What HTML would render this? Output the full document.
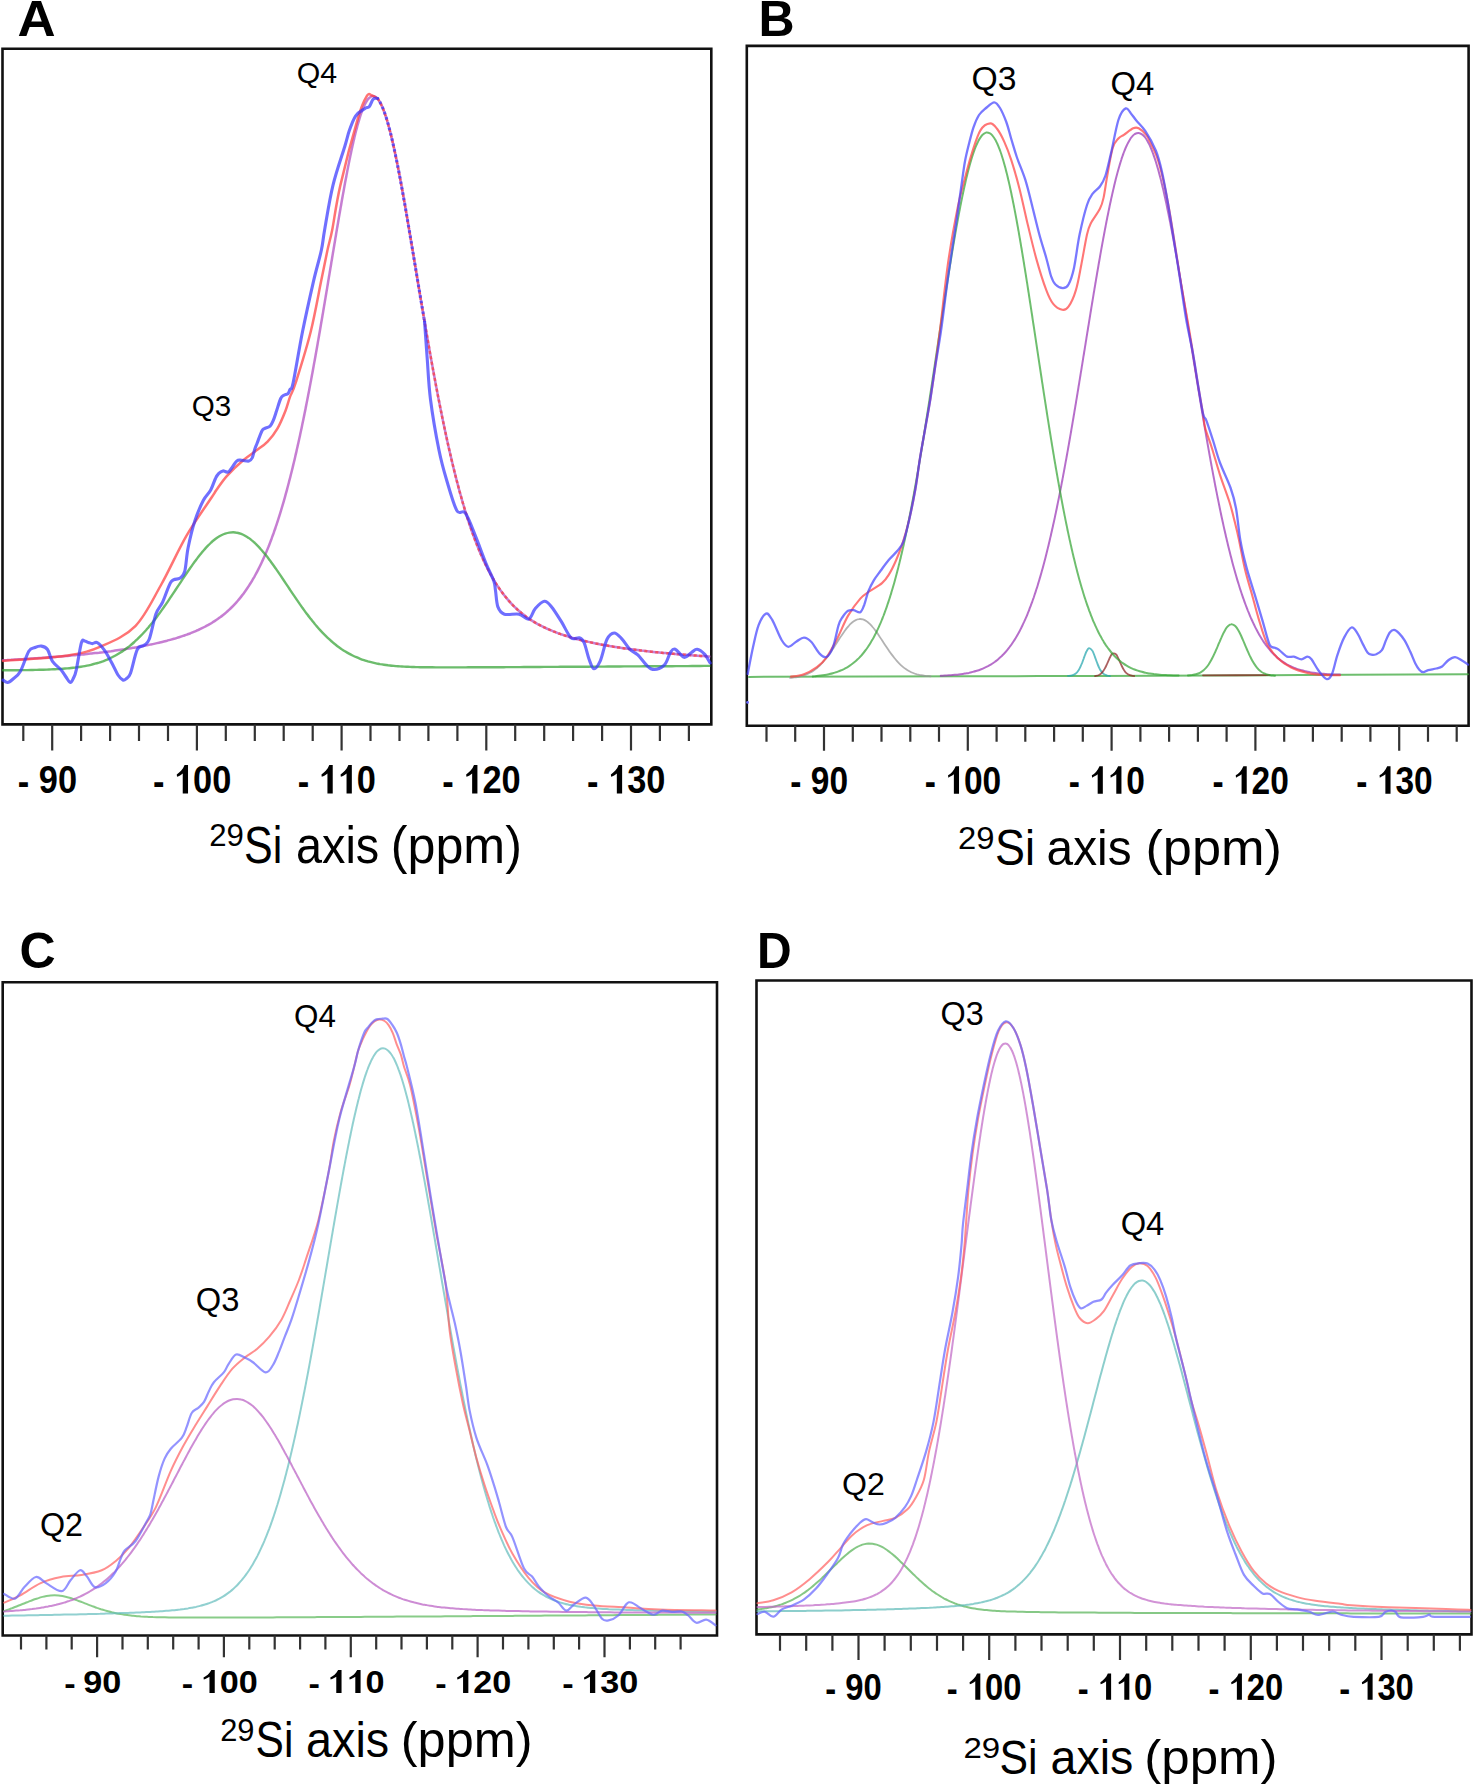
<!DOCTYPE html>
<html><head><meta charset="utf-8"><style>
html,body{margin:0;padding:0;background:#fff;}
svg{display:block;}
text{font-family:"Liberation Sans",sans-serif;}
</style></head><body>
<svg width="1475" height="1786" viewBox="0 0 1475 1786">
<rect width="1475" height="1786" fill="#fff"/>
<text transform="translate(17.5,36.0) scale(1.055,1)" font-family="Liberation Sans" font-weight="bold" font-size="50" fill="#000">A</text>
<text transform="translate(758.6,36.0) scale(1.0,1)" font-family="Liberation Sans" font-weight="bold" font-size="50" fill="#000">B</text>
<text transform="translate(19.4,967.5) scale(1.0,1)" font-family="Liberation Sans" font-weight="bold" font-size="50" fill="#000">C</text>
<text transform="translate(757.0,967.8) scale(0.96,1)" font-family="Liberation Sans" font-weight="bold" font-size="50" fill="#000">D</text>
<path d="M2.5,724.4V48.8H711.3V724.4Z" fill="none" stroke="#111" stroke-width="2.6"/>
<path d="M23.3,724.4v16.6M52.2,724.4v26.0M81.1,724.4v16.6M110.1,724.4v16.6M139.0,724.4v16.6M168.0,724.4v16.6M196.9,724.4v26.0M225.8,724.4v16.6M254.8,724.4v16.6M283.7,724.4v16.6M312.7,724.4v16.6M341.6,724.4v26.0M370.5,724.4v16.6M399.5,724.4v16.6M428.4,724.4v16.6M457.4,724.4v16.6M486.3,724.4v26.0M515.2,724.4v16.6M544.2,724.4v16.6M573.1,724.4v16.6M602.1,724.4v16.6M631.0,724.4v26.0M659.9,724.4v16.6M688.9,724.4v16.6" stroke="#333" stroke-width="2.2" fill="none"/>
<g transform="translate(47.4,793.4) scale(0.87,1)"><text x="-34.03" y="1.2" font-family="Liberation Sans" font-weight="bold" font-size="39.5" fill="#000">-</text><text x="-9.89" y="0" font-family="Liberation Sans" font-weight="bold" font-size="39.5" fill="#000">9</text><text x="12.07" y="0" font-family="Liberation Sans" font-weight="bold" font-size="39.5" fill="#000">0</text></g>
<g transform="translate(192.1,793.4) scale(0.87,1)"><text x="-45.01" y="1.2" font-family="Liberation Sans" font-weight="bold" font-size="39.5" fill="#000">-</text><path d="M-4.68,0.00L-4.68,-28.28L-8.63,-28.28C-10.61,-23.70 -14.56,-20.54 -17.64,-18.96L-17.32,-16.59C-14.95,-17.38 -12.58,-18.56 -10.76,-19.95L-10.76,0.00Z" fill="#000"/><text x="1.09" y="0" font-family="Liberation Sans" font-weight="bold" font-size="39.5" fill="#000">0</text><text x="23.05" y="0" font-family="Liberation Sans" font-weight="bold" font-size="39.5" fill="#000">0</text></g>
<g transform="translate(336.8,793.4) scale(0.87,1)"><text x="-45.01" y="1.2" font-family="Liberation Sans" font-weight="bold" font-size="39.5" fill="#000">-</text><path d="M-4.68,0.00L-4.68,-28.28L-8.63,-28.28C-10.61,-23.70 -14.56,-20.54 -17.64,-18.96L-17.32,-16.59C-14.95,-17.38 -12.58,-18.56 -10.76,-19.95L-10.76,0.00Z" fill="#000"/><path d="M17.28,0.00L17.28,-28.28L13.33,-28.28C11.36,-23.70 7.41,-20.54 4.33,-18.96L4.64,-16.59C7.01,-17.38 9.38,-18.56 11.20,-19.95L11.20,0.00Z" fill="#000"/><text x="23.05" y="0" font-family="Liberation Sans" font-weight="bold" font-size="39.5" fill="#000">0</text></g>
<g transform="translate(481.5,793.4) scale(0.87,1)"><text x="-45.01" y="1.2" font-family="Liberation Sans" font-weight="bold" font-size="39.5" fill="#000">-</text><path d="M-4.68,0.00L-4.68,-28.28L-8.63,-28.28C-10.61,-23.70 -14.56,-20.54 -17.64,-18.96L-17.32,-16.59C-14.95,-17.38 -12.58,-18.56 -10.76,-19.95L-10.76,0.00Z" fill="#000"/><text x="1.09" y="0" font-family="Liberation Sans" font-weight="bold" font-size="39.5" fill="#000">2</text><text x="23.05" y="0" font-family="Liberation Sans" font-weight="bold" font-size="39.5" fill="#000">0</text></g>
<g transform="translate(626.2,793.4) scale(0.87,1)"><text x="-45.01" y="1.2" font-family="Liberation Sans" font-weight="bold" font-size="39.5" fill="#000">-</text><path d="M-4.68,0.00L-4.68,-28.28L-8.63,-28.28C-10.61,-23.70 -14.56,-20.54 -17.64,-18.96L-17.32,-16.59C-14.95,-17.38 -12.58,-18.56 -10.76,-19.95L-10.76,0.00Z" fill="#000"/><text x="1.09" y="0" font-family="Liberation Sans" font-weight="bold" font-size="39.5" fill="#000">3</text><text x="23.05" y="0" font-family="Liberation Sans" font-weight="bold" font-size="39.5" fill="#000">0</text></g>
<text x="209.20" y="845.94" font-family="Liberation Sans" font-size="31.87" fill="#000" textLength="34.67" lengthAdjust="spacingAndGlyphs">29</text>
<text x="244.00" y="862.90" font-family="Liberation Sans" font-size="51.40" fill="#000" textLength="38.29" lengthAdjust="spacingAndGlyphs">Si</text>
<text x="296.00" y="862.90" font-family="Liberation Sans" font-size="51.40" fill="#000" textLength="83.17" lengthAdjust="spacingAndGlyphs">axis</text>
<text x="390.80" y="862.90" font-family="Liberation Sans" font-size="51.40" fill="#000" textLength="131.06" lengthAdjust="spacingAndGlyphs">(ppm)</text>
<path d="M746.8,725.8V45.9H1468.6V725.8Z" fill="none" stroke="#111" stroke-width="2.6"/>
<path d="M766.5,725.8v16.0M795.2,725.8v16.0M824.0,725.8v25.0M852.8,725.8v16.0M881.5,725.8v16.0M910.3,725.8v16.0M939.0,725.8v16.0M967.8,725.8v25.0M996.6,725.8v16.0M1025.3,725.8v16.0M1054.1,725.8v16.0M1082.8,725.8v16.0M1111.6,725.8v25.0M1140.4,725.8v16.0M1169.1,725.8v16.0M1197.9,725.8v16.0M1226.6,725.8v16.0M1255.4,725.8v25.0M1284.2,725.8v16.0M1312.9,725.8v16.0M1341.7,725.8v16.0M1370.4,725.8v16.0M1399.2,725.8v25.0M1428.0,725.8v16.0M1456.7,725.8v16.0" stroke="#333" stroke-width="2.2" fill="none"/>
<g transform="translate(819.2,793.8) scale(0.87,1)"><text x="-33.17" y="1.2" font-family="Liberation Sans" font-weight="bold" font-size="38.5" fill="#000">-</text><text x="-9.64" y="0" font-family="Liberation Sans" font-weight="bold" font-size="38.5" fill="#000">9</text><text x="11.76" y="0" font-family="Liberation Sans" font-weight="bold" font-size="38.5" fill="#000">0</text></g>
<g transform="translate(963.0,793.8) scale(0.87,1)"><text x="-43.87" y="1.2" font-family="Liberation Sans" font-weight="bold" font-size="38.5" fill="#000">-</text><path d="M-4.56,0.00L-4.56,-27.57L-8.41,-27.57C-10.34,-23.10 -14.19,-20.02 -17.19,-18.48L-16.88,-16.17C-14.57,-16.94 -12.26,-18.09 -10.49,-19.44L-10.49,0.00Z" fill="#000"/><text x="1.06" y="0" font-family="Liberation Sans" font-weight="bold" font-size="38.5" fill="#000">0</text><text x="22.46" y="0" font-family="Liberation Sans" font-weight="bold" font-size="38.5" fill="#000">0</text></g>
<g transform="translate(1106.8,793.8) scale(0.87,1)"><text x="-43.87" y="1.2" font-family="Liberation Sans" font-weight="bold" font-size="38.5" fill="#000">-</text><path d="M-4.56,0.00L-4.56,-27.57L-8.41,-27.57C-10.34,-23.10 -14.19,-20.02 -17.19,-18.48L-16.88,-16.17C-14.57,-16.94 -12.26,-18.09 -10.49,-19.44L-10.49,0.00Z" fill="#000"/><path d="M16.84,0.00L16.84,-27.57L12.99,-27.57C11.07,-23.10 7.22,-20.02 4.22,-18.48L4.52,-16.17C6.83,-16.94 9.14,-18.09 10.91,-19.44L10.91,0.00Z" fill="#000"/><text x="22.46" y="0" font-family="Liberation Sans" font-weight="bold" font-size="38.5" fill="#000">0</text></g>
<g transform="translate(1250.7,793.8) scale(0.87,1)"><text x="-43.87" y="1.2" font-family="Liberation Sans" font-weight="bold" font-size="38.5" fill="#000">-</text><path d="M-4.56,0.00L-4.56,-27.57L-8.41,-27.57C-10.34,-23.10 -14.19,-20.02 -17.19,-18.48L-16.88,-16.17C-14.57,-16.94 -12.26,-18.09 -10.49,-19.44L-10.49,0.00Z" fill="#000"/><text x="1.06" y="0" font-family="Liberation Sans" font-weight="bold" font-size="38.5" fill="#000">2</text><text x="22.46" y="0" font-family="Liberation Sans" font-weight="bold" font-size="38.5" fill="#000">0</text></g>
<g transform="translate(1394.5,793.8) scale(0.87,1)"><text x="-43.87" y="1.2" font-family="Liberation Sans" font-weight="bold" font-size="38.5" fill="#000">-</text><path d="M-4.56,0.00L-4.56,-27.57L-8.41,-27.57C-10.34,-23.10 -14.19,-20.02 -17.19,-18.48L-16.88,-16.17C-14.57,-16.94 -12.26,-18.09 -10.49,-19.44L-10.49,0.00Z" fill="#000"/><text x="1.06" y="0" font-family="Liberation Sans" font-weight="bold" font-size="38.5" fill="#000">3</text><text x="22.46" y="0" font-family="Liberation Sans" font-weight="bold" font-size="38.5" fill="#000">0</text></g>
<text x="958.00" y="848.89" font-family="Liberation Sans" font-size="30.83" fill="#000" textLength="36.48" lengthAdjust="spacingAndGlyphs">29</text>
<text x="995.00" y="865.30" font-family="Liberation Sans" font-size="49.72" fill="#000" textLength="39.93" lengthAdjust="spacingAndGlyphs">Si</text>
<text x="1046.60" y="865.30" font-family="Liberation Sans" font-size="49.72" fill="#000" textLength="85.01" lengthAdjust="spacingAndGlyphs">axis</text>
<text x="1145.40" y="865.30" font-family="Liberation Sans" font-size="49.72" fill="#000" textLength="136.56" lengthAdjust="spacingAndGlyphs">(ppm)</text>
<path d="M2.7,1635.5V982.3H717.0V1635.5Z" fill="none" stroke="#111" stroke-width="2.6"/>
<path d="M21.0,1635.5v14.1M46.4,1635.5v14.1M71.7,1635.5v14.1M97.1,1635.5v21.8M122.5,1635.5v14.1M147.8,1635.5v14.1M173.2,1635.5v14.1M198.6,1635.5v14.1M223.9,1635.5v21.8M249.3,1635.5v14.1M274.7,1635.5v14.1M300.1,1635.5v14.1M325.4,1635.5v14.1M350.8,1635.5v21.8M376.2,1635.5v14.1M401.5,1635.5v14.1M426.9,1635.5v14.1M452.3,1635.5v14.1M477.6,1635.5v21.8M503.0,1635.5v14.1M528.4,1635.5v14.1M553.8,1635.5v14.1M579.1,1635.5v14.1M604.5,1635.5v21.8M629.9,1635.5v14.1M655.2,1635.5v14.1M680.6,1635.5v14.1" stroke="#333" stroke-width="2.2" fill="none"/>
<g transform="translate(91.9,1692.9) scale(1.07,1)"><text x="-25.77" y="1.2" font-family="Liberation Sans" font-weight="bold" font-size="32" fill="#000">-</text><text x="-8.02" y="0" font-family="Liberation Sans" font-weight="bold" font-size="32" fill="#000">9</text><text x="9.78" y="0" font-family="Liberation Sans" font-weight="bold" font-size="32" fill="#000">0</text></g>
<g transform="translate(218.8,1692.9) scale(1.07,1)"><text x="-34.66" y="1.2" font-family="Liberation Sans" font-weight="bold" font-size="32" fill="#000">-</text><path d="M-3.79,0.00L-3.79,-22.91L-6.99,-22.91C-8.59,-19.20 -11.79,-16.64 -14.29,-15.36L-14.03,-13.44C-12.11,-14.08 -10.19,-15.04 -8.72,-16.16L-8.72,0.00Z" fill="#000"/><text x="0.88" y="0" font-family="Liberation Sans" font-weight="bold" font-size="32" fill="#000">0</text><text x="18.67" y="0" font-family="Liberation Sans" font-weight="bold" font-size="32" fill="#000">0</text></g>
<g transform="translate(345.6,1692.9) scale(1.07,1)"><text x="-34.66" y="1.2" font-family="Liberation Sans" font-weight="bold" font-size="32" fill="#000">-</text><path d="M-3.79,0.00L-3.79,-22.91L-6.99,-22.91C-8.59,-19.20 -11.79,-16.64 -14.29,-15.36L-14.03,-13.44C-12.11,-14.08 -10.19,-15.04 -8.72,-16.16L-8.72,0.00Z" fill="#000"/><path d="M14.00,0.00L14.00,-22.91L10.80,-22.91C9.20,-19.20 6.00,-16.64 3.50,-15.36L3.76,-13.44C5.68,-14.08 7.60,-15.04 9.07,-16.16L9.07,0.00Z" fill="#000"/><text x="18.67" y="0" font-family="Liberation Sans" font-weight="bold" font-size="32" fill="#000">0</text></g>
<g transform="translate(472.4,1692.9) scale(1.07,1)"><text x="-34.66" y="1.2" font-family="Liberation Sans" font-weight="bold" font-size="32" fill="#000">-</text><path d="M-3.79,0.00L-3.79,-22.91L-6.99,-22.91C-8.59,-19.20 -11.79,-16.64 -14.29,-15.36L-14.03,-13.44C-12.11,-14.08 -10.19,-15.04 -8.72,-16.16L-8.72,0.00Z" fill="#000"/><text x="0.88" y="0" font-family="Liberation Sans" font-weight="bold" font-size="32" fill="#000">2</text><text x="18.67" y="0" font-family="Liberation Sans" font-weight="bold" font-size="32" fill="#000">0</text></g>
<g transform="translate(599.3,1692.9) scale(1.07,1)"><text x="-34.66" y="1.2" font-family="Liberation Sans" font-weight="bold" font-size="32" fill="#000">-</text><path d="M-3.79,0.00L-3.79,-22.91L-6.99,-22.91C-8.59,-19.20 -11.79,-16.64 -14.29,-15.36L-14.03,-13.44C-12.11,-14.08 -10.19,-15.04 -8.72,-16.16L-8.72,0.00Z" fill="#000"/><text x="0.88" y="0" font-family="Liberation Sans" font-weight="bold" font-size="32" fill="#000">3</text><text x="18.67" y="0" font-family="Liberation Sans" font-weight="bold" font-size="32" fill="#000">0</text></g>
<text x="220.20" y="1740.78" font-family="Liberation Sans" font-size="30.48" fill="#000" textLength="34.31" lengthAdjust="spacingAndGlyphs">29</text>
<text x="255.60" y="1757.00" font-family="Liberation Sans" font-size="49.16" fill="#000" textLength="37.78" lengthAdjust="spacingAndGlyphs">Si</text>
<text x="306.00" y="1757.00" font-family="Liberation Sans" font-size="49.16" fill="#000" textLength="83.17" lengthAdjust="spacingAndGlyphs">axis</text>
<text x="400.80" y="1757.00" font-family="Liberation Sans" font-size="49.16" fill="#000" textLength="131.68" lengthAdjust="spacingAndGlyphs">(ppm)</text>
<path d="M756.5,1634.4V980.5H1471.5V1634.4Z" fill="none" stroke="#111" stroke-width="2.6"/>
<path d="M780.0,1634.4v16.4M806.2,1634.4v16.4M832.4,1634.4v16.4M858.5,1634.4v25.5M884.6,1634.4v16.4M910.8,1634.4v16.4M937.0,1634.4v16.4M963.1,1634.4v16.4M989.2,1634.4v25.5M1015.4,1634.4v16.4M1041.5,1634.4v16.4M1067.7,1634.4v16.4M1093.8,1634.4v16.4M1120.0,1634.4v25.5M1146.2,1634.4v16.4M1172.3,1634.4v16.4M1198.5,1634.4v16.4M1224.6,1634.4v16.4M1250.8,1634.4v25.5M1276.9,1634.4v16.4M1303.0,1634.4v16.4M1329.2,1634.4v16.4M1355.3,1634.4v16.4M1381.5,1634.4v25.5M1407.7,1634.4v16.4M1433.8,1634.4v16.4M1459.9,1634.4v16.4" stroke="#333" stroke-width="2.2" fill="none"/>
<g transform="translate(853.5,1699.7) scale(0.895,1)"><text x="-31.53" y="1.2" font-family="Liberation Sans" font-weight="bold" font-size="36.6" fill="#000">-</text><text x="-9.17" y="0" font-family="Liberation Sans" font-weight="bold" font-size="36.6" fill="#000">9</text><text x="11.18" y="0" font-family="Liberation Sans" font-weight="bold" font-size="36.6" fill="#000">0</text></g>
<g transform="translate(984.2,1699.7) scale(0.895,1)"><text x="-41.71" y="1.2" font-family="Liberation Sans" font-weight="bold" font-size="36.6" fill="#000">-</text><path d="M-4.34,0.00L-4.34,-26.21L-8.00,-26.21C-9.83,-21.96 -13.49,-19.03 -16.34,-17.57L-16.05,-15.37C-13.85,-16.10 -11.66,-17.20 -9.97,-18.48L-9.97,0.00Z" fill="#000"/><text x="1.01" y="0" font-family="Liberation Sans" font-weight="bold" font-size="36.6" fill="#000">0</text><text x="21.36" y="0" font-family="Liberation Sans" font-weight="bold" font-size="36.6" fill="#000">0</text></g>
<g transform="translate(1115.0,1699.7) scale(0.895,1)"><text x="-41.71" y="1.2" font-family="Liberation Sans" font-weight="bold" font-size="36.6" fill="#000">-</text><path d="M-4.34,0.00L-4.34,-26.21L-8.00,-26.21C-9.83,-21.96 -13.49,-19.03 -16.34,-17.57L-16.05,-15.37C-13.85,-16.10 -11.66,-17.20 -9.97,-18.48L-9.97,0.00Z" fill="#000"/><path d="M16.01,0.00L16.01,-26.21L12.35,-26.21C10.52,-21.96 6.86,-19.03 4.01,-17.57L4.30,-15.37C6.50,-16.10 8.69,-17.20 10.38,-18.48L10.38,0.00Z" fill="#000"/><text x="21.36" y="0" font-family="Liberation Sans" font-weight="bold" font-size="36.6" fill="#000">0</text></g>
<g transform="translate(1245.8,1699.7) scale(0.895,1)"><text x="-41.71" y="1.2" font-family="Liberation Sans" font-weight="bold" font-size="36.6" fill="#000">-</text><path d="M-4.34,0.00L-4.34,-26.21L-8.00,-26.21C-9.83,-21.96 -13.49,-19.03 -16.34,-17.57L-16.05,-15.37C-13.85,-16.10 -11.66,-17.20 -9.97,-18.48L-9.97,0.00Z" fill="#000"/><text x="1.01" y="0" font-family="Liberation Sans" font-weight="bold" font-size="36.6" fill="#000">2</text><text x="21.36" y="0" font-family="Liberation Sans" font-weight="bold" font-size="36.6" fill="#000">0</text></g>
<g transform="translate(1376.5,1699.7) scale(0.895,1)"><text x="-41.71" y="1.2" font-family="Liberation Sans" font-weight="bold" font-size="36.6" fill="#000">-</text><path d="M-4.34,0.00L-4.34,-26.21L-8.00,-26.21C-9.83,-21.96 -13.49,-19.03 -16.34,-17.57L-16.05,-15.37C-13.85,-16.10 -11.66,-17.20 -9.97,-18.48L-9.97,0.00Z" fill="#000"/><text x="1.01" y="0" font-family="Liberation Sans" font-weight="bold" font-size="36.6" fill="#000">3</text><text x="21.36" y="0" font-family="Liberation Sans" font-weight="bold" font-size="36.6" fill="#000">0</text></g>
<text x="963.40" y="1757.75" font-family="Liberation Sans" font-size="29.79" fill="#000" textLength="36.75" lengthAdjust="spacingAndGlyphs">29</text>
<text x="999.50" y="1773.60" font-family="Liberation Sans" font-size="48.04" fill="#000" textLength="38.06" lengthAdjust="spacingAndGlyphs">Si</text>
<text x="1050.50" y="1773.60" font-family="Liberation Sans" font-size="48.04" fill="#000" textLength="82.76" lengthAdjust="spacingAndGlyphs">axis</text>
<text x="1144.30" y="1773.60" font-family="Liberation Sans" font-size="48.04" fill="#000" textLength="133.30" lengthAdjust="spacingAndGlyphs">(ppm)</text>
<path d="M3.0,660.2C3.7,660.1 5.7,660.0 7.0,660.0C8.3,659.9 9.7,659.8 11.0,659.8C12.3,659.7 13.7,659.6 15.0,659.5C16.3,659.5 17.7,659.4 19.0,659.3C20.3,659.2 21.7,659.1 23.0,659.1C24.3,659.0 25.7,658.9 27.0,658.8C28.3,658.7 29.7,658.7 31.0,658.6C32.3,658.5 33.7,658.4 35.0,658.3C36.3,658.2 37.7,658.1 39.0,658.0C40.3,658.0 41.7,657.9 43.0,657.8C44.3,657.7 45.7,657.6 47.0,657.5C48.3,657.4 49.7,657.3 51.0,657.2C52.3,657.1 53.7,657.0 55.0,656.9C56.3,656.8 57.7,656.7 59.0,656.6C60.3,656.5 61.7,656.3 63.0,656.2C64.3,656.1 65.7,656.0 67.0,655.9C68.3,655.8 69.7,655.7 71.0,655.5C72.3,655.4 73.7,655.3 75.0,655.2C76.3,655.0 77.7,654.9 79.0,654.8C80.3,654.7 81.7,654.5 83.0,654.4C84.3,654.3 85.7,654.1 87.0,654.0C88.3,653.8 89.7,653.7 91.0,653.6C92.3,653.4 93.7,653.3 95.0,653.1C96.3,653.0 97.7,652.8 99.0,652.7C100.3,652.5 101.7,652.3 103.0,652.2C104.3,652.0 105.7,651.8 107.0,651.7C108.3,651.5 109.7,651.3 111.0,651.2C112.3,651.0 113.7,650.8 115.0,650.6C116.3,650.4 117.7,650.2 119.0,650.0C120.3,649.9 121.7,649.7 123.0,649.5C124.3,649.3 125.7,649.0 127.0,648.8C128.3,648.6 129.7,648.4 131.0,648.2C132.3,648.0 133.7,647.7 135.0,647.5C136.3,647.3 137.7,647.0 139.0,646.8C140.3,646.6 141.7,646.3 143.0,646.1C144.3,645.8 145.7,645.5 147.0,645.3C148.3,645.0 149.7,644.7 151.0,644.4C152.3,644.2 153.7,643.9 155.0,643.6C156.3,643.3 157.7,643.0 159.0,642.7C160.3,642.4 161.7,642.0 163.0,641.7C164.3,641.4 165.7,641.0 167.0,640.7C168.3,640.3 169.7,640.0 171.0,639.6C172.3,639.2 173.7,638.8 175.0,638.5C176.3,638.1 177.7,637.6 179.0,637.2C180.3,636.8 181.7,636.4 183.0,635.9C184.3,635.5 185.5,635.0 186.8,634.6C188.1,634.1 189.3,633.6 190.6,633.2C191.9,632.7 193.1,632.2 194.4,631.6C195.7,631.1 196.9,630.5 198.2,630.0C199.5,629.4 200.8,628.8 202.0,628.2C203.2,627.6 204.4,627.0 205.6,626.4C206.8,625.7 208.0,625.1 209.2,624.4C210.4,623.7 211.6,623.0 212.8,622.2C214.0,621.5 215.1,620.8 216.2,620.0C217.3,619.3 218.5,618.4 219.6,617.6C220.7,616.8 221.7,616.1 222.8,615.2C223.9,614.4 225.0,613.5 226.0,612.6C227.0,611.7 228.0,610.8 229.0,609.9C230.0,609.0 231.0,608.0 232.0,607.0C233.0,606.0 233.9,605.1 234.8,604.1C235.7,603.1 236.7,602.0 237.6,601.0C238.5,600.0 239.3,599.0 240.2,597.9C241.1,596.8 242.0,595.7 242.8,594.6C243.6,593.5 244.4,592.4 245.2,591.3C246.0,590.2 246.8,589.0 247.6,587.8C248.4,586.7 249.1,585.6 249.8,584.4C250.5,583.3 251.3,582.1 252.0,580.8C252.7,579.6 253.5,578.3 254.2,577.1C254.9,575.8 255.5,574.7 256.2,573.4C256.9,572.2 257.6,570.8 258.2,569.6C258.8,568.4 259.4,567.2 260.0,566.0C260.6,564.8 261.2,563.5 261.8,562.2C262.4,561.0 263.0,559.6 263.6,558.3C264.2,557.0 264.8,555.5 265.4,554.2C266.0,552.9 266.5,551.7 267.0,550.4C267.5,549.1 268.1,547.8 268.6,546.5C269.1,545.1 269.7,543.8 270.2,542.4C270.7,541.0 271.3,539.5 271.8,538.1C272.3,536.8 272.7,535.6 273.2,534.3C273.7,533.0 274.1,531.6 274.6,530.3C275.1,529.0 275.5,527.6 276.0,526.2C276.5,524.8 276.9,523.4 277.4,522.0C277.9,520.6 278.4,519.0 278.8,517.7C279.2,516.3 279.6,515.1 280.0,513.8C280.4,512.5 280.8,511.2 281.2,509.9C281.6,508.6 282.0,507.3 282.4,505.9C282.8,504.5 283.2,503.2 283.6,501.8C284.0,500.4 284.4,499.0 284.8,497.6C285.2,496.1 285.6,494.7 286.0,493.2C286.4,491.8 286.8,490.3 287.2,488.8C287.6,487.3 288.0,485.8 288.4,484.3C288.8,482.8 289.2,481.1 289.6,479.7C290.0,478.3 290.3,477.1 290.6,475.8C290.9,474.4 291.3,473.1 291.6,471.8C291.9,470.4 292.3,469.1 292.6,467.7C292.9,466.3 293.3,465.0 293.6,463.6C293.9,462.2 294.3,460.8 294.6,459.4C294.9,457.9 295.3,456.5 295.6,455.1C295.9,453.6 296.3,452.2 296.6,450.7C296.9,449.3 297.3,447.8 297.6,446.3C297.9,444.8 298.3,443.3 298.6,441.8C298.9,440.3 299.3,438.8 299.6,437.2C299.9,435.7 300.3,434.2 300.6,432.6C300.9,431.0 301.3,429.5 301.6,427.9C301.9,426.3 302.3,424.7 302.6,423.1C302.9,421.5 303.3,419.7 303.6,418.3C303.9,416.8 304.1,415.7 304.4,414.4C304.7,413.0 304.9,411.7 305.2,410.4C305.5,409.1 305.7,407.7 306.0,406.4C306.3,405.0 306.5,403.7 306.8,402.3C307.1,401.0 307.3,399.6 307.6,398.2C307.9,396.9 308.1,395.5 308.4,394.1C308.7,392.7 308.9,391.3 309.2,389.9C309.5,388.5 309.7,387.1 310.0,385.7C310.3,384.3 310.5,382.9 310.8,381.5C311.1,380.1 311.3,378.6 311.6,377.2C311.9,375.8 312.1,374.3 312.4,372.9C312.7,371.4 312.9,370.0 313.2,368.5C313.5,367.1 313.7,365.6 314.0,364.1C314.3,362.6 314.5,361.2 314.8,359.7C315.1,358.2 315.3,356.7 315.6,355.2C315.9,353.7 316.1,352.2 316.4,350.7C316.7,349.2 316.9,347.7 317.2,346.2C317.5,344.7 317.7,343.2 318.0,341.6C318.3,340.1 318.5,338.6 318.8,337.1C319.1,335.5 319.3,334.0 319.6,332.4C319.9,330.9 320.1,329.4 320.4,327.8C320.7,326.3 320.9,324.7 321.2,323.1C321.5,321.6 321.7,320.0 322.0,318.5C322.3,316.9 322.5,315.3 322.8,313.8C323.1,312.2 323.3,310.6 323.6,309.0C323.9,307.4 324.1,305.9 324.4,304.3C324.7,302.7 324.9,301.1 325.2,299.5C325.5,297.9 325.7,296.3 326.0,294.7C326.3,293.1 326.5,291.6 326.8,290.0C327.1,288.4 327.3,286.8 327.6,285.2C327.9,283.6 328.1,281.9 328.4,280.3C328.7,278.7 328.9,277.1 329.2,275.5C329.5,273.9 329.7,272.3 330.0,270.7C330.3,269.1 330.5,267.5 330.8,265.9C331.1,264.3 331.3,262.7 331.6,261.1C331.9,259.5 332.1,257.9 332.4,256.3C332.7,254.7 332.9,253.1 333.2,251.5C333.5,249.9 333.7,248.3 334.0,246.7C334.3,245.1 334.5,243.5 334.8,241.9C335.1,240.3 335.3,238.7 335.6,237.1C335.9,235.5 336.1,233.9 336.4,232.3C336.7,230.8 336.9,229.2 337.2,227.6C337.5,226.0 337.7,224.5 338.0,222.9C338.3,221.3 338.5,219.8 338.8,218.2C339.1,216.7 339.3,215.1 339.6,213.6C339.9,212.0 340.1,210.5 340.4,208.9C340.7,207.4 340.9,205.9 341.2,204.4C341.5,202.8 341.7,201.3 342.0,199.8C342.3,198.3 342.5,196.8 342.8,195.3C343.1,193.8 343.3,192.4 343.6,190.9C343.9,189.4 344.1,187.9 344.4,186.5C344.7,185.0 344.9,183.6 345.2,182.1C345.5,180.7 345.7,179.3 346.0,177.9C346.3,176.5 346.5,175.0 346.8,173.7C347.1,172.3 347.3,170.9 347.6,169.5C347.9,168.1 348.1,166.8 348.4,165.4C348.7,164.1 348.9,162.9 349.2,161.4C349.5,160.0 349.9,158.2 350.2,156.6C350.5,154.9 350.9,153.4 351.2,151.8C351.5,150.2 351.9,148.7 352.2,147.2C352.5,145.7 352.9,144.2 353.2,142.7C353.5,141.3 353.9,139.8 354.2,138.4C354.5,137.0 354.9,135.6 355.2,134.3C355.5,133.0 355.8,131.8 356.2,130.3C356.6,128.9 357.0,127.3 357.4,125.8C357.8,124.4 358.2,123.0 358.6,121.6C359.0,120.2 359.4,119.0 359.8,117.6C360.2,116.3 360.7,114.7 361.2,113.4C361.7,112.1 362.1,110.9 362.6,109.6C363.1,108.3 363.6,107.1 364.2,105.8C364.8,104.5 365.5,103.1 366.2,101.9C366.9,100.7 367.6,99.4 368.6,98.5C369.6,97.5 370.8,96.4 372.0,96.1C373.2,95.9 374.7,96.4 375.8,97.0C376.9,97.7 377.8,98.9 378.6,100.0C379.4,101.1 380.1,102.5 380.8,103.7C381.5,105.0 382.0,106.3 382.6,107.6C383.2,109.0 383.7,110.4 384.2,111.7C384.7,113.1 385.1,114.4 385.6,115.8C386.1,117.2 386.6,118.8 387.0,120.2C387.4,121.7 387.8,123.0 388.2,124.4C388.6,125.8 389.0,127.4 389.4,128.8C389.8,130.2 390.1,131.4 390.4,132.7C390.7,134.0 391.1,135.4 391.4,136.8C391.7,138.1 392.1,139.6 392.4,141.0C392.7,142.4 393.1,143.9 393.4,145.4C393.7,146.9 394.1,148.4 394.4,149.9C394.7,151.5 395.1,153.0 395.4,154.6C395.7,156.2 396.1,158.0 396.4,159.5C396.7,160.9 396.9,162.1 397.2,163.4C397.5,164.7 397.7,166.1 398.0,167.5C398.3,168.8 398.5,170.2 398.8,171.6C399.1,172.9 399.3,174.3 399.6,175.7C399.9,177.1 400.1,178.6 400.4,180.0C400.7,181.4 400.9,182.8 401.2,184.3C401.5,185.7 401.7,187.2 402.0,188.7C402.3,190.1 402.5,191.6 402.8,193.1C403.1,194.6 403.3,196.0 403.6,197.5C403.9,199.0 404.1,200.5 404.4,202.1C404.7,203.6 404.9,205.1 405.2,206.6C405.5,208.1 405.7,209.7 406.0,211.2C406.3,212.8 406.5,214.3 406.8,215.8C407.1,217.4 407.3,219.0 407.6,220.5C407.9,222.1 408.1,223.6 408.4,225.2C408.7,226.8 408.9,228.3 409.2,229.9C409.5,231.5 409.7,233.1 410.0,234.7C410.3,236.2 410.5,237.8 410.8,239.4C411.1,241.0 411.3,242.6 411.6,244.2C411.9,245.8 412.1,247.4 412.4,249.0C412.7,250.6 412.9,252.2 413.2,253.8C413.5,255.4 413.7,257.0 414.0,258.6C414.3,260.2 414.5,261.8 414.8,263.4C415.1,265.0 415.3,266.6 415.6,268.2C415.9,269.8 416.1,271.4 416.4,273.0C416.7,274.6 416.9,276.2 417.2,277.8C417.5,279.5 417.7,281.1 418.0,282.7C418.3,284.3 418.5,285.9 418.8,287.5C419.1,289.1 419.3,290.6 419.6,292.2C419.9,293.8 420.1,295.4 420.4,297.0C420.7,298.6 420.9,300.2 421.2,301.8C421.5,303.4 421.7,305.0 422.0,306.5C422.3,308.1 422.5,309.7 422.8,311.3C423.1,312.8 423.3,314.4 423.6,316.0C423.9,317.5 424.1,319.1 424.4,320.7C424.7,322.2 424.9,323.8 425.2,325.3C425.5,326.9 425.7,328.4 426.0,330.0C426.3,331.5 426.5,333.1 426.8,334.6C427.1,336.1 427.3,337.7 427.6,339.2C427.9,340.7 428.1,342.3 428.4,343.8C428.7,345.3 428.9,346.8 429.2,348.3C429.5,349.8 429.7,351.3 430.0,352.8C430.3,354.3 430.5,355.8 430.8,357.3C431.1,358.8 431.3,360.3 431.6,361.7C431.9,363.2 432.1,364.7 432.4,366.1C432.7,367.6 432.9,369.1 433.2,370.5C433.5,372.0 433.7,373.4 434.0,374.8C434.3,376.3 434.5,377.7 434.8,379.1C435.1,380.6 435.3,382.0 435.6,383.4C435.9,384.8 436.1,386.2 436.4,387.6C436.7,389.0 436.9,390.4 437.2,391.8C437.5,393.2 437.7,394.6 438.0,396.0C438.3,397.3 438.5,398.7 438.8,400.1C439.1,401.4 439.3,402.8 439.6,404.1C439.9,405.5 440.1,406.8 440.4,408.2C440.7,409.5 440.9,410.8 441.2,412.1C441.5,413.5 441.7,414.6 442.0,416.1C442.3,417.5 442.7,419.3 443.0,420.9C443.3,422.5 443.7,424.1 444.0,425.7C444.3,427.3 444.7,428.9 445.0,430.5C445.3,432.0 445.7,433.6 446.0,435.1C446.3,436.6 446.7,438.2 447.0,439.7C447.3,441.2 447.7,442.7 448.0,444.2C448.3,445.7 448.7,447.2 449.0,448.7C449.3,450.1 449.7,451.6 450.0,453.0C450.3,454.5 450.7,455.9 451.0,457.3C451.3,458.8 451.7,460.2 452.0,461.6C452.3,463.0 452.7,464.4 453.0,465.7C453.3,467.1 453.7,468.5 454.0,469.8C454.3,471.2 454.7,472.5 455.0,473.8C455.3,475.2 455.7,476.5 456.0,477.8C456.3,479.1 456.6,480.3 457.0,481.7C457.4,483.1 457.8,484.7 458.2,486.2C458.6,487.7 459.0,489.2 459.4,490.7C459.8,492.2 460.2,493.6 460.6,495.0C461.0,496.5 461.4,497.9 461.8,499.3C462.2,500.7 462.6,502.1 463.0,503.5C463.4,504.8 463.8,506.2 464.2,507.5C464.6,508.9 465.0,510.2 465.4,511.5C465.8,512.8 466.2,514.0 466.6,515.3C467.0,516.7 467.5,518.3 468.0,519.7C468.5,521.2 468.9,522.6 469.4,524.0C469.9,525.4 470.3,526.8 470.8,528.1C471.3,529.5 471.7,530.8 472.2,532.1C472.7,533.4 473.1,534.7 473.6,536.0C474.1,537.3 474.5,538.5 475.0,539.8C475.5,541.1 476.1,542.6 476.6,543.9C477.1,545.3 477.7,546.6 478.2,547.9C478.7,549.3 479.3,550.5 479.8,551.8C480.3,553.1 480.8,554.2 481.4,555.5C482.0,556.8 482.6,558.2 483.2,559.5C483.8,560.9 484.4,562.1 485.0,563.4C485.6,564.6 486.2,565.8 486.8,567.1C487.4,568.3 488.1,569.7 488.8,571.0C489.5,572.2 490.1,573.5 490.8,574.7C491.5,575.9 492.1,577.0 492.8,578.2C493.5,579.4 494.3,580.7 495.0,581.9C495.7,583.1 496.4,584.2 497.2,585.4C498.0,586.5 498.8,587.8 499.6,588.9C500.4,590.1 501.2,591.2 502.0,592.3C502.8,593.4 503.7,594.6 504.6,595.7C505.5,596.8 506.3,597.8 507.2,598.9C508.1,600.0 509.1,601.1 510.0,602.1C510.9,603.1 511.8,604.1 512.8,605.1C513.8,606.1 514.8,607.1 515.8,608.0C516.8,609.0 517.8,609.9 518.8,610.8C519.8,611.7 520.9,612.6 522.0,613.5C523.1,614.3 524.1,615.1 525.2,616.0C526.3,616.8 527.5,617.6 528.6,618.4C529.7,619.2 530.8,619.9 532.0,620.6C533.2,621.4 534.4,622.1 535.6,622.8C536.8,623.5 538.0,624.2 539.2,624.8C540.4,625.5 541.6,626.1 542.8,626.7C544.0,627.3 545.3,627.9 546.6,628.5C547.9,629.1 549.1,629.7 550.4,630.2C551.7,630.7 552.9,631.2 554.2,631.7C555.5,632.2 556.7,632.7 558.0,633.2C559.3,633.6 560.5,634.1 561.8,634.5C563.1,634.9 564.3,635.4 565.6,635.8C566.9,636.2 568.3,636.6 569.6,637.0C570.9,637.4 572.3,637.8 573.6,638.2C574.9,638.5 576.3,638.9 577.6,639.2C578.9,639.6 580.3,639.9 581.6,640.3C582.9,640.6 584.3,640.9 585.6,641.2C586.9,641.5 588.3,641.8 589.6,642.1C590.9,642.4 592.3,642.7 593.6,643.0C594.9,643.3 596.3,643.5 597.6,643.8C598.9,644.1 600.3,644.3 601.6,644.6C602.9,644.8 604.3,645.1 605.6,645.3C606.9,645.6 608.3,645.8 609.6,646.0C610.9,646.2 612.3,646.5 613.6,646.7C614.9,646.9 616.3,647.1 617.6,647.3C618.9,647.5 620.3,647.7 621.6,647.9C622.9,648.1 624.3,648.3 625.6,648.5C626.9,648.7 628.3,648.9 629.6,649.1C630.9,649.2 632.3,649.4 633.6,649.6C634.9,649.8 636.3,649.9 637.6,650.1C638.9,650.3 640.3,650.4 641.6,650.6C642.9,650.7 644.3,650.9 645.6,651.1C646.9,651.2 648.3,651.4 649.6,651.5C650.9,651.6 652.3,651.8 653.6,651.9C654.9,652.1 656.3,652.2 657.6,652.3C658.9,652.5 660.3,652.6 661.6,652.7C662.9,652.9 664.3,653.0 665.6,653.1C666.9,653.2 668.3,653.4 669.6,653.5C670.9,653.6 672.3,653.7 673.6,653.8C674.9,653.9 676.3,654.1 677.6,654.2C678.9,654.3 680.3,654.4 681.6,654.5C682.9,654.6 684.3,654.7 685.6,654.8C686.9,654.9 688.3,655.0 689.6,655.1C690.9,655.2 692.3,655.3 693.6,655.4C694.9,655.5 696.3,655.6 697.6,655.7C698.9,655.8 700.3,655.9 701.6,655.9C702.9,656.0 704.3,656.1 705.6,656.2C706.9,656.3 708.8,656.4 709.4,656.4" fill="none" stroke="#b04cc0" stroke-opacity="0.72" stroke-width="2.5" stroke-linejoin="round" stroke-linecap="round"/>
<path d="M3.0,670.3C3.7,670.3 5.7,670.3 7.0,670.3C8.3,670.3 9.7,670.3 11.0,670.3C12.3,670.2 13.7,670.2 15.0,670.2C16.3,670.2 17.7,670.2 19.0,670.2C20.3,670.2 21.7,670.1 23.0,670.1C24.3,670.1 25.7,670.1 27.0,670.1C28.3,670.0 29.7,670.0 31.0,670.0C32.3,670.0 33.7,669.9 35.0,669.9C36.3,669.9 37.7,669.8 39.0,669.8C40.3,669.8 41.7,669.7 43.0,669.7C44.3,669.6 45.7,669.6 47.0,669.6C48.3,669.5 49.7,669.5 51.0,669.4C52.3,669.3 53.7,669.3 55.0,669.2C56.3,669.1 57.7,669.1 59.0,669.0C60.3,668.9 61.7,668.8 63.0,668.7C64.3,668.6 65.7,668.5 67.0,668.4C68.3,668.3 69.7,668.2 71.0,668.0C72.3,667.9 73.7,667.7 75.0,667.6C76.3,667.4 77.7,667.2 79.0,667.0C80.3,666.8 81.7,666.6 83.0,666.4C84.3,666.2 85.7,665.9 87.0,665.6C88.3,665.4 89.7,665.1 91.0,664.8C92.3,664.5 93.7,664.1 95.0,663.7C96.3,663.4 97.7,663.0 99.0,662.6C100.3,662.1 101.5,661.7 102.8,661.3C104.1,660.8 105.3,660.3 106.6,659.8C107.9,659.3 109.2,658.7 110.4,658.1C111.6,657.5 112.8,657.0 114.0,656.3C115.2,655.7 116.4,655.0 117.6,654.3C118.8,653.6 120.0,652.9 121.2,652.1C122.4,651.4 123.5,650.6 124.6,649.8C125.7,649.0 126.9,648.2 128.0,647.3C129.1,646.5 130.1,645.6 131.2,644.7C132.3,643.8 133.4,642.9 134.4,642.0C135.4,641.0 136.4,640.1 137.4,639.2C138.4,638.2 139.4,637.2 140.4,636.2C141.4,635.2 142.3,634.3 143.2,633.3C144.1,632.3 145.1,631.2 146.0,630.2C146.9,629.1 147.9,628.0 148.8,626.9C149.7,625.9 150.5,624.9 151.4,623.8C152.3,622.7 153.1,621.6 154.0,620.5C154.9,619.4 155.8,618.3 156.6,617.2C157.4,616.1 158.2,615.0 159.0,613.9C159.8,612.9 160.6,611.8 161.4,610.6C162.2,609.5 163.0,608.4 163.8,607.3C164.6,606.1 165.4,605.0 166.2,603.8C167.0,602.7 167.8,601.5 168.6,600.3C169.4,599.1 170.2,597.9 171.0,596.7C171.8,595.6 172.6,594.4 173.4,593.2C174.2,592.0 175.0,590.7 175.8,589.5C176.6,588.3 177.4,587.1 178.2,585.9C179.0,584.7 179.8,583.5 180.6,582.3C181.4,581.1 182.2,579.9 183.0,578.7C183.8,577.5 184.6,576.3 185.4,575.1C186.2,573.9 187.0,572.7 187.8,571.5C188.6,570.4 189.4,569.2 190.2,568.0C191.0,566.9 191.8,565.8 192.6,564.6C193.4,563.5 194.2,562.4 195.0,561.3C195.8,560.2 196.6,559.2 197.4,558.1C198.2,557.0 199.1,555.9 200.0,554.8C200.9,553.7 201.7,552.7 202.6,551.6C203.5,550.6 204.5,549.4 205.4,548.4C206.3,547.4 207.2,546.4 208.2,545.4C209.2,544.5 210.2,543.5 211.2,542.5C212.2,541.6 213.3,540.7 214.4,539.8C215.5,538.9 216.6,538.1 217.8,537.3C219.0,536.6 220.2,535.8 221.4,535.2C222.6,534.6 223.9,534.0 225.2,533.6C226.5,533.2 227.9,532.8 229.2,532.6C230.5,532.4 231.9,532.3 233.2,532.3C234.5,532.3 235.9,532.5 237.2,532.8C238.5,533.0 239.9,533.4 241.2,533.9C242.5,534.4 243.8,535.0 245.0,535.7C246.2,536.4 247.5,537.2 248.6,537.9C249.7,538.7 250.7,539.5 251.8,540.4C252.9,541.2 254.0,542.2 255.0,543.2C256.0,544.1 257.0,545.1 258.0,546.1C259.0,547.1 259.9,548.1 260.8,549.2C261.7,550.2 262.7,551.3 263.6,552.4C264.5,553.5 265.3,554.5 266.2,555.6C267.1,556.7 268.0,557.9 268.8,559.0C269.6,560.1 270.4,561.1 271.2,562.2C272.0,563.3 272.8,564.4 273.6,565.5C274.4,566.6 275.2,567.8 276.0,568.9C276.8,570.1 277.6,571.2 278.4,572.4C279.2,573.6 280.0,574.7 280.8,575.9C281.6,577.1 282.4,578.3 283.2,579.5C284.0,580.7 284.8,581.9 285.6,583.1C286.4,584.3 287.2,585.5 288.0,586.7C288.8,587.9 289.6,589.1 290.4,590.3C291.2,591.5 292.0,592.7 292.8,593.9C293.6,595.1 294.4,596.2 295.2,597.4C296.0,598.6 296.8,599.8 297.6,600.9C298.4,602.1 299.2,603.2 300.0,604.4C300.8,605.5 301.6,606.6 302.4,607.8C303.2,608.9 304.0,610.0 304.8,611.1C305.6,612.2 306.4,613.2 307.2,614.3C308.0,615.4 308.9,616.6 309.8,617.7C310.7,618.8 311.5,619.9 312.4,621.0C313.3,622.1 314.1,623.1 315.0,624.2C315.9,625.2 316.7,626.2 317.6,627.2C318.5,628.3 319.5,629.4 320.4,630.4C321.3,631.4 322.2,632.4 323.2,633.4C324.2,634.4 325.2,635.4 326.2,636.4C327.2,637.4 328.2,638.3 329.2,639.2C330.2,640.2 331.2,641.0 332.2,641.9C333.2,642.8 334.3,643.7 335.4,644.5C336.5,645.4 337.5,646.2 338.6,647.0C339.7,647.8 340.9,648.6 342.0,649.4C343.1,650.1 344.2,650.8 345.4,651.5C346.6,652.3 347.8,653.0 349.0,653.6C350.2,654.3 351.4,654.9 352.6,655.5C353.8,656.1 355.1,656.7 356.4,657.2C357.7,657.8 358.9,658.3 360.2,658.8C361.5,659.3 362.7,659.7 364.0,660.1C365.3,660.6 366.7,661.0 368.0,661.4C369.3,661.7 370.7,662.1 372.0,662.4C373.3,662.7 374.7,663.0 376.0,663.3C377.3,663.6 378.7,663.8 380.0,664.1C381.3,664.3 382.7,664.5 384.0,664.7C385.3,664.9 386.7,665.1 388.0,665.3C389.3,665.4 390.7,665.6 392.0,665.7C393.3,665.8 394.7,666.0 396.0,666.1C397.3,666.2 398.7,666.3 400.0,666.4C401.3,666.5 402.7,666.5 404.0,666.6C405.3,666.7 406.7,666.8 408.0,666.8C409.3,666.9 410.7,666.9 412.0,667.0C413.3,667.0 414.7,667.1 416.0,667.1C417.3,667.1 418.7,667.2 420.0,667.2C421.3,667.2 422.7,667.2 424.0,667.3C425.3,667.3 426.7,667.3 428.0,667.3C429.3,667.3 430.7,667.3 432.0,667.3C433.3,667.4 434.7,667.4 436.0,667.4C437.3,667.4 438.7,667.4 440.0,667.4C441.3,667.4 442.7,667.4 444.0,667.4C445.3,667.4 446.7,667.4 448.0,667.4C449.3,667.4 450.7,667.4 452.0,667.4C453.3,667.4 454.7,667.4 456.0,667.4C457.3,667.4 458.7,667.4 460.0,667.4C461.3,667.4 462.7,667.4 464.0,667.4C465.3,667.4 466.7,667.3 468.0,667.3C469.3,667.3 470.7,667.3 472.0,667.3C473.3,667.3 474.7,667.3 476.0,667.3C477.3,667.3 478.7,667.3 480.0,667.3C481.3,667.3 482.7,667.3 484.0,667.3C485.3,667.3 486.7,667.3 488.0,667.2C489.3,667.2 490.7,667.2 492.0,667.2C493.3,667.2 494.7,667.2 496.0,667.2C497.3,667.2 498.7,667.2 500.0,667.2C501.3,667.2 502.7,667.2 504.0,667.2C505.3,667.2 506.7,667.1 508.0,667.1C509.3,667.1 510.7,667.1 512.0,667.1C513.3,667.1 514.7,667.1 516.0,667.1C517.3,667.1 518.7,667.1 520.0,667.1C521.3,667.1 522.7,667.1 524.0,667.0C525.3,667.0 526.7,667.0 528.0,667.0C529.3,667.0 530.7,667.0 532.0,667.0C533.3,667.0 534.7,667.0 536.0,667.0C537.3,667.0 538.7,667.0 540.0,667.0C541.3,666.9 542.7,666.9 544.0,666.9C545.3,666.9 546.7,666.9 548.0,666.9C549.3,666.9 550.7,666.9 552.0,666.9C553.3,666.9 554.7,666.9 556.0,666.9C557.3,666.9 558.7,666.8 560.0,666.8C561.3,666.8 562.7,666.8 564.0,666.8C565.3,666.8 566.7,666.8 568.0,666.8C569.3,666.8 570.7,666.8 572.0,666.8C573.3,666.8 574.7,666.7 576.0,666.7C577.3,666.7 578.7,666.7 580.0,666.7C581.3,666.7 582.7,666.7 584.0,666.7C585.3,666.7 586.7,666.7 588.0,666.7C589.3,666.7 590.7,666.7 592.0,666.6C593.3,666.6 594.7,666.6 596.0,666.6C597.3,666.6 598.7,666.6 600.0,666.6C601.3,666.6 602.7,666.6 604.0,666.6C605.3,666.6 606.7,666.6 608.0,666.5C609.3,666.5 610.7,666.5 612.0,666.5C613.3,666.5 614.7,666.5 616.0,666.5C617.3,666.5 618.7,666.5 620.0,666.5C621.3,666.5 622.7,666.5 624.0,666.4C625.3,666.4 626.7,666.4 628.0,666.4C629.3,666.4 630.7,666.4 632.0,666.4C633.3,666.4 634.7,666.4 636.0,666.4C637.3,666.4 638.7,666.4 640.0,666.4C641.3,666.3 642.7,666.3 644.0,666.3C645.3,666.3 646.7,666.3 648.0,666.3C649.3,666.3 650.7,666.3 652.0,666.3C653.3,666.3 654.7,666.3 656.0,666.3C657.3,666.2 658.7,666.2 660.0,666.2C661.3,666.2 662.7,666.2 664.0,666.2C665.3,666.2 666.7,666.2 668.0,666.2C669.3,666.2 670.7,666.2 672.0,666.2C673.3,666.1 674.7,666.1 676.0,666.1C677.3,666.1 678.7,666.1 680.0,666.1C681.3,666.1 682.7,666.1 684.0,666.1C685.3,666.1 686.7,666.1 688.0,666.1C689.3,666.0 690.7,666.0 692.0,666.0C693.3,666.0 694.7,666.0 696.0,666.0C697.3,666.0 698.7,666.0 700.0,666.0C701.3,666.0 702.7,666.0 704.0,665.9C705.3,665.9 707.1,665.9 708.0,665.9C708.9,665.9 709.2,665.9 709.4,665.9" fill="none" stroke="#33a233" stroke-opacity="0.72" stroke-width="2.4" stroke-linejoin="round" stroke-linecap="round"/>
<path d="M3.0,661.0C13.8,660.1 51.3,657.9 67.8,655.4C84.2,652.9 90.4,651.0 101.7,646.1C113.0,641.2 125.7,636.0 135.6,625.8C145.5,615.6 152.5,600.0 161.0,585.0C169.5,570.0 177.9,550.6 186.4,535.9C194.9,521.2 206.9,504.6 211.9,497.0C216.9,489.4 213.9,493.5 216.4,490.0C218.9,486.5 222.5,480.8 227.0,475.8C231.5,470.9 238.3,464.5 243.2,460.3C248.1,456.1 252.1,453.7 256.2,450.6C260.3,447.5 264.1,445.3 267.6,441.6C271.1,437.9 274.4,433.8 277.4,428.6C280.4,423.5 283.4,416.0 285.5,410.7C287.6,405.4 288.3,401.6 290.0,396.9C291.7,392.2 292.4,393.4 295.8,382.5C299.2,371.6 306.5,348.6 310.7,331.7C314.9,314.8 318.4,294.4 321.2,280.8C324.0,267.2 325.7,258.5 327.5,250.0C329.3,241.5 330.1,240.7 332.2,230.0C334.3,219.3 336.0,204.3 340.3,185.6C344.6,166.9 353.6,132.8 358.0,117.8C362.4,102.8 364.7,99.4 367.0,95.7C369.3,92.0 370.2,95.0 372.0,95.5C373.8,96.0 376.3,97.7 377.5,98.6" fill="none" stroke="#ff3d3d" stroke-opacity="0.72" stroke-width="2.5" stroke-linejoin="round" stroke-linecap="round"/>
<path d="M377.5,98.6C378.7,99.4 378.5,99.9 379.0,100.6C379.5,101.3 379.9,102.0 380.3,102.8C380.7,103.5 381.1,104.3 381.5,105.2C381.9,106.0 382.2,106.8 382.6,107.6C383.0,108.4 383.3,109.3 383.6,110.1C383.9,110.9 384.2,111.7 384.5,112.5C384.8,113.4 385.1,114.3 385.4,115.2C385.7,116.0 385.9,116.8 386.2,117.6C386.5,118.5 386.7,119.3 387.0,120.2C387.3,121.1 387.6,122.1 387.8,123.0C388.1,123.8 388.3,124.6 388.5,125.5C388.7,126.3 389.0,127.2 389.2,128.0C389.4,128.9 389.7,129.8 389.9,130.7C390.1,131.6 390.4,132.6 390.6,133.5C390.8,134.3 391.0,135.1 391.2,135.9C391.4,136.7 391.6,137.6 391.8,138.4C392.0,139.3 392.2,140.1 392.4,141.0C392.6,141.8 392.8,142.7 393.0,143.6C393.2,144.5 393.4,145.4 393.6,146.3C393.8,147.2 394.0,148.1 394.2,149.0C394.4,149.9 394.6,150.9 394.8,151.8C395.0,152.7 395.2,153.7 395.4,154.6C395.6,155.6 395.8,156.5 396.0,157.5C396.2,158.5 396.4,159.5 396.6,160.4C396.8,161.3 396.9,162.1 397.1,162.9C397.3,163.7 397.4,164.6 397.6,165.4C397.8,166.2 397.9,167.1 398.1,167.9C398.3,168.8 398.4,169.6 398.6,170.5C398.8,171.4 398.9,172.2 399.1,173.1C399.3,174.0 399.4,174.9 399.6,175.7C399.8,176.6 399.9,177.5 400.1,178.4C400.3,179.3 400.4,180.1 400.6,181.0C400.8,181.9 400.9,182.8 401.1,183.7C401.3,184.6 401.4,185.5 401.6,186.4C401.8,187.4 401.9,188.3 402.1,189.2C402.3,190.1 402.4,191.0 402.6,191.9C402.8,192.9 402.9,193.8 403.1,194.7C403.3,195.7 403.4,196.6 403.6,197.5C403.8,198.5 403.9,199.4 404.1,200.3C404.3,201.3 404.4,202.2 404.6,203.2C404.8,204.1 404.9,205.1 405.1,206.0C405.3,207.0 405.4,207.9 405.6,208.9C405.8,209.9 405.9,210.8 406.1,211.8C406.3,212.7 406.4,213.7 406.6,214.7C406.8,215.6 406.9,216.6 407.1,217.6C407.3,218.6 407.4,219.5 407.6,220.5C407.8,221.5 407.9,222.5 408.1,223.4C408.3,224.4 408.4,225.4 408.6,226.4C408.8,227.4 408.9,228.3 409.1,229.3C409.3,230.3 409.4,231.3 409.6,232.3C409.8,233.3 409.9,234.3 410.1,235.2C410.3,236.2 410.4,237.2 410.6,238.2C410.8,239.2 410.9,240.2 411.1,241.2C411.3,242.2 411.4,243.2 411.6,244.2C411.8,245.2 411.9,246.2 412.1,247.2C412.3,248.2 412.4,249.2 412.6,250.2C412.8,251.2 412.9,252.2 413.1,253.2C413.3,254.2 413.4,255.2 413.6,256.2C413.8,257.2 413.9,258.2 414.1,259.2C414.3,260.2 414.4,261.2 414.6,262.2C414.8,263.2 414.9,264.2 415.1,265.2C415.3,266.2 415.4,267.2 415.6,268.2C415.8,269.2 415.9,270.2 416.1,271.2C416.3,272.2 416.4,273.2 416.6,274.2C416.8,275.2 416.9,276.2 417.1,277.2C417.3,278.2 417.4,279.2 417.6,280.2C417.8,281.2 417.9,282.2 418.1,283.2C418.3,284.3 418.4,285.3 418.6,286.2C418.8,287.2 418.9,288.2 419.1,289.2C419.3,290.2 419.4,291.2 419.6,292.2C419.8,293.2 419.9,294.2 420.1,295.2C420.3,296.2 420.4,297.2 420.6,298.2C420.8,299.2 420.9,300.2 421.1,301.2C421.3,302.2 421.4,303.2 421.6,304.1C421.8,305.1 421.9,306.1 422.1,307.1C422.3,308.1 422.4,309.1 422.6,310.1C422.8,311.1 422.9,312.0 423.1,313.0C423.3,314.0 423.4,315.0 423.6,316.0C423.8,317.0 423.9,317.9 424.1,318.9C424.3,319.9 424.4,320.9 424.6,321.8C424.8,322.8 424.9,323.8 425.1,324.8C425.3,325.7 425.4,326.7 425.6,327.7C425.8,328.6 425.9,329.6 426.1,330.6C426.3,331.5 426.4,332.5 426.6,333.4C426.8,334.4 426.9,335.4 427.1,336.3C427.3,337.3 427.4,338.2 427.6,339.2C427.8,340.1 427.9,341.1 428.1,342.1C428.3,343.0 428.4,344.0 428.6,344.9C428.8,345.8 428.9,346.8 429.1,347.7C429.3,348.7 429.4,349.6 429.6,350.6C429.8,351.5 429.9,352.4 430.1,353.4C430.3,354.3 430.4,355.2 430.6,356.2C430.8,357.1 430.9,358.0 431.1,358.9C431.3,359.9 431.4,360.8 431.6,361.7C431.8,362.6 431.9,363.6 432.1,364.5C432.3,365.4 432.4,366.3 432.6,367.2C432.8,368.1 432.9,369.0 433.1,369.9C433.3,370.9 433.4,371.8 433.6,372.7C433.8,373.6 433.9,374.5 434.1,375.4C434.3,376.3 434.4,377.2 434.6,378.1C434.8,379.0 434.9,379.9 435.1,380.7C435.3,381.6 435.4,382.5 435.6,383.4C435.8,384.3 435.9,385.2 436.1,386.0C436.3,386.9 436.4,387.8 436.6,388.7C436.8,389.5 436.9,390.4 437.1,391.3C437.3,392.2 437.4,393.0 437.6,393.9C437.8,394.8 437.9,395.6 438.1,396.5C438.3,397.3 438.4,398.2 438.6,399.0C438.8,399.9 438.9,400.7 439.1,401.6C439.3,402.4 439.4,403.3 439.6,404.1C439.8,405.0 439.9,405.8 440.1,406.6C440.3,407.5 440.4,408.3 440.6,409.1C440.8,410.0 440.9,410.8 441.1,411.6C441.3,412.5 441.4,413.3 441.6,414.1C441.8,414.9 441.9,415.7 442.1,416.6C442.3,417.4 442.5,418.5 442.7,419.5C442.9,420.4 443.1,421.4 443.3,422.4C443.5,423.3 443.7,424.3 443.9,425.2C444.1,426.2 444.3,427.1 444.5,428.1C444.7,429.0 444.9,430.0 445.1,430.9C445.3,431.8 445.5,432.8 445.7,433.7C445.9,434.6 446.1,435.6 446.3,436.5C446.5,437.4 446.7,438.3 446.9,439.2C447.1,440.1 447.3,441.1 447.5,442.0C447.7,442.9 447.9,443.8 448.1,444.6C448.3,445.5 448.5,446.4 448.7,447.3C448.9,448.2 449.1,449.1 449.3,450.0C449.5,450.8 449.7,451.7 449.9,452.6C450.1,453.5 450.3,454.3 450.5,455.2C450.7,456.1 450.9,456.9 451.1,457.8C451.3,458.6 451.5,459.5 451.7,460.3C451.9,461.1 452.1,462.0 452.3,462.8C452.5,463.7 452.7,464.5 452.9,465.3C453.1,466.1 453.3,467.0 453.5,467.8C453.7,468.6 453.9,469.3 454.1,470.2C454.3,471.1 454.6,472.1 454.8,473.0C455.0,474.0 455.3,474.9 455.5,475.8C455.7,476.7 456.0,477.7 456.2,478.6C456.4,479.5 456.7,480.4 456.9,481.3C457.1,482.2 457.4,483.1 457.6,484.0C457.8,484.8 458.1,485.7 458.3,486.6C458.5,487.5 458.8,488.3 459.0,489.2C459.2,490.1 459.5,490.9 459.7,491.8C459.9,492.6 460.2,493.5 460.4,494.3C460.6,495.2 460.9,496.0 461.1,496.8C461.3,497.6 461.6,498.5 461.8,499.3C462.0,500.1 462.3,500.9 462.5,501.7C462.7,502.5 462.9,503.3 463.2,504.1C463.4,505.0 463.7,505.9 464.0,506.8C464.3,507.7 464.5,508.6 464.8,509.5C465.1,510.4 465.3,511.3 465.6,512.1C465.9,513.0 466.1,513.8 466.4,514.7C466.7,515.6 466.9,516.4 467.2,517.2C467.5,518.1 467.7,518.9 468.0,519.7C468.3,520.6 468.5,521.4 468.8,522.2C469.1,523.0 469.3,523.7 469.6,524.6C469.9,525.4 470.2,526.4 470.5,527.2C470.8,528.1 471.1,529.0 471.4,529.9C471.7,530.7 472.0,531.6 472.3,532.4C472.6,533.3 472.9,534.1 473.2,534.9C473.5,535.7 473.8,536.6 474.1,537.4C474.4,538.2 474.7,539.0 475.0,539.8C475.3,540.6 475.6,541.3 475.9,542.1C476.2,543.0 476.6,543.9 476.9,544.7C477.2,545.5 477.6,546.4 477.9,547.2C478.2,548.0 478.6,548.8 478.9,549.6C479.2,550.5 479.6,551.3 479.9,552.0C480.2,552.8 480.5,553.6 480.9,554.4C481.2,555.2 481.6,556.1 482.0,556.9C482.4,557.7 482.7,558.5 483.1,559.3C483.5,560.1 483.8,560.9 484.2,561.7C484.6,562.5 484.9,563.2 485.3,564.0C485.7,564.8 486.0,565.5 486.4,566.3C486.8,567.0 487.2,567.9 487.6,568.6C488.0,569.4 488.4,570.2 488.8,571.0C489.2,571.7 489.6,572.5 490.0,573.2C490.4,574.0 490.9,574.8 491.3,575.6C491.7,576.4 492.2,577.1 492.6,577.9C493.0,578.6 493.5,579.4 493.9,580.1C494.3,580.8 494.8,581.5 495.2,582.2C495.6,582.9 496.1,583.7 496.6,584.4C497.1,585.2 497.5,585.9 498.0,586.6C498.5,587.3 499.0,588.1 499.5,588.8C500.0,589.5 500.5,590.2 501.0,590.9C501.5,591.6 502.0,592.3 502.5,593.0C503.0,593.7 503.6,594.4 504.1,595.1C504.6,595.8 505.2,596.4 505.7,597.1C506.2,597.7 506.8,598.4 507.3,599.0C507.9,599.7 508.4,600.3 509.0,601.0C509.6,601.6 510.1,602.2 510.7,602.9C511.3,603.5 511.9,604.1 512.5,604.8C513.1,605.4 513.7,606.0 514.3,606.6C514.9,607.2 515.6,607.8 516.2,608.4C516.8,609.0 517.5,609.6 518.1,610.2C518.7,610.7 519.4,611.3 520.0,611.8C520.6,612.4 521.3,612.9 522.0,613.5C522.7,614.0 523.3,614.5 524.0,615.0C524.7,615.6 525.3,616.1 526.0,616.6C526.7,617.1 527.4,617.6 528.1,618.1C528.8,618.5 529.5,619.0 530.2,619.5C530.9,620.0 531.7,620.4 532.4,620.9C533.1,621.4 533.9,621.8 534.6,622.2C535.3,622.7 536.1,623.1 536.8,623.5C537.5,623.9 538.2,624.3 539.0,624.7C539.8,625.1 540.5,625.6 541.3,626.0C542.1,626.3 542.8,626.7 543.6,627.1C544.4,627.5 545.1,627.8 545.9,628.2C546.7,628.5 547.4,628.9 548.2,629.2C549.0,629.6 549.7,629.9 550.5,630.2C551.3,630.6 552.1,630.9 552.9,631.2C553.7,631.5 554.5,631.9 555.3,632.2C556.1,632.5 556.9,632.8 557.7,633.1C558.5,633.4 559.3,633.6 560.1,633.9C560.9,634.2 561.7,634.5 562.5,634.8C563.3,635.0 564.1,635.3 564.9,635.5C565.7,635.8 566.5,636.1 567.3,636.3C568.1,636.5 568.9,636.8 569.7,637.0C570.5,637.3 571.3,637.5 572.1,637.7C572.9,638.0 573.8,638.2 574.6,638.4C575.4,638.7 576.3,638.9 577.1,639.1C577.9,639.3 578.8,639.5 579.6,639.8C580.4,640.0 581.3,640.2 582.1,640.4C582.9,640.6 583.8,640.8 584.6,641.0C585.4,641.2 586.3,641.4 587.1,641.6C587.9,641.8 588.8,641.9 589.6,642.1C590.4,642.3 591.3,642.5 592.1,642.7C592.9,642.9 593.8,643.0 594.6,643.2C595.4,643.4 596.3,643.5 597.1,643.7C597.9,643.9 598.8,644.0 599.6,644.2C600.4,644.4 601.3,644.5 602.1,644.7C602.9,644.8 603.8,645.0 604.6,645.1C605.4,645.3 606.3,645.4 607.1,645.6C607.9,645.7 608.8,645.9 609.6,646.0C610.4,646.2 611.3,646.3 612.1,646.4C612.9,646.6 613.8,646.7 614.6,646.9C615.4,647.0 616.3,647.1 617.1,647.2C617.9,647.4 618.8,647.5 619.6,647.6C620.4,647.8 621.3,647.9 622.1,648.0C622.9,648.1 623.8,648.3 624.6,648.4C625.4,648.5 626.3,648.6 627.1,648.7C627.9,648.8 628.8,649.0 629.6,649.1C630.4,649.2 631.3,649.3 632.1,649.4C632.9,649.5 633.8,649.6 634.6,649.7C635.4,649.8 636.3,649.9 637.1,650.0C637.9,650.1 638.8,650.2 639.6,650.4C640.4,650.5 641.3,650.6 642.1,650.6C642.9,650.7 643.8,650.8 644.6,650.9C645.4,651.0 646.3,651.1 647.1,651.2C647.9,651.3 648.8,651.4 649.6,651.5C650.4,651.6 651.3,651.7 652.1,651.8C652.9,651.9 653.8,651.9 654.6,652.0C655.4,652.1 656.3,652.2 657.1,652.3C657.9,652.4 658.8,652.5 659.6,652.5C660.4,652.6 661.3,652.7 662.1,652.8C662.9,652.9 663.8,652.9 664.6,653.0C665.4,653.1 666.3,653.2 667.1,653.2C667.9,653.3 668.8,653.4 669.6,653.5C670.4,653.6 671.3,653.6 672.1,653.7C672.9,653.8 673.8,653.8 674.6,653.9C675.4,654.0 676.3,654.0 677.1,654.1C677.9,654.2 678.8,654.3 679.6,654.3C680.4,654.4 681.3,654.5 682.1,654.5C682.9,654.6 683.8,654.7 684.6,654.7C685.4,654.8 686.3,654.9 687.1,654.9C687.9,655.0 688.8,655.0 689.6,655.1C690.4,655.2 691.3,655.2 692.1,655.3C692.9,655.3 693.8,655.4 694.6,655.5C695.4,655.5 696.3,655.6 697.1,655.6C697.9,655.7 698.8,655.8 699.6,655.8C700.4,655.9 701.3,655.9 702.1,656.0C702.9,656.0 703.8,656.1 704.6,656.1C705.4,656.2 706.7,656.3 707.1,656.3" fill="none" stroke="#ff3d3d" stroke-opacity="0.72" stroke-width="2.5" stroke-linejoin="round" stroke-linecap="butt" stroke-dasharray="3,2.5" stroke-dashoffset="0"/>
<path d="M3.0,680.0C3.8,680.4 5.9,682.7 7.6,682.5C9.3,682.3 10.9,680.8 13.0,679.0C15.1,677.2 17.7,676.1 20.3,671.5C22.9,666.9 26.4,655.2 28.8,651.2C31.2,647.2 32.9,648.4 35.0,647.5C37.1,646.6 39.4,645.8 41.5,646.1C43.6,646.4 45.7,647.0 47.5,649.5C49.3,652.0 50.2,658.0 52.5,661.4C54.8,664.8 58.8,667.2 61.0,669.8C63.2,672.4 64.5,674.9 66.0,677.0C67.5,679.1 69.0,682.3 70.3,682.5C71.5,682.7 72.5,680.1 73.5,678.0C74.5,675.9 75.0,675.7 76.3,669.8C77.6,663.9 80.0,647.5 81.4,642.7C82.8,637.9 83.5,641.0 84.7,641.0C85.9,641.0 87.2,642.1 88.5,642.5C89.8,642.9 90.9,643.6 92.4,643.6C93.9,643.6 95.4,641.4 97.5,642.7C99.6,644.0 102.4,647.2 105.1,651.2C107.8,655.2 111.4,662.4 113.6,666.4C115.8,670.4 116.5,672.7 118.0,675.0C119.5,677.3 121.5,679.4 122.9,680.0C124.3,680.6 125.2,679.6 126.5,678.5C127.8,677.4 128.7,678.0 130.5,673.2C132.3,668.4 135.0,654.1 137.3,649.5C139.6,644.9 142.1,647.0 144.1,645.3C146.1,643.6 147.2,644.5 149.2,639.3C151.2,634.1 153.7,620.1 155.9,613.9C158.2,607.7 160.1,607.4 162.7,602.0C165.2,596.6 168.4,585.7 171.2,581.7C174.0,577.8 177.4,580.0 179.7,578.3C181.9,576.6 183.3,576.6 184.7,571.5C186.1,566.4 186.4,556.3 188.1,547.8C189.8,539.3 192.3,528.6 194.9,520.7C197.5,512.8 200.8,505.4 203.4,500.3C206.0,495.2 208.7,493.7 210.7,490.0C212.7,486.3 214.2,481.0 215.6,478.2C216.9,475.4 217.6,474.5 218.8,473.3C220.0,472.1 221.3,471.2 222.9,470.9C224.5,470.6 226.3,473.3 228.6,471.7C230.9,470.1 234.5,463.0 236.7,461.1C238.9,459.2 239.6,460.3 241.6,460.3C243.6,460.3 247.1,461.5 248.9,461.1C250.7,460.7 251.2,459.8 252.2,457.9C253.1,456.0 253.8,452.1 254.6,449.7C255.4,447.2 255.9,446.3 257.1,443.2C258.3,440.1 260.7,433.4 261.9,431.0C263.1,428.6 263.0,429.4 264.4,428.6C265.8,427.8 268.6,427.5 270.1,426.1C271.6,424.7 272.2,423.0 273.3,420.4C274.4,417.8 275.4,414.3 276.6,410.7C277.8,407.1 279.5,401.1 280.7,398.5C281.9,395.9 282.7,396.0 283.9,395.2C285.1,394.4 287.0,394.6 288.0,393.6C289.0,392.7 289.1,391.4 290.0,389.5C290.9,387.6 291.1,392.1 293.2,382.5C295.3,372.9 299.1,348.6 302.5,331.7C305.9,314.8 310.5,294.4 313.6,280.8C316.8,267.2 319.6,258.5 321.4,250.0C323.2,241.5 322.7,240.7 324.6,230.0C326.5,219.3 329.5,199.5 332.9,185.6C336.2,171.7 341.9,155.9 344.7,146.7C347.5,137.4 347.7,135.2 349.5,130.1C351.3,124.9 353.2,119.4 355.7,115.8C358.2,112.2 362.4,110.3 364.7,108.7C367.0,107.1 368.0,108.0 369.4,106.4C370.8,104.8 371.8,100.5 373.2,99.2C374.6,97.9 376.5,98.3 377.5,98.6" fill="none" stroke="#3838ff" stroke-opacity="0.72" stroke-width="3.1" stroke-linejoin="round" stroke-linecap="round"/>
<path d="M377.5,98.6C378.5,98.8 378.5,99.9 379.0,100.6C379.5,101.3 379.9,102.0 380.3,102.8C380.7,103.5 381.1,104.3 381.5,105.2C381.9,106.0 382.2,106.8 382.6,107.6C383.0,108.4 383.3,109.3 383.6,110.1C383.9,110.9 384.2,111.7 384.5,112.5C384.8,113.4 385.1,114.3 385.4,115.2C385.7,116.0 385.9,116.8 386.2,117.6C386.5,118.5 386.7,119.3 387.0,120.2C387.3,121.1 387.6,122.1 387.8,123.0C388.1,123.8 388.3,124.6 388.5,125.5C388.7,126.3 389.0,127.2 389.2,128.0C389.4,128.9 389.7,129.8 389.9,130.7C390.1,131.6 390.4,132.6 390.6,133.5C390.8,134.3 391.0,135.1 391.2,135.9C391.4,136.7 391.6,137.6 391.8,138.4C392.0,139.3 392.2,140.1 392.4,141.0C392.6,141.8 392.8,142.7 393.0,143.6C393.2,144.5 393.4,145.4 393.6,146.3C393.8,147.2 394.0,148.1 394.2,149.0C394.4,149.9 394.6,150.9 394.8,151.8C395.0,152.7 395.2,153.7 395.4,154.6C395.6,155.6 395.8,156.5 396.0,157.5C396.2,158.5 396.4,159.5 396.6,160.4C396.8,161.3 396.9,162.1 397.1,162.9C397.3,163.7 397.4,164.6 397.6,165.4C397.8,166.2 397.9,167.1 398.1,167.9C398.3,168.8 398.4,169.6 398.6,170.5C398.8,171.4 398.9,172.2 399.1,173.1C399.3,174.0 399.4,174.9 399.6,175.7C399.8,176.6 399.9,177.5 400.1,178.4C400.3,179.3 400.4,180.1 400.6,181.0C400.8,181.9 400.9,182.8 401.1,183.7C401.3,184.6 401.4,185.5 401.6,186.4C401.8,187.4 401.9,188.3 402.1,189.2C402.3,190.1 402.4,191.0 402.6,191.9C402.8,192.9 402.9,193.8 403.1,194.7C403.3,195.7 403.4,196.6 403.6,197.5C403.8,198.5 403.9,199.4 404.1,200.3C404.3,201.3 404.4,202.2 404.6,203.2C404.8,204.1 404.9,205.1 405.1,206.0C405.3,207.0 405.4,207.9 405.6,208.9C405.8,209.9 405.9,210.8 406.1,211.8C406.3,212.7 406.4,213.7 406.6,214.7C406.8,215.6 406.9,216.6 407.1,217.6C407.3,218.6 407.4,219.5 407.6,220.5C407.8,221.5 407.9,222.5 408.1,223.4C408.3,224.4 408.4,225.4 408.6,226.4C408.8,227.4 408.9,228.3 409.1,229.3C409.3,230.3 409.4,231.3 409.6,232.3C409.8,233.3 409.9,234.3 410.1,235.2C410.3,236.2 410.4,237.2 410.6,238.2C410.8,239.2 410.9,240.2 411.1,241.2C411.3,242.2 411.4,243.2 411.6,244.2C411.8,245.2 411.9,246.2 412.1,247.2C412.3,248.2 412.4,249.2 412.6,250.2C412.8,251.2 412.9,252.2 413.1,253.2C413.3,254.2 413.4,255.2 413.6,256.2C413.8,257.2 413.9,258.2 414.1,259.2C414.3,260.2 414.4,261.2 414.6,262.2C414.8,263.2 414.9,264.2 415.1,265.2C415.3,266.2 415.4,267.2 415.6,268.2C415.8,269.2 415.9,270.2 416.1,271.2C416.3,272.2 416.4,273.2 416.6,274.2C416.8,275.2 416.9,276.2 417.1,277.2C417.3,278.2 417.4,279.2 417.6,280.2C417.8,281.2 417.9,282.2 418.1,283.2C418.3,284.3 418.4,285.3 418.6,286.2C418.8,287.2 418.9,288.2 419.1,289.2C419.3,290.2 419.4,291.2 419.6,292.2C419.8,293.2 419.9,294.2 420.1,295.2C420.3,296.2 420.4,297.2 420.6,298.2C420.8,299.2 420.9,300.2 421.1,301.2C421.3,302.2 421.4,303.2 421.6,304.1C421.8,305.1 421.9,306.1 422.1,307.1C422.3,308.1 422.4,309.1 422.6,310.1C422.8,311.1 422.9,312.0 423.1,313.0C423.3,314.0 423.4,315.0 423.6,316.0C423.8,317.0 423.9,317.9 424.1,318.9C424.3,319.9 424.1,315.5 424.6,321.8" fill="none" stroke="#3838ff" stroke-opacity="0.72" stroke-width="3.1" stroke-linejoin="round" stroke-linecap="butt" stroke-dasharray="2.5,3" stroke-dashoffset="1.5"/>
<path d="M424.6,321.8C425.1,328.2 426.1,344.1 427.1,357.0C428.1,369.9 428.5,383.9 430.5,399.5C432.5,415.1 436.3,436.9 439.0,450.3C441.7,463.7 443.6,470.0 446.6,480.0C449.6,490.0 453.7,505.0 456.8,510.5C459.9,516.0 462.2,508.8 465.3,513.0C468.4,517.2 471.9,527.3 475.4,535.9C478.9,544.5 483.4,557.1 486.5,564.6C489.6,572.1 492.3,576.6 493.8,580.9C495.3,585.2 494.8,586.3 495.5,590.6C496.2,594.9 496.4,603.0 497.9,606.9C499.4,610.8 500.9,613.0 504.4,614.2C507.9,615.4 514.9,613.4 519.0,614.2C523.1,615.0 526.1,620.1 528.8,619.1C531.5,618.1 532.7,611.5 535.3,608.5C537.9,605.5 541.6,601.5 544.3,601.2C547.0,600.9 548.8,603.5 551.6,606.9C554.5,610.3 558.1,616.5 561.4,621.6C564.6,626.8 568.1,635.1 571.1,637.8C574.1,640.5 577.1,637.0 579.3,637.8C581.5,638.6 582.5,639.2 584.1,642.7C585.7,646.2 587.4,654.7 589.0,659.0C590.6,663.3 592.0,668.4 593.9,668.7C595.8,669.0 598.2,665.5 600.4,660.6C602.6,655.7 604.6,644.1 606.9,639.5C609.2,634.9 611.8,633.1 614.2,633.0C616.7,632.9 619.0,635.9 621.6,638.6C624.2,641.3 627.0,646.5 629.7,649.2C632.4,651.9 634.3,651.6 637.8,654.9C641.3,658.1 646.4,666.9 650.8,668.7C655.1,670.5 660.6,668.2 663.9,665.5C667.2,662.8 668.5,655.2 670.4,652.5C672.3,649.8 672.9,648.4 675.2,649.2C677.5,650.0 681.5,656.8 684.2,657.3C686.9,657.8 689.3,653.9 691.5,652.5C693.7,651.1 695.0,648.9 697.2,649.2C699.4,649.5 702.3,651.8 704.5,654.1C706.7,656.4 709.2,661.5 710.2,663.0" fill="none" stroke="#3838ff" stroke-opacity="0.72" stroke-width="3.1" stroke-linejoin="round" stroke-linecap="round"/>
<text x="296.8" y="83.2" font-family="Liberation Sans" font-size="30.3" fill="#000">Q4</text>
<text x="191.7" y="416.4" font-family="Liberation Sans" font-size="29.6" fill="#000">Q3</text>
<path d="M749.0,676.9C785.7,676.8 910.5,676.5 969.0,676.3C1027.5,676.1 1044.8,676.1 1100.0,675.9C1155.2,675.7 1238.7,675.3 1300.0,675.0C1361.3,674.7 1440.0,674.4 1468.0,674.3" fill="none" stroke="#36a536" stroke-opacity="0.72" stroke-width="2.0" stroke-linejoin="round" stroke-linecap="round"/>
<path d="M1203.0,675.3C1214.1,675.3 1258.4,675.2 1269.5,675.2" fill="none" stroke="#8c2222" stroke-opacity="0.72" stroke-width="1.8" stroke-linejoin="round" stroke-linecap="round"/>
<path d="M790.0,677.9C790.7,677.8 792.7,677.6 794.0,677.4C795.3,677.3 796.7,677.1 798.0,676.8C799.3,676.5 800.7,676.3 802.0,675.9C803.3,675.5 804.7,675.1 806.0,674.6C807.3,674.1 808.6,673.5 809.8,672.8C811.0,672.2 812.2,671.5 813.4,670.7C814.6,669.9 815.7,669.0 816.8,668.2C817.9,667.3 818.8,666.4 819.8,665.5C820.8,664.5 821.7,663.5 822.6,662.5C823.5,661.5 824.3,660.5 825.2,659.5C826.1,658.4 827.0,657.2 827.8,656.1C828.6,655.0 829.4,653.9 830.2,652.8C831.0,651.6 831.8,650.4 832.6,649.2C833.4,648.1 834.1,647.0 834.8,645.9C835.5,644.7 836.3,643.6 837.0,642.5C837.7,641.3 838.5,640.2 839.2,639.0C839.9,637.9 840.6,636.8 841.4,635.7C842.2,634.5 843.0,633.3 843.8,632.2C844.6,631.0 845.4,630.0 846.2,628.9C847.0,627.8 847.9,626.8 848.8,625.8C849.7,624.7 850.7,623.7 851.8,622.8C852.9,621.9 854.0,621.0 855.2,620.4C856.4,619.7 857.7,619.2 859.0,619.1C860.3,618.9 861.7,619.1 863.0,619.4C864.3,619.8 865.5,620.5 866.6,621.3C867.7,622.0 868.8,623.0 869.8,623.9C870.8,624.9 871.7,625.9 872.6,627.0C873.5,628.0 874.4,629.2 875.2,630.3C876.0,631.4 876.8,632.5 877.6,633.6C878.4,634.8 879.2,636.0 880.0,637.2C880.8,638.3 881.5,639.4 882.2,640.5C882.9,641.6 883.6,642.7 884.4,643.9C885.2,645.1 886.0,646.3 886.8,647.5C887.6,648.7 888.4,649.9 889.2,651.1C890.0,652.2 890.8,653.3 891.6,654.4C892.4,655.5 893.3,656.7 894.2,657.8C895.1,658.9 895.9,659.9 896.8,660.9C897.7,661.9 898.6,662.9 899.6,663.8C900.6,664.8 901.6,665.7 902.6,666.6C903.6,667.5 904.7,668.3 905.8,669.0C906.9,669.8 908.2,670.6 909.4,671.2C910.6,671.9 911.9,672.5 913.2,673.0C914.5,673.5 915.7,673.9 917.0,674.3C918.3,674.6 919.7,675.0 921.0,675.2C922.3,675.5 923.7,675.7 925.0,675.8C926.3,676.0 928.1,676.1 929.0,676.2C929.9,676.3 930.3,676.3 930.6,676.3" fill="none" stroke="#949494" stroke-opacity="0.72" stroke-width="1.8" stroke-linejoin="round" stroke-linecap="round"/>
<path d="M1068.0,675.9C1068.7,675.8 1070.7,675.8 1072.0,675.4C1073.3,675.1 1074.7,674.5 1075.8,673.6C1076.9,672.8 1077.8,671.5 1078.6,670.3C1079.4,669.1 1080.0,667.7 1080.6,666.4C1081.2,665.2 1081.7,663.8 1082.2,662.6C1082.7,661.3 1083.1,660.0 1083.6,658.8C1084.1,657.5 1084.5,656.3 1085.0,655.0C1085.5,653.8 1085.9,652.4 1086.6,651.3C1087.3,650.1 1088.1,648.3 1089.0,648.1C1089.9,648.0 1091.4,649.4 1092.2,650.5C1093.0,651.5 1093.4,653.1 1094.0,654.4C1094.6,655.8 1095.1,657.4 1095.6,658.7C1096.1,660.1 1096.5,661.2 1097.0,662.5C1097.5,663.8 1098.0,665.2 1098.6,666.5C1099.2,667.8 1099.8,669.2 1100.6,670.4C1101.4,671.5 1102.2,672.7 1103.2,673.6C1104.2,674.5 1105.7,675.1 1106.8,675.5C1107.9,676.0 1109.5,676.0 1110.0,676.1" fill="none" stroke="#22a5ad" stroke-opacity="0.72" stroke-width="1.9" stroke-linejoin="round" stroke-linecap="round"/>
<path d="M1095.0,676.1C1095.7,675.9 1097.8,675.6 1099.0,675.0C1100.2,674.4 1101.3,673.4 1102.2,672.4C1103.1,671.4 1103.9,670.2 1104.6,668.9C1105.3,667.7 1106.0,666.3 1106.6,665.0C1107.2,663.6 1107.8,662.2 1108.4,660.9C1109.0,659.6 1109.5,658.2 1110.2,657.0C1110.9,655.8 1111.4,654.1 1112.4,653.7C1113.4,653.2 1115.0,653.5 1116.0,654.3C1117.0,655.0 1117.5,656.8 1118.2,658.1C1118.9,659.4 1119.4,660.7 1120.0,662.1C1120.6,663.4 1121.2,664.7 1121.8,666.0C1122.4,667.3 1123.0,668.6 1123.8,669.7C1124.6,670.9 1125.4,672.2 1126.4,673.1C1127.4,674.0 1128.6,674.7 1129.8,675.2C1131.0,675.7 1133.1,675.8 1133.8,676.0C1134.5,676.1 1134.0,676.0 1134.0,676.0" fill="none" stroke="#8c2222" stroke-opacity="0.72" stroke-width="1.8" stroke-linejoin="round" stroke-linecap="round"/>
<path d="M1188.0,675.4C1188.7,675.3 1190.7,675.2 1192.0,675.1C1193.3,674.9 1194.7,674.7 1196.0,674.3C1197.3,673.9 1198.6,673.5 1199.8,672.9C1201.0,672.3 1202.1,671.5 1203.2,670.6C1204.3,669.8 1205.3,668.7 1206.2,667.7C1207.1,666.6 1208.0,665.4 1208.8,664.2C1209.6,663.0 1210.3,661.8 1211.0,660.6C1211.7,659.3 1212.4,658.0 1213.0,656.7C1213.6,655.5 1214.2,654.2 1214.8,652.9C1215.4,651.6 1216.0,650.1 1216.6,648.8C1217.2,647.5 1217.7,646.3 1218.2,645.0C1218.7,643.8 1219.3,642.5 1219.8,641.3C1220.3,640.0 1220.8,638.8 1221.4,637.6C1222.0,636.3 1222.6,635.0 1223.2,633.7C1223.8,632.4 1224.5,631.1 1225.2,629.9C1225.9,628.7 1226.6,627.4 1227.6,626.5C1228.6,625.5 1229.8,624.3 1231.0,624.2C1232.2,624.0 1233.7,624.8 1234.8,625.6C1235.9,626.3 1236.6,627.7 1237.4,628.8C1238.2,629.9 1238.8,631.1 1239.4,632.3C1240.0,633.5 1240.6,634.7 1241.2,636.0C1241.8,637.4 1242.4,638.8 1243.0,640.1C1243.6,641.4 1244.1,642.6 1244.6,643.9C1245.1,645.2 1245.7,646.5 1246.2,647.7C1246.7,649.0 1247.2,650.1 1247.8,651.4C1248.4,652.7 1249.0,654.1 1249.6,655.4C1250.2,656.6 1250.8,657.8 1251.4,659.0C1252.0,660.2 1252.7,661.4 1253.4,662.6C1254.1,663.8 1255.0,665.1 1255.8,666.2C1256.6,667.3 1257.4,668.3 1258.4,669.3C1259.4,670.2 1260.5,671.2 1261.6,672.0C1262.7,672.7 1263.9,673.3 1265.2,673.8C1266.5,674.4 1267.9,674.7 1269.2,675.0C1270.5,675.3 1272.2,675.4 1273.2,675.5C1274.2,675.7 1274.7,675.7 1275.0,675.7" fill="none" stroke="#36a536" stroke-opacity="0.72" stroke-width="2.0" stroke-linejoin="round" stroke-linecap="round"/>
<path d="M940.8,675.8C941.5,675.7 943.5,675.7 944.8,675.6C946.1,675.5 947.5,675.4 948.8,675.3C950.1,675.3 951.5,675.2 952.8,675.0C954.1,674.9 955.5,674.8 956.8,674.7C958.1,674.5 959.5,674.4 960.8,674.2C962.1,674.0 963.5,673.8 964.8,673.6C966.1,673.4 967.5,673.1 968.8,672.9C970.1,672.6 971.5,672.3 972.8,671.9C974.1,671.6 975.5,671.2 976.8,670.8C978.1,670.4 979.3,670.0 980.6,669.5C981.9,669.0 983.2,668.5 984.4,667.9C985.6,667.4 986.8,666.8 988.0,666.2C989.2,665.5 990.4,664.8 991.6,664.1C992.8,663.3 993.9,662.6 995.0,661.8C996.1,660.9 997.2,660.1 998.2,659.2C999.2,658.4 1000.2,657.5 1001.2,656.6C1002.2,655.6 1003.2,654.5 1004.2,653.5C1005.2,652.5 1006.1,651.4 1007.0,650.3C1007.9,649.2 1008.8,648.1 1009.6,647.0C1010.4,645.9 1011.2,644.9 1012.0,643.7C1012.8,642.6 1013.6,641.3 1014.4,640.1C1015.2,638.9 1015.9,637.7 1016.6,636.5C1017.3,635.3 1017.9,634.1 1018.6,632.9C1019.3,631.7 1020.0,630.4 1020.6,629.1C1021.2,627.9 1021.8,626.8 1022.4,625.5C1023.0,624.3 1023.6,623.0 1024.2,621.7C1024.8,620.3 1025.4,618.9 1026.0,617.6C1026.6,616.3 1027.1,615.1 1027.6,613.8C1028.1,612.5 1028.7,611.2 1029.2,609.8C1029.7,608.4 1030.3,606.9 1030.8,605.6C1031.3,604.3 1031.7,603.1 1032.2,601.8C1032.7,600.5 1033.1,599.1 1033.6,597.8C1034.1,596.4 1034.5,595.0 1035.0,593.6C1035.5,592.2 1035.9,590.8 1036.4,589.3C1036.9,587.9 1037.4,586.3 1037.8,584.9C1038.2,583.5 1038.6,582.3 1039.0,580.9C1039.4,579.6 1039.8,578.2 1040.2,576.9C1040.6,575.5 1041.0,574.1 1041.4,572.7C1041.8,571.3 1042.2,569.8 1042.6,568.4C1043.0,566.9 1043.4,565.4 1043.8,563.9C1044.2,562.4 1044.6,560.8 1045.0,559.4C1045.4,558.0 1045.7,556.8 1046.0,555.5C1046.3,554.2 1046.7,552.8 1047.0,551.5C1047.3,550.2 1047.7,548.8 1048.0,547.4C1048.3,546.1 1048.7,544.7 1049.0,543.3C1049.3,541.9 1049.7,540.5 1050.0,539.0C1050.3,537.6 1050.7,536.2 1051.0,534.7C1051.3,533.3 1051.7,531.8 1052.0,530.3C1052.3,528.8 1052.7,527.3 1053.0,525.8C1053.3,524.3 1053.7,522.8 1054.0,521.3C1054.3,519.7 1054.7,518.2 1055.0,516.6C1055.3,515.0 1055.7,513.5 1056.0,511.9C1056.3,510.3 1056.7,508.7 1057.0,507.0C1057.3,505.4 1057.7,503.6 1058.0,502.1C1058.3,500.7 1058.5,499.5 1058.8,498.2C1059.1,496.8 1059.3,495.5 1059.6,494.1C1059.9,492.8 1060.1,491.4 1060.4,490.1C1060.7,488.7 1060.9,487.3 1061.2,486.0C1061.5,484.6 1061.7,483.2 1062.0,481.8C1062.3,480.4 1062.5,479.0 1062.8,477.6C1063.1,476.2 1063.3,474.7 1063.6,473.3C1063.9,471.9 1064.1,470.4 1064.4,469.0C1064.7,467.6 1064.9,466.1 1065.2,464.6C1065.5,463.2 1065.7,461.7 1066.0,460.3C1066.3,458.8 1066.5,457.3 1066.8,455.8C1067.1,454.3 1067.3,452.8 1067.6,451.4C1067.9,449.9 1068.1,448.4 1068.4,446.8C1068.7,445.3 1068.9,443.8 1069.2,442.3C1069.5,440.8 1069.7,439.2 1070.0,437.7C1070.3,436.2 1070.5,434.6 1070.8,433.1C1071.1,431.5 1071.3,430.0 1071.6,428.4C1071.9,426.9 1072.1,425.3 1072.4,423.7C1072.7,422.2 1072.9,420.6 1073.2,419.0C1073.5,417.5 1073.7,415.9 1074.0,414.3C1074.3,412.7 1074.5,411.1 1074.8,409.5C1075.1,407.9 1075.3,406.3 1075.6,404.7C1075.9,403.1 1076.1,401.5 1076.4,399.9C1076.7,398.3 1076.9,396.7 1077.2,395.0C1077.5,393.4 1077.7,391.8 1078.0,390.2C1078.3,388.6 1078.5,386.9 1078.8,385.3C1079.1,383.7 1079.3,382.0 1079.6,380.4C1079.9,378.8 1080.1,377.1 1080.4,375.5C1080.7,373.8 1080.9,372.2 1081.2,370.6C1081.5,368.9 1081.7,367.3 1082.0,365.6C1082.3,364.0 1082.5,362.3 1082.8,360.7C1083.1,359.0 1083.3,357.4 1083.6,355.7C1083.9,354.1 1084.1,352.4 1084.4,350.8C1084.7,349.1 1084.9,347.5 1085.2,345.8C1085.5,344.2 1085.7,342.5 1086.0,340.9C1086.3,339.2 1086.5,337.6 1086.8,335.9C1087.1,334.3 1087.3,332.6 1087.6,331.0C1087.9,329.3 1088.1,327.7 1088.4,326.0C1088.7,324.4 1088.9,322.7 1089.2,321.1C1089.5,319.4 1089.7,317.8 1090.0,316.2C1090.3,314.5 1090.5,312.9 1090.8,311.3C1091.1,309.6 1091.3,308.0 1091.6,306.4C1091.9,304.7 1092.1,303.1 1092.4,301.5C1092.7,299.9 1092.9,298.3 1093.2,296.6C1093.5,295.0 1093.7,293.4 1094.0,291.8C1094.3,290.2 1094.5,288.6 1094.8,287.0C1095.1,285.4 1095.3,283.8 1095.6,282.3C1095.9,280.7 1096.1,279.1 1096.4,277.5C1096.7,276.0 1096.9,274.4 1097.2,272.8C1097.5,271.3 1097.7,269.7 1098.0,268.2C1098.3,266.6 1098.5,265.1 1098.8,263.5C1099.1,262.0 1099.3,260.5 1099.6,259.0C1099.9,257.4 1100.1,255.9 1100.4,254.4C1100.7,252.9 1100.9,251.4 1101.2,249.9C1101.5,248.4 1101.7,247.0 1102.0,245.5C1102.3,244.0 1102.5,242.5 1102.8,241.1C1103.1,239.6 1103.3,238.2 1103.6,236.8C1103.9,235.3 1104.1,233.9 1104.4,232.5C1104.7,231.1 1104.9,229.7 1105.2,228.3C1105.5,226.9 1105.7,225.5 1106.0,224.1C1106.3,222.7 1106.5,221.4 1106.8,220.0C1107.1,218.7 1107.3,217.3 1107.6,216.0C1107.9,214.7 1108.1,213.5 1108.4,212.0C1108.7,210.6 1109.1,208.8 1109.4,207.2C1109.7,205.6 1110.1,204.0 1110.4,202.5C1110.7,200.9 1111.1,199.4 1111.4,197.9C1111.7,196.4 1112.1,194.9 1112.4,193.4C1112.7,191.9 1113.1,190.5 1113.4,189.1C1113.7,187.6 1114.1,186.2 1114.4,184.8C1114.7,183.5 1115.1,182.1 1115.4,180.8C1115.7,179.4 1116.0,178.2 1116.4,176.8C1116.8,175.4 1117.2,173.8 1117.6,172.3C1118.0,170.8 1118.4,169.4 1118.8,168.0C1119.2,166.6 1119.6,165.3 1120.0,163.9C1120.4,162.6 1120.8,161.4 1121.2,160.1C1121.6,158.7 1122.1,157.2 1122.6,155.9C1123.1,154.6 1123.5,153.3 1124.0,152.0C1124.5,150.7 1125.0,149.4 1125.6,148.0C1126.2,146.7 1126.8,145.4 1127.4,144.1C1128.0,142.8 1128.7,141.6 1129.4,140.4C1130.1,139.2 1130.9,137.9 1131.8,136.9C1132.7,135.8 1133.7,134.7 1134.8,134.0C1135.9,133.4 1137.3,132.8 1138.6,132.9C1139.9,133.0 1141.3,133.8 1142.4,134.6C1143.5,135.3 1144.4,136.5 1145.2,137.5C1146.0,138.6 1146.7,139.7 1147.4,140.9C1148.1,142.1 1148.8,143.4 1149.4,144.7C1150.0,146.0 1150.6,147.4 1151.2,148.8C1151.8,150.2 1152.3,151.5 1152.8,152.9C1153.3,154.2 1153.7,155.5 1154.2,156.8C1154.7,158.2 1155.2,159.7 1155.6,161.1C1156.0,162.4 1156.4,163.7 1156.8,165.0C1157.2,166.3 1157.6,167.7 1158.0,169.1C1158.4,170.5 1158.8,172.0 1159.2,173.5C1159.6,175.0 1160.0,176.6 1160.4,178.1C1160.8,179.5 1161.1,180.7 1161.4,182.0C1161.7,183.4 1162.1,184.8 1162.4,186.2C1162.7,187.5 1163.1,189.0 1163.4,190.4C1163.7,191.8 1164.1,193.3 1164.4,194.8C1164.7,196.3 1165.1,197.8 1165.4,199.3C1165.7,200.8 1166.1,202.4 1166.4,203.9C1166.7,205.5 1167.1,207.1 1167.4,208.7C1167.7,210.3 1168.1,212.1 1168.4,213.6C1168.7,215.1 1168.9,216.2 1169.2,217.6C1169.5,218.9 1169.7,220.2 1170.0,221.6C1170.3,223.0 1170.5,224.3 1170.8,225.7C1171.1,227.1 1171.3,228.5 1171.6,229.9C1171.9,231.3 1172.1,232.7 1172.4,234.1C1172.7,235.6 1172.9,237.0 1173.2,238.4C1173.5,239.9 1173.7,241.3 1174.0,242.8C1174.3,244.3 1174.5,245.7 1174.8,247.2C1175.1,248.7 1175.3,250.2 1175.6,251.7C1175.9,253.2 1176.1,254.7 1176.4,256.2C1176.7,257.7 1176.9,259.2 1177.2,260.7C1177.5,262.2 1177.7,263.8 1178.0,265.3C1178.3,266.9 1178.5,268.4 1178.8,270.0C1179.1,271.5 1179.3,273.1 1179.6,274.6C1179.9,276.2 1180.1,277.8 1180.4,279.3C1180.7,280.9 1180.9,282.5 1181.2,284.1C1181.5,285.7 1181.7,287.3 1182.0,288.9C1182.3,290.5 1182.5,292.1 1182.8,293.7C1183.1,295.3 1183.3,296.9 1183.6,298.5C1183.9,300.1 1184.1,301.7 1184.4,303.3C1184.7,305.0 1184.9,306.6 1185.2,308.2C1185.5,309.8 1185.7,311.5 1186.0,313.1C1186.3,314.7 1186.5,316.4 1186.8,318.0C1187.1,319.7 1187.3,321.3 1187.6,322.9C1187.9,324.6 1188.1,326.2 1188.4,327.9C1188.7,329.5 1188.9,331.2 1189.2,332.8C1189.5,334.5 1189.7,336.1 1190.0,337.8C1190.3,339.4 1190.5,341.1 1190.8,342.7C1191.1,344.4 1191.3,346.0 1191.6,347.7C1191.9,349.3 1192.1,351.0 1192.4,352.6C1192.7,354.3 1192.9,355.9 1193.2,357.6C1193.5,359.2 1193.7,360.9 1194.0,362.5C1194.3,364.1 1194.5,365.8 1194.8,367.4C1195.1,369.1 1195.3,370.7 1195.6,372.4C1195.9,374.0 1196.1,375.6 1196.4,377.3C1196.7,378.9 1196.9,380.6 1197.2,382.2C1197.5,383.8 1197.7,385.4 1198.0,387.1C1198.3,388.7 1198.5,390.3 1198.8,391.9C1199.1,393.6 1199.3,395.2 1199.6,396.8C1199.9,398.4 1200.1,400.0 1200.4,401.6C1200.7,403.2 1200.9,404.8 1201.2,406.4C1201.5,408.0 1201.7,409.6 1202.0,411.2C1202.3,412.8 1202.5,414.4 1202.8,416.0C1203.1,417.5 1203.3,419.1 1203.6,420.7C1203.9,422.3 1204.1,423.8 1204.4,425.4C1204.7,427.0 1204.9,428.5 1205.2,430.1C1205.5,431.6 1205.7,433.2 1206.0,434.7C1206.3,436.2 1206.5,437.8 1206.8,439.3C1207.1,440.8 1207.3,442.3 1207.6,443.9C1207.9,445.4 1208.1,446.9 1208.4,448.4C1208.7,449.9 1208.9,451.4 1209.2,452.9C1209.5,454.4 1209.7,455.8 1210.0,457.3C1210.3,458.8 1210.5,460.3 1210.8,461.7C1211.1,463.2 1211.3,464.7 1211.6,466.1C1211.9,467.6 1212.1,469.0 1212.4,470.4C1212.7,471.9 1212.9,473.3 1213.2,474.7C1213.5,476.1 1213.7,477.5 1214.0,478.9C1214.3,480.3 1214.5,481.7 1214.8,483.1C1215.1,484.5 1215.3,485.9 1215.6,487.3C1215.9,488.7 1216.1,490.0 1216.4,491.4C1216.7,492.7 1216.9,494.1 1217.2,495.4C1217.5,496.8 1217.7,498.1 1218.0,499.4C1218.3,500.7 1218.5,501.9 1218.8,503.4C1219.1,504.8 1219.5,506.6 1219.8,508.2C1220.1,509.8 1220.5,511.4 1220.8,513.0C1221.1,514.6 1221.5,516.2 1221.8,517.7C1222.1,519.3 1222.5,520.8 1222.8,522.3C1223.1,523.9 1223.5,525.4 1223.8,526.9C1224.1,528.4 1224.5,529.9 1224.8,531.3C1225.1,532.8 1225.5,534.3 1225.8,535.7C1226.1,537.1 1226.5,538.6 1226.8,540.0C1227.1,541.4 1227.5,542.8 1227.8,544.2C1228.1,545.6 1228.5,546.9 1228.8,548.3C1229.1,549.7 1229.5,551.0 1229.8,552.3C1230.1,553.7 1230.4,554.8 1230.8,556.3C1231.2,557.7 1231.6,559.4 1232.0,560.9C1232.4,562.4 1232.8,563.9 1233.2,565.4C1233.6,566.9 1234.0,568.3 1234.4,569.7C1234.8,571.2 1235.2,572.6 1235.6,574.0C1236.0,575.4 1236.4,576.8 1236.8,578.1C1237.2,579.5 1237.6,580.8 1238.0,582.1C1238.4,583.5 1238.8,584.6 1239.2,586.0C1239.6,587.4 1240.1,589.0 1240.6,590.4C1241.1,591.8 1241.5,593.2 1242.0,594.6C1242.5,596.0 1242.9,597.4 1243.4,598.7C1243.9,600.0 1244.3,601.3 1244.8,602.6C1245.3,603.9 1245.7,605.1 1246.2,606.4C1246.7,607.7 1247.3,609.1 1247.8,610.5C1248.3,611.8 1248.9,613.1 1249.4,614.4C1249.9,615.7 1250.4,616.9 1251.0,618.2C1251.6,619.4 1252.2,620.8 1252.8,622.1C1253.4,623.4 1254.0,624.6 1254.6,625.9C1255.2,627.2 1255.9,628.6 1256.6,629.8C1257.3,631.1 1257.9,632.3 1258.6,633.5C1259.3,634.8 1260.1,636.1 1260.8,637.3C1261.5,638.5 1262.2,639.6 1263.0,640.8C1263.8,641.9 1264.6,643.1 1265.4,644.3C1266.2,645.4 1267.1,646.6 1268.0,647.7C1268.9,648.8 1269.7,649.8 1270.6,650.8C1271.5,651.9 1272.4,652.9 1273.4,653.9C1274.4,654.8 1275.4,655.8 1276.4,656.7C1277.4,657.7 1278.5,658.6 1279.6,659.4C1280.7,660.3 1281.9,661.2 1283.0,661.9C1284.1,662.7 1285.2,663.4 1286.4,664.1C1287.6,664.7 1288.8,665.4 1290.0,666.0C1291.2,666.6 1292.5,667.2 1293.8,667.7C1295.1,668.2 1296.3,668.7 1297.6,669.1C1298.9,669.6 1300.3,670.0 1301.6,670.3C1302.9,670.7 1304.3,671.0 1305.6,671.3C1306.9,671.6 1308.3,671.9 1309.6,672.1C1310.9,672.4 1312.3,672.6 1313.6,672.8C1314.9,673.0 1316.3,673.1 1317.6,673.3C1318.9,673.4 1320.3,673.6 1321.6,673.7C1322.9,673.8 1324.3,673.9 1325.6,674.0C1326.9,674.1 1328.3,674.2 1329.6,674.2C1330.9,674.3 1332.3,674.4 1333.6,674.4C1334.9,674.5 1336.5,674.5 1337.6,674.6C1338.7,674.6 1339.6,674.6 1340.0,674.6" fill="none" stroke="#9a36b5" stroke-opacity="0.72" stroke-width="2.0" stroke-linejoin="round" stroke-linecap="round"/>
<path d="M812.8,676.5C813.5,676.4 815.5,676.3 816.8,676.1C818.1,676.0 819.5,675.8 820.8,675.6C822.1,675.4 823.5,675.2 824.8,675.0C826.1,674.8 827.5,674.5 828.8,674.2C830.1,673.9 831.5,673.6 832.8,673.2C834.1,672.8 835.5,672.4 836.8,672.0C838.1,671.5 839.3,671.1 840.6,670.5C841.9,670.0 843.2,669.4 844.4,668.8C845.6,668.1 846.8,667.5 848.0,666.8C849.2,666.1 850.3,665.3 851.4,664.5C852.5,663.7 853.6,662.9 854.6,662.0C855.6,661.2 856.6,660.3 857.6,659.3C858.6,658.4 859.6,657.3 860.6,656.3C861.6,655.2 862.5,654.1 863.4,653.0C864.3,651.9 865.2,650.8 866.0,649.7C866.8,648.5 867.6,647.4 868.4,646.2C869.2,645.1 869.9,644.0 870.6,642.7C871.3,641.5 872.1,640.2 872.8,639.0C873.5,637.7 874.2,636.5 874.8,635.3C875.4,634.1 876.0,632.9 876.6,631.7C877.2,630.5 877.8,629.2 878.4,627.9C879.0,626.6 879.6,625.1 880.2,623.8C880.8,622.5 881.3,621.3 881.8,620.0C882.3,618.7 882.9,617.3 883.4,616.0C883.9,614.6 884.5,613.1 885.0,611.7C885.5,610.4 885.9,609.1 886.4,607.8C886.9,606.5 887.3,605.1 887.8,603.7C888.3,602.4 888.7,600.9 889.2,599.5C889.7,598.1 890.2,596.5 890.6,595.1C891.0,593.7 891.4,592.5 891.8,591.1C892.2,589.8 892.6,588.5 893.0,587.1C893.4,585.7 893.8,584.3 894.2,582.9C894.6,581.4 895.0,580.0 895.4,578.5C895.8,577.0 896.2,575.5 896.6,574.0C897.0,572.5 897.4,570.8 897.8,569.4C898.2,568.0 898.5,566.8 898.8,565.4C899.1,564.1 899.5,562.8 899.8,561.4C900.1,560.0 900.5,558.6 900.8,557.2C901.1,555.8 901.5,554.4 901.8,553.0C902.1,551.5 902.5,550.1 902.8,548.6C903.1,547.1 903.5,545.7 903.8,544.2C904.1,542.7 904.5,541.1 904.8,539.6C905.1,538.1 905.5,536.5 905.8,534.9C906.1,533.4 906.5,531.8 906.8,530.2C907.1,528.6 907.5,526.8 907.8,525.4C908.1,523.9 908.3,522.7 908.6,521.4C908.9,520.1 909.1,518.8 909.4,517.4C909.7,516.1 909.9,514.7 910.2,513.3C910.5,512.0 910.7,510.6 911.0,509.2C911.3,507.8 911.5,506.4 911.8,505.0C912.1,503.6 912.3,502.2 912.6,500.8C912.9,499.4 913.1,497.9 913.4,496.5C913.7,495.0 913.9,493.6 914.2,492.1C914.5,490.7 914.7,489.2 915.0,487.7C915.3,486.2 915.5,484.8 915.8,483.3C916.1,481.8 916.3,480.3 916.6,478.7C916.9,477.2 917.1,475.7 917.4,474.2C917.7,472.6 917.9,471.1 918.2,469.5C918.5,468.0 918.7,466.4 919.0,464.9C919.3,463.3 919.5,461.7 919.8,460.1C920.1,458.6 920.3,457.0 920.6,455.4C920.9,453.8 921.1,452.2 921.4,450.6C921.7,448.9 921.9,447.3 922.2,445.7C922.5,444.1 922.7,442.4 923.0,440.8C923.3,439.2 923.5,437.5 923.8,435.9C924.1,434.2 924.3,432.5 924.6,430.9C924.9,429.2 925.1,427.5 925.4,425.8C925.7,424.2 925.9,422.5 926.2,420.8C926.5,419.1 926.7,417.4 927.0,415.7C927.3,414.0 927.5,412.3 927.8,410.6C928.1,408.9 928.3,407.2 928.6,405.4C928.9,403.7 929.1,402.0 929.4,400.3C929.7,398.5 929.9,396.8 930.2,395.0C930.5,393.3 930.7,391.6 931.0,389.8C931.3,388.1 931.5,386.3 931.8,384.6C932.1,382.8 932.4,380.8 932.6,379.3C932.8,377.8 933.0,376.7 933.2,375.3C933.4,374.0 933.6,372.7 933.8,371.4C934.0,370.1 934.2,368.7 934.4,367.4C934.6,366.1 934.8,364.8 935.0,363.4C935.2,362.1 935.4,360.8 935.6,359.4C935.8,358.1 936.0,356.8 936.2,355.4C936.4,354.1 936.6,352.8 936.8,351.5C937.0,350.1 937.2,348.8 937.4,347.5C937.6,346.1 937.8,344.8 938.0,343.5C938.2,342.1 938.4,340.8 938.6,339.5C938.8,338.1 939.0,336.8 939.2,335.5C939.4,334.2 939.6,332.8 939.8,331.5C940.0,330.2 940.2,328.8 940.4,327.5C940.6,326.2 940.8,324.9 941.0,323.5C941.2,322.2 941.4,320.9 941.6,319.6C941.8,318.3 942.0,317.2 942.2,315.6C942.4,314.1 942.7,312.1 943.0,310.4C943.3,308.6 943.5,306.8 943.8,305.1C944.1,303.4 944.3,301.6 944.6,299.9C944.9,298.1 945.1,296.4 945.4,294.7C945.7,293.0 945.9,291.2 946.2,289.5C946.5,287.8 946.7,286.1 947.0,284.4C947.3,282.7 947.5,281.0 947.8,279.3C948.1,277.6 948.3,275.9 948.6,274.2C948.9,272.5 949.1,270.9 949.4,269.2C949.7,267.5 949.9,265.9 950.2,264.2C950.5,262.6 950.7,260.9 951.0,259.3C951.3,257.7 951.5,256.0 951.8,254.4C952.1,252.8 952.3,251.2 952.6,249.6C952.9,248.0 953.1,246.4 953.4,244.8C953.7,243.3 953.9,241.7 954.2,240.1C954.5,238.6 954.7,237.0 955.0,235.5C955.3,234.0 955.5,232.4 955.8,230.9C956.1,229.4 956.3,227.9 956.6,226.4C956.9,224.9 957.1,223.4 957.4,222.0C957.7,220.5 957.9,219.1 958.2,217.6C958.5,216.2 958.7,214.8 959.0,213.3C959.3,211.9 959.5,210.5 959.8,209.2C960.1,207.8 960.3,206.4 960.6,205.0C960.9,203.7 961.1,202.3 961.4,201.0C961.7,199.7 961.9,198.5 962.2,197.1C962.5,195.6 962.9,193.9 963.2,192.3C963.5,190.7 963.9,189.2 964.2,187.7C964.5,186.2 964.9,184.7 965.2,183.2C965.5,181.7 965.9,180.3 966.2,178.9C966.5,177.5 966.9,176.1 967.2,174.7C967.5,173.4 967.8,172.2 968.2,170.7C968.6,169.3 969.0,167.7 969.4,166.2C969.8,164.7 970.2,163.3 970.6,161.9C971.0,160.5 971.4,159.3 971.8,157.9C972.2,156.5 972.7,155.0 973.2,153.6C973.7,152.2 974.1,150.9 974.6,149.6C975.1,148.3 975.6,146.9 976.2,145.6C976.8,144.3 977.4,142.9 978.0,141.7C978.6,140.4 979.2,139.3 980.0,138.1C980.8,137.0 981.6,135.7 982.6,134.8C983.6,133.9 984.8,132.9 986.0,132.6C987.2,132.4 988.8,132.8 990.0,133.4C991.2,134.0 992.1,135.2 993.0,136.3C993.9,137.3 994.5,138.4 995.2,139.6C995.9,140.8 996.6,142.3 997.2,143.5C997.8,144.8 998.3,146.0 998.8,147.3C999.3,148.6 999.9,150.1 1000.4,151.5C1000.9,153.0 1001.4,154.4 1001.8,155.7C1002.2,157.0 1002.6,158.2 1003.0,159.6C1003.4,160.9 1003.8,162.3 1004.2,163.7C1004.6,165.1 1005.0,166.6 1005.4,168.1C1005.8,169.6 1006.2,171.3 1006.6,172.7C1007.0,174.2 1007.3,175.4 1007.6,176.8C1007.9,178.2 1008.3,179.6 1008.6,181.0C1008.9,182.4 1009.3,183.9 1009.6,185.4C1009.9,186.9 1010.3,188.4 1010.6,190.0C1010.9,191.5 1011.3,193.1 1011.6,194.7C1011.9,196.3 1012.3,198.0 1012.6,199.5C1012.9,201.0 1013.1,202.2 1013.4,203.5C1013.7,204.9 1013.9,206.2 1014.2,207.6C1014.5,209.0 1014.7,210.3 1015.0,211.7C1015.3,213.1 1015.5,214.6 1015.8,216.0C1016.1,217.4 1016.3,218.9 1016.6,220.3C1016.9,221.8 1017.1,223.2 1017.4,224.7C1017.7,226.2 1017.9,227.7 1018.2,229.2C1018.5,230.7 1018.7,232.2 1019.0,233.7C1019.3,235.3 1019.5,236.8 1019.8,238.3C1020.1,239.9 1020.3,241.5 1020.6,243.0C1020.9,244.6 1021.1,246.2 1021.4,247.8C1021.7,249.3 1021.9,250.9 1022.2,252.6C1022.5,254.2 1022.7,255.8 1023.0,257.4C1023.3,259.0 1023.5,260.7 1023.8,262.3C1024.1,264.0 1024.3,265.6 1024.6,267.3C1024.9,268.9 1025.1,270.6 1025.4,272.3C1025.7,273.9 1025.9,275.6 1026.2,277.3C1026.5,279.0 1026.7,280.7 1027.0,282.4C1027.3,284.1 1027.5,285.8 1027.8,287.5C1028.1,289.2 1028.3,290.9 1028.6,292.7C1028.9,294.4 1029.1,296.1 1029.4,297.8C1029.7,299.6 1029.9,301.3 1030.2,303.0C1030.5,304.8 1030.7,306.5 1031.0,308.3C1031.3,310.0 1031.5,311.8 1031.8,313.5C1032.1,315.3 1032.4,317.3 1032.6,318.8C1032.8,320.3 1033.0,321.4 1033.2,322.8C1033.4,324.1 1033.6,325.4 1033.8,326.7C1034.0,328.0 1034.2,329.4 1034.4,330.7C1034.6,332.0 1034.8,333.4 1035.0,334.7C1035.2,336.0 1035.4,337.3 1035.6,338.7C1035.8,340.0 1036.0,341.3 1036.2,342.6C1036.4,344.0 1036.6,345.3 1036.8,346.6C1037.0,348.0 1037.2,349.3 1037.4,350.6C1037.6,352.0 1037.8,353.3 1038.0,354.6C1038.2,355.9 1038.4,357.3 1038.6,358.6C1038.8,359.9 1039.0,361.2 1039.2,362.6C1039.4,363.9 1039.6,365.2 1039.8,366.5C1040.0,367.9 1040.2,369.2 1040.4,370.5C1040.6,371.8 1040.8,373.2 1041.0,374.5C1041.2,375.8 1041.4,376.9 1041.6,378.4C1041.8,380.0 1042.1,381.9 1042.4,383.7C1042.7,385.4 1042.9,387.2 1043.2,388.9C1043.5,390.7 1043.7,392.4 1044.0,394.2C1044.3,395.9 1044.5,397.6 1044.8,399.4C1045.1,401.1 1045.3,402.8 1045.6,404.5C1045.9,406.2 1046.1,408.0 1046.4,409.7C1046.7,411.4 1046.9,413.1 1047.2,414.8C1047.5,416.5 1047.7,418.2 1048.0,419.9C1048.3,421.6 1048.5,423.2 1048.8,424.9C1049.1,426.6 1049.3,428.3 1049.6,429.9C1049.9,431.6 1050.1,433.3 1050.4,434.9C1050.7,436.6 1050.9,438.2 1051.2,439.9C1051.5,441.5 1051.7,443.1 1052.0,444.8C1052.3,446.4 1052.5,448.0 1052.8,449.6C1053.1,451.2 1053.3,452.8 1053.6,454.4C1053.9,456.0 1054.1,457.6 1054.4,459.2C1054.7,460.8 1054.9,462.3 1055.2,463.9C1055.5,465.5 1055.7,467.0 1056.0,468.6C1056.3,470.1 1056.5,471.7 1056.8,473.2C1057.1,474.7 1057.3,476.2 1057.6,477.8C1057.9,479.3 1058.1,480.8 1058.4,482.3C1058.7,483.8 1058.9,485.3 1059.2,486.7C1059.5,488.2 1059.7,489.7 1060.0,491.1C1060.3,492.6 1060.5,494.1 1060.8,495.5C1061.1,496.9 1061.3,498.4 1061.6,499.8C1061.9,501.2 1062.1,502.6 1062.4,504.0C1062.7,505.4 1062.9,506.8 1063.2,508.2C1063.5,509.6 1063.7,511.0 1064.0,512.3C1064.3,513.7 1064.5,515.0 1064.8,516.4C1065.1,517.7 1065.3,519.1 1065.6,520.4C1065.9,521.7 1066.1,522.9 1066.4,524.3C1066.7,525.8 1067.1,527.6 1067.4,529.2C1067.7,530.8 1068.1,532.4 1068.4,533.9C1068.7,535.5 1069.1,537.0 1069.4,538.6C1069.7,540.1 1070.1,541.6 1070.4,543.1C1070.7,544.6 1071.1,546.1 1071.4,547.6C1071.7,549.0 1072.1,550.5 1072.4,551.9C1072.7,553.3 1073.1,554.8 1073.4,556.2C1073.7,557.6 1074.1,559.0 1074.4,560.3C1074.7,561.7 1075.1,563.0 1075.4,564.4C1075.7,565.7 1076.0,566.9 1076.4,568.3C1076.8,569.8 1077.2,571.4 1077.6,573.0C1078.0,574.5 1078.4,576.0 1078.8,577.4C1079.2,578.9 1079.6,580.4 1080.0,581.8C1080.4,583.2 1080.8,584.6 1081.2,586.0C1081.6,587.4 1082.0,588.7 1082.4,590.0C1082.8,591.4 1083.2,592.6 1083.6,594.0C1084.0,595.4 1084.5,597.0 1085.0,598.4C1085.5,599.8 1085.9,601.2 1086.4,602.6C1086.9,604.0 1087.3,605.4 1087.8,606.7C1088.3,608.0 1088.7,609.2 1089.2,610.6C1089.7,611.9 1090.3,613.4 1090.8,614.8C1091.3,616.2 1091.9,617.5 1092.4,618.8C1092.9,620.2 1093.4,621.4 1094.0,622.7C1094.6,624.0 1095.2,625.4 1095.8,626.7C1096.4,628.0 1097.0,629.2 1097.6,630.5C1098.2,631.8 1098.9,633.2 1099.6,634.5C1100.3,635.7 1100.9,636.9 1101.6,638.1C1102.3,639.4 1103.1,640.7 1103.8,641.9C1104.5,643.1 1105.2,644.1 1106.0,645.3C1106.8,646.4 1107.6,647.6 1108.4,648.7C1109.2,649.8 1110.1,650.9 1111.0,652.0C1111.9,653.1 1112.8,654.2 1113.8,655.2C1114.8,656.2 1115.8,657.3 1116.8,658.2C1117.8,659.2 1118.9,660.2 1120.0,661.0C1121.1,661.9 1122.1,662.7 1123.2,663.4C1124.3,664.2 1125.4,664.9 1126.6,665.6C1127.8,666.3 1129.0,667.0 1130.2,667.6C1131.4,668.2 1132.7,668.7 1134.0,669.3C1135.3,669.8 1136.5,670.2 1137.8,670.6C1139.1,671.1 1140.5,671.5 1141.8,671.8C1143.1,672.2 1144.5,672.5 1145.8,672.8C1147.1,673.0 1148.5,673.3 1149.8,673.5C1151.1,673.7 1152.5,673.9 1153.8,674.1C1155.1,674.2 1156.5,674.4 1157.8,674.5C1159.1,674.6 1160.5,674.8 1161.8,674.9C1163.1,675.0 1164.5,675.0 1165.8,675.1C1167.1,675.2 1168.5,675.2 1169.8,675.3C1171.1,675.4 1172.5,675.4 1173.8,675.4C1175.1,675.5 1177.0,675.5 1177.8,675.6C1178.6,675.6 1178.5,675.6 1178.6,675.6" fill="none" stroke="#36a536" stroke-opacity="0.72" stroke-width="2.0" stroke-linejoin="round" stroke-linecap="round"/>
<path d="M791.1,676.6C793.1,676.3 799.0,676.2 803.3,674.6C807.6,673.0 813.0,669.9 816.9,667.1C820.8,664.3 823.0,662.4 826.4,657.6C829.8,652.9 833.6,645.6 837.2,638.6C840.8,631.6 844.2,622.3 848.1,615.6C852.0,608.9 856.7,602.7 860.3,598.6C863.9,594.5 866.1,593.8 869.7,591.2C873.3,588.6 878.8,585.8 882.0,583.1C885.2,580.4 886.3,578.8 888.7,574.9C891.1,571.0 893.8,565.5 896.2,560.0C898.6,554.5 900.8,548.7 903.0,541.9C905.2,535.1 907.2,528.0 909.3,519.2C911.4,510.4 913.6,499.1 915.4,489.0C917.2,478.9 918.3,468.8 919.9,458.7C921.5,448.6 923.4,438.6 925.2,428.5C927.0,418.4 928.9,408.4 930.5,398.3C932.1,388.2 933.4,379.4 935.0,368.0C936.6,356.6 937.8,347.7 940.0,330.0C942.2,312.3 945.2,282.7 948.2,262.0C951.2,241.3 955.2,220.0 958.0,206.0C960.8,192.0 962.7,186.9 965.0,178.0C967.3,169.1 969.4,160.7 972.0,152.8C974.6,144.9 977.4,135.3 980.4,130.4C983.4,125.5 987.4,123.6 990.2,123.4C993.0,123.2 994.9,126.0 997.2,129.0C999.5,132.0 1001.9,136.5 1004.2,141.6C1006.5,146.7 1008.6,151.9 1011.2,159.8C1013.8,167.7 1016.8,178.2 1019.6,189.2C1022.4,200.2 1025.2,213.9 1028.0,225.6C1030.8,237.2 1033.4,248.4 1036.4,259.1C1039.4,269.8 1043.4,282.4 1046.2,289.9C1049.0,297.4 1050.5,300.6 1053.2,303.9C1055.9,307.2 1059.8,309.3 1062.3,309.8C1064.8,310.3 1066.2,310.0 1068.5,306.7C1070.8,303.4 1073.8,297.2 1075.9,290.1C1078.1,283.0 1079.6,273.4 1081.4,264.2C1083.2,254.9 1085.5,241.4 1087.0,234.6C1088.5,227.8 1088.5,227.8 1090.7,223.5C1092.9,219.2 1097.8,213.0 1099.9,208.7C1102.1,204.4 1102.4,203.1 1103.6,197.6C1104.8,192.1 1105.8,183.8 1107.3,175.5C1108.8,167.2 1110.9,153.9 1112.8,147.7C1114.7,141.5 1116.6,140.7 1118.4,138.5C1120.2,136.3 1121.4,136.5 1123.9,134.8C1126.4,133.1 1130.7,129.4 1133.2,128.3C1135.7,127.2 1136.6,127.2 1138.7,128.3C1140.8,129.4 1144.2,132.6 1146.1,134.8C1148.0,137.0 1148.0,137.7 1149.9,141.6C1151.8,145.5 1155.1,151.8 1157.4,158.3C1159.7,164.9 1161.5,172.1 1163.5,180.9C1165.5,189.7 1167.5,199.8 1169.5,211.2C1171.5,222.5 1173.6,236.4 1175.6,249.0C1177.6,261.6 1179.3,273.3 1181.6,286.8C1183.9,300.3 1187.3,318.9 1189.2,330.0C1191.1,341.1 1191.5,344.1 1193.0,353.6C1194.5,363.1 1196.7,377.1 1198.4,387.2C1200.1,397.3 1202.0,407.4 1203.1,414.1C1204.2,420.8 1203.6,421.9 1205.1,427.5C1206.5,433.1 1209.3,439.8 1211.8,447.7C1214.3,455.6 1217.0,465.6 1219.9,474.6C1222.8,483.6 1226.8,493.7 1229.3,501.5C1231.8,509.3 1233.1,515.2 1234.7,521.6C1236.3,528.0 1237.3,532.0 1239.0,540.0C1240.7,548.0 1242.9,560.8 1245.1,569.8C1247.2,578.8 1249.7,586.1 1251.9,594.2C1254.2,602.3 1256.1,610.5 1258.6,618.6C1261.1,626.7 1263.6,636.4 1266.8,643.0C1270.0,649.6 1273.5,653.9 1277.6,658.0C1281.7,662.1 1286.2,665.0 1291.2,667.5C1296.2,670.0 1302.3,671.7 1307.5,672.9C1312.7,674.1 1317.0,674.5 1322.4,674.9C1327.8,675.3 1337.1,675.2 1340.0,675.3" fill="none" stroke="#ff4141" stroke-opacity="0.72" stroke-width="2.1" stroke-linejoin="round" stroke-linecap="round"/>
<path d="M747.7,673.9C748.6,669.4 751.3,654.9 753.1,646.8C754.9,638.7 756.5,630.6 758.6,625.1C760.8,619.6 763.8,614.5 766.0,613.6C768.2,612.7 769.5,615.3 772.1,619.7C774.7,624.1 778.9,635.5 781.6,640.0C784.3,644.5 785.9,646.6 788.4,646.8C790.9,647.0 793.9,642.9 796.5,641.4C799.1,639.9 801.5,637.5 804.0,637.6C806.5,637.7 808.8,639.3 811.4,642.0C814.0,644.7 817.1,651.1 819.6,653.6C822.1,656.1 824.1,658.1 826.4,657.0C828.6,655.9 831.1,652.1 833.1,646.8C835.1,641.5 837.0,630.1 838.6,625.1C840.2,620.1 841.0,619.4 842.6,617.0C844.2,614.6 846.3,611.9 848.1,610.8C849.9,609.7 851.5,610.0 853.5,610.2C855.5,610.4 858.5,613.1 860.3,612.2C862.1,611.3 862.9,608.2 864.3,604.7C865.6,601.2 866.8,595.3 868.4,591.2C870.0,587.1 871.8,583.7 873.8,580.3C875.8,576.9 878.1,574.2 880.6,570.8C883.1,567.4 885.9,563.3 888.7,560.0C891.5,556.7 894.8,554.0 897.2,551.0C899.6,548.0 901.3,547.2 903.3,541.9C905.3,536.6 907.3,528.0 909.3,519.2C911.3,510.4 913.6,499.1 915.4,489.0C917.2,478.9 918.3,468.8 919.9,458.7C921.5,448.6 923.4,438.6 925.2,428.5C927.0,418.4 928.9,408.4 930.5,398.3C932.1,388.2 933.2,379.4 935.0,368.0C936.8,356.6 938.9,345.5 941.1,330.2C943.3,314.9 945.6,294.4 948.2,276.0C950.8,257.6 954.4,235.2 956.6,220.0C958.8,204.8 960.1,194.8 961.5,185.0C962.9,175.2 963.7,168.2 965.0,161.2C966.3,154.2 967.8,148.6 969.2,143.0C970.6,137.4 971.8,132.3 973.4,127.6C975.0,122.9 976.9,118.3 979.0,115.0C981.1,111.7 983.5,110.1 986.0,108.0C988.5,105.9 991.9,102.3 994.2,102.3C996.5,102.3 998.0,104.7 1000.0,108.0C1002.0,111.3 1004.4,116.9 1006.3,122.0C1008.2,127.1 1009.5,133.0 1011.2,138.8C1013.0,144.6 1014.5,150.2 1016.8,157.0C1019.1,163.8 1022.6,171.2 1025.2,179.4C1027.8,187.6 1029.9,196.9 1032.2,206.0C1034.5,215.1 1036.9,225.4 1039.2,234.0C1041.5,242.6 1044.2,250.7 1046.2,257.7C1048.2,264.7 1049.5,271.5 1051.0,276.0C1052.5,280.5 1053.5,282.5 1055.5,284.5C1057.5,286.5 1060.7,288.2 1062.9,288.2C1065.1,288.2 1066.7,287.9 1068.5,284.5C1070.3,281.1 1072.2,276.2 1074.0,267.9C1075.8,259.6 1077.4,245.1 1079.6,234.6C1081.8,224.1 1084.8,211.8 1087.0,205.0C1089.2,198.2 1090.3,197.0 1092.5,193.9C1094.7,190.8 1097.7,189.6 1099.9,186.5C1102.1,183.4 1103.7,181.0 1105.5,175.5C1107.3,170.0 1108.8,162.6 1111.0,153.3C1113.2,144.1 1116.0,127.5 1118.4,120.0C1120.9,112.5 1123.5,109.3 1125.7,108.4C1127.9,107.5 1129.9,112.4 1131.7,114.4C1133.5,116.4 1134.0,117.7 1136.3,120.5C1138.6,123.3 1142.1,126.1 1145.4,131.1C1148.7,136.1 1153.1,143.9 1155.9,150.7C1158.7,157.5 1160.0,163.1 1162.0,171.9C1164.0,180.7 1166.0,192.0 1168.0,203.6C1170.0,215.2 1172.1,228.8 1174.1,241.4C1176.1,254.0 1178.1,266.1 1180.1,279.2C1182.1,292.3 1184.1,307.6 1186.3,320.0C1188.5,332.4 1191.0,342.4 1193.0,353.6C1195.0,364.8 1196.7,377.1 1198.4,387.2C1200.1,397.3 1201.8,408.5 1203.1,414.1C1204.4,419.7 1204.8,416.3 1206.5,420.8C1208.2,425.3 1211.0,434.1 1213.2,441.0C1215.4,447.9 1217.0,454.7 1219.9,462.5C1222.8,470.3 1227.9,480.4 1230.6,488.0C1233.3,495.6 1234.4,499.5 1236.0,508.2C1237.6,516.9 1238.6,530.2 1240.3,540.0C1242.0,549.8 1244.0,558.1 1246.4,567.1C1248.8,576.1 1251.9,585.2 1254.6,594.2C1257.3,603.2 1260.2,613.0 1262.7,621.4C1265.2,629.8 1267.5,640.0 1269.5,644.4C1271.5,648.8 1273.3,646.9 1274.9,647.8C1276.5,648.7 1277.0,648.3 1279.0,649.8C1281.0,651.3 1284.6,655.5 1287.1,656.6C1289.6,657.7 1291.5,656.2 1293.9,656.6C1296.3,657.0 1299.1,659.3 1301.4,659.3C1303.7,659.3 1305.8,656.6 1307.5,656.6C1309.2,656.6 1309.7,657.0 1311.5,659.3C1313.3,661.6 1315.8,666.9 1318.3,670.2C1320.8,673.5 1324.1,678.3 1326.4,679.0C1328.7,679.7 1330.1,678.2 1331.9,674.2C1333.7,670.2 1335.3,661.4 1337.3,655.3C1339.3,649.2 1341.7,642.2 1344.1,637.6C1346.5,633.0 1349.2,628.2 1351.5,627.5C1353.8,626.8 1355.7,630.8 1357.6,633.6C1359.5,636.4 1361.3,641.2 1363.0,644.4C1364.7,647.5 1366.1,650.8 1367.5,652.5C1368.9,654.2 1369.8,654.4 1371.3,654.7C1372.8,655.0 1374.4,655.0 1376.2,654.3C1378.0,653.5 1380.3,652.5 1381.9,650.2C1383.5,647.9 1384.6,643.4 1385.9,640.4C1387.2,637.4 1388.6,634.0 1390.0,632.3C1391.4,630.5 1392.6,629.8 1394.1,629.9C1395.6,630.0 1397.2,631.4 1398.9,633.1C1400.7,634.9 1402.7,637.3 1404.6,640.4C1406.5,643.5 1408.5,648.0 1410.3,651.8C1412.1,655.6 1413.7,660.2 1415.2,663.2C1416.7,666.2 1418.0,668.2 1419.3,669.7C1420.6,671.2 1421.8,672.1 1423.3,672.2C1424.8,672.3 1426.0,670.7 1428.2,670.1C1430.4,669.5 1434.1,669.1 1436.4,668.5C1438.7,667.9 1440.1,667.9 1442.1,666.5C1444.1,665.1 1446.4,661.6 1448.6,660.0C1450.8,658.4 1452.8,657.0 1455.1,657.1C1457.4,657.2 1460.2,659.6 1462.4,660.8C1464.6,662.0 1467.1,663.9 1468.0,664.5" fill="none" stroke="#4444ff" stroke-opacity="0.72" stroke-width="2.3" stroke-linejoin="round" stroke-linecap="round"/>
<text x="971.5" y="90.4" font-family="Liberation Sans" font-size="33.7" fill="#000">Q3</text>
<text x="1110.6" y="94.8" font-family="Liberation Sans" font-size="32.8" fill="#000">Q4</text>
<circle cx="747.6" cy="702.4" r="1.4" fill="#6a6aff"/>
<path d="M4.1,1610.9C4.8,1610.7 6.8,1610.0 8.1,1609.6C9.4,1609.2 10.6,1608.7 11.9,1608.3C13.2,1607.8 14.4,1607.3 15.7,1606.8C17.0,1606.3 18.2,1605.8 19.5,1605.3C20.8,1604.8 22.0,1604.3 23.3,1603.8C24.6,1603.3 25.8,1602.8 27.1,1602.3C28.4,1601.7 29.6,1601.2 30.9,1600.8C32.2,1600.3 33.4,1599.8 34.7,1599.3C36.0,1598.9 37.2,1598.5 38.5,1598.1C39.8,1597.6 41.2,1597.2 42.5,1596.9C43.8,1596.6 45.2,1596.3 46.5,1596.0C47.8,1595.8 49.2,1595.6 50.5,1595.5C51.8,1595.4 53.2,1595.3 54.5,1595.3C55.8,1595.3 57.2,1595.4 58.5,1595.5C59.8,1595.6 61.2,1595.8 62.5,1596.0C63.8,1596.3 65.2,1596.6 66.5,1596.9C67.8,1597.2 69.2,1597.6 70.5,1598.0C71.8,1598.4 73.0,1598.9 74.3,1599.3C75.6,1599.7 76.8,1600.2 78.1,1600.7C79.4,1601.1 80.6,1601.6 81.9,1602.1C83.2,1602.6 84.4,1603.1 85.7,1603.6C87.0,1604.1 88.2,1604.6 89.5,1605.1C90.8,1605.6 92.0,1606.1 93.3,1606.5C94.6,1607.0 95.8,1607.4 97.1,1607.9C98.4,1608.3 99.6,1608.7 100.9,1609.2C102.2,1609.6 103.6,1610.0 104.9,1610.4C106.2,1610.8 107.6,1611.2 108.9,1611.5C110.2,1611.9 111.6,1612.2 112.9,1612.5C114.2,1612.8 115.6,1613.1 116.9,1613.4C118.2,1613.7 119.6,1613.9 120.9,1614.1C122.2,1614.4 123.6,1614.6 124.9,1614.8C126.2,1615.0 127.6,1615.2 128.9,1615.3C130.2,1615.5 131.6,1615.6 132.9,1615.8C134.2,1615.9 135.6,1616.0 136.9,1616.2C138.2,1616.3 139.6,1616.4 140.9,1616.5C142.2,1616.5 143.6,1616.6 144.9,1616.7C146.2,1616.8 147.6,1616.8 148.9,1616.9C150.2,1617.0 151.6,1617.0 152.9,1617.1C154.2,1617.1 155.6,1617.1 156.9,1617.2C158.2,1617.2 159.6,1617.2 160.9,1617.3C162.2,1617.3 163.6,1617.3 164.9,1617.3C166.2,1617.4 167.6,1617.4 168.9,1617.4C170.2,1617.4 171.6,1617.4 172.9,1617.4C174.2,1617.5 175.6,1617.5 176.9,1617.5C178.2,1617.5 179.6,1617.5 180.9,1617.5C182.2,1617.5 183.6,1617.5 184.9,1617.5C186.2,1617.5 187.6,1617.5 188.9,1617.5C190.2,1617.5 191.6,1617.6 192.9,1617.6C194.2,1617.6 195.6,1617.6 196.9,1617.6C198.2,1617.6 199.6,1617.6 200.9,1617.6C202.2,1617.6 203.6,1617.6 204.9,1617.6C206.2,1617.6 207.6,1617.6 208.9,1617.6C210.2,1617.6 211.6,1617.6 212.9,1617.6C214.2,1617.6 215.6,1617.6 216.9,1617.6C218.2,1617.6 219.6,1617.6 220.9,1617.5C222.2,1617.5 223.6,1617.5 224.9,1617.5C226.2,1617.5 227.6,1617.5 228.9,1617.5C230.2,1617.5 231.6,1617.5 232.9,1617.5C234.2,1617.5 235.6,1617.5 236.9,1617.5C238.2,1617.5 239.6,1617.5 240.9,1617.5C242.2,1617.5 243.6,1617.5 244.9,1617.5C246.2,1617.5 247.6,1617.5 248.9,1617.5C250.2,1617.5 251.6,1617.5 252.9,1617.5C254.2,1617.4 255.6,1617.4 256.9,1617.4C258.2,1617.4 259.6,1617.4 260.9,1617.4C262.2,1617.4 263.6,1617.4 264.9,1617.4C266.2,1617.4 267.6,1617.4 268.9,1617.4C270.2,1617.4 271.6,1617.4 272.9,1617.4C274.2,1617.4 275.6,1617.4 276.9,1617.3C278.2,1617.3 279.6,1617.3 280.9,1617.3C282.2,1617.3 283.6,1617.3 284.9,1617.3C286.2,1617.3 287.6,1617.3 288.9,1617.3C290.2,1617.3 291.6,1617.3 292.9,1617.3C294.2,1617.3 295.6,1617.3 296.9,1617.2C298.2,1617.2 299.6,1617.2 300.9,1617.2C302.2,1617.2 303.6,1617.2 304.9,1617.2C306.2,1617.2 307.6,1617.2 308.9,1617.2C310.2,1617.2 311.6,1617.2 312.9,1617.2C314.2,1617.2 315.6,1617.1 316.9,1617.1C318.2,1617.1 319.6,1617.1 320.9,1617.1C322.2,1617.1 323.6,1617.1 324.9,1617.1C326.2,1617.1 327.6,1617.1 328.9,1617.1C330.2,1617.1 331.6,1617.1 332.9,1617.0C334.2,1617.0 335.6,1617.0 336.9,1617.0C338.2,1617.0 339.6,1617.0 340.9,1617.0C342.2,1617.0 343.6,1617.0 344.9,1617.0C346.2,1617.0 347.6,1617.0 348.9,1616.9C350.2,1616.9 351.6,1616.9 352.9,1616.9C354.2,1616.9 355.6,1616.9 356.9,1616.9C358.2,1616.9 359.6,1616.9 360.9,1616.9C362.2,1616.9 363.6,1616.9 364.9,1616.8C366.2,1616.8 367.6,1616.8 368.9,1616.8C370.2,1616.8 371.6,1616.8 372.9,1616.8C374.2,1616.8 375.6,1616.8 376.9,1616.8C378.2,1616.8 379.6,1616.8 380.9,1616.7C382.2,1616.7 383.6,1616.7 384.9,1616.7C386.2,1616.7 387.6,1616.7 388.9,1616.7C390.2,1616.7 391.6,1616.7 392.9,1616.7C394.2,1616.7 395.6,1616.7 396.9,1616.6C398.2,1616.6 399.6,1616.6 400.9,1616.6C402.2,1616.6 403.6,1616.6 404.9,1616.6C406.2,1616.6 407.6,1616.6 408.9,1616.6C410.2,1616.6 411.6,1616.5 412.9,1616.5C414.2,1616.5 415.6,1616.5 416.9,1616.5C418.2,1616.5 419.6,1616.5 420.9,1616.5C422.2,1616.5 423.6,1616.5 424.9,1616.5C426.2,1616.5 427.6,1616.4 428.9,1616.4C430.2,1616.4 431.6,1616.4 432.9,1616.4C434.2,1616.4 435.6,1616.4 436.9,1616.4C438.2,1616.4 439.6,1616.4 440.9,1616.4C442.2,1616.3 443.6,1616.3 444.9,1616.3C446.2,1616.3 447.6,1616.3 448.9,1616.3C450.2,1616.3 451.6,1616.3 452.9,1616.3C454.2,1616.3 455.6,1616.3 456.9,1616.2C458.2,1616.2 459.6,1616.2 460.9,1616.2C462.2,1616.2 463.6,1616.2 464.9,1616.2C466.2,1616.2 467.6,1616.2 468.9,1616.2C470.2,1616.2 471.6,1616.1 472.9,1616.1C474.2,1616.1 475.6,1616.1 476.9,1616.1C478.2,1616.1 479.6,1616.1 480.9,1616.1C482.2,1616.1 483.6,1616.1 484.9,1616.1C486.2,1616.0 487.6,1616.0 488.9,1616.0C490.2,1616.0 491.6,1616.0 492.9,1616.0C494.2,1616.0 495.6,1616.0 496.9,1616.0C498.2,1616.0 499.6,1616.0 500.9,1615.9C502.2,1615.9 503.6,1615.9 504.9,1615.9C506.2,1615.9 507.6,1615.9 508.9,1615.9C510.2,1615.9 511.6,1615.9 512.9,1615.9C514.2,1615.9 515.6,1615.8 516.9,1615.8C518.2,1615.8 519.6,1615.8 520.9,1615.8C522.2,1615.8 523.6,1615.8 524.9,1615.8C526.2,1615.8 527.6,1615.8 528.9,1615.8C530.2,1615.7 531.6,1615.7 532.9,1615.7C534.2,1615.7 535.6,1615.7 536.9,1615.7C538.2,1615.7 539.6,1615.7 540.9,1615.7C542.2,1615.7 543.6,1615.7 544.9,1615.6C546.2,1615.6 547.6,1615.6 548.9,1615.6C550.2,1615.6 551.6,1615.6 552.9,1615.6C554.2,1615.6 555.6,1615.6 556.9,1615.6C558.2,1615.6 559.6,1615.5 560.9,1615.5C562.2,1615.5 563.6,1615.5 564.9,1615.5C566.2,1615.5 567.6,1615.5 568.9,1615.5C570.2,1615.5 571.6,1615.5 572.9,1615.5C574.2,1615.4 575.6,1615.4 576.9,1615.4C578.2,1615.4 579.6,1615.4 580.9,1615.4C582.2,1615.4 583.6,1615.4 584.9,1615.4C586.2,1615.4 587.6,1615.4 588.9,1615.3C590.2,1615.3 591.6,1615.3 592.9,1615.3C594.2,1615.3 595.6,1615.3 596.9,1615.3C598.2,1615.3 599.6,1615.3 600.9,1615.3C602.2,1615.2 603.6,1615.2 604.9,1615.2C606.2,1615.2 607.6,1615.2 608.9,1615.2C610.2,1615.2 611.6,1615.2 612.9,1615.2C614.2,1615.2 615.6,1615.2 616.9,1615.1C618.2,1615.1 619.6,1615.1 620.9,1615.1C622.2,1615.1 623.6,1615.1 624.9,1615.1C626.2,1615.1 627.6,1615.1 628.9,1615.1C630.2,1615.1 631.6,1615.0 632.9,1615.0C634.2,1615.0 635.6,1615.0 636.9,1615.0C638.2,1615.0 639.6,1615.0 640.9,1615.0C642.2,1615.0 643.6,1615.0 644.9,1614.9C646.2,1614.9 647.6,1614.9 648.9,1614.9C650.2,1614.9 651.6,1614.9 652.9,1614.9C654.2,1614.9 655.6,1614.9 656.9,1614.9C658.2,1614.9 659.6,1614.8 660.9,1614.8C662.2,1614.8 663.6,1614.8 664.9,1614.8C666.2,1614.8 667.6,1614.8 668.9,1614.8C670.2,1614.8 671.6,1614.8 672.9,1614.8C674.2,1614.7 675.6,1614.7 676.9,1614.7C678.2,1614.7 679.6,1614.7 680.9,1614.7C682.2,1614.7 683.6,1614.7 684.9,1614.7C686.2,1614.7 687.6,1614.6 688.9,1614.6C690.2,1614.6 691.6,1614.6 692.9,1614.6C694.2,1614.6 695.6,1614.6 696.9,1614.6C698.2,1614.6 699.6,1614.6 700.9,1614.6C702.2,1614.5 703.6,1614.5 704.9,1614.5C706.2,1614.5 707.6,1614.5 708.9,1614.5C710.2,1614.5 711.8,1614.5 712.9,1614.5C714.0,1614.5 715.1,1614.5 715.5,1614.5" fill="none" stroke="#5cb85c" stroke-opacity="0.72" stroke-width="2.0" stroke-linejoin="round" stroke-linecap="round"/>
<path d="M4.1,1615.7C4.8,1615.7 6.8,1615.7 8.1,1615.7C9.4,1615.6 10.8,1615.6 12.1,1615.6C13.4,1615.6 14.8,1615.6 16.1,1615.5C17.4,1615.5 18.8,1615.5 20.1,1615.5C21.4,1615.4 22.8,1615.4 24.1,1615.4C25.4,1615.4 26.8,1615.4 28.1,1615.3C29.4,1615.3 30.8,1615.3 32.1,1615.3C33.4,1615.2 34.8,1615.2 36.1,1615.2C37.4,1615.2 38.8,1615.1 40.1,1615.1C41.4,1615.1 42.8,1615.1 44.1,1615.0C45.4,1615.0 46.8,1615.0 48.1,1615.0C49.4,1614.9 50.8,1614.9 52.1,1614.9C53.4,1614.9 54.8,1614.8 56.1,1614.8C57.4,1614.8 58.8,1614.8 60.1,1614.7C61.4,1614.7 62.8,1614.7 64.1,1614.6C65.4,1614.6 66.8,1614.6 68.1,1614.6C69.4,1614.5 70.8,1614.5 72.1,1614.5C73.4,1614.4 74.8,1614.4 76.1,1614.4C77.4,1614.3 78.8,1614.3 80.1,1614.3C81.4,1614.3 82.8,1614.2 84.1,1614.2C85.4,1614.2 86.8,1614.1 88.1,1614.1C89.4,1614.1 90.8,1614.0 92.1,1614.0C93.4,1613.9 94.8,1613.9 96.1,1613.9C97.4,1613.8 98.8,1613.8 100.1,1613.8C101.4,1613.7 102.8,1613.7 104.1,1613.7C105.4,1613.6 106.8,1613.6 108.1,1613.5C109.4,1613.5 110.8,1613.5 112.1,1613.4C113.4,1613.4 114.8,1613.3 116.1,1613.3C117.4,1613.2 118.8,1613.2 120.1,1613.1C121.4,1613.1 122.8,1613.1 124.1,1613.0C125.4,1613.0 126.8,1612.9 128.1,1612.9C129.4,1612.8 130.8,1612.8 132.1,1612.7C133.4,1612.7 134.8,1612.6 136.1,1612.5C137.4,1612.5 138.8,1612.4 140.1,1612.4C141.4,1612.3 142.8,1612.3 144.1,1612.2C145.4,1612.1 146.8,1612.1 148.1,1612.0C149.4,1611.9 150.8,1611.9 152.1,1611.8C153.4,1611.7 154.8,1611.6 156.1,1611.5C157.4,1611.5 158.8,1611.4 160.1,1611.3C161.4,1611.2 162.8,1611.1 164.1,1611.0C165.4,1610.9 166.8,1610.8 168.1,1610.7C169.4,1610.6 170.8,1610.5 172.1,1610.3C173.4,1610.2 174.8,1610.1 176.1,1609.9C177.4,1609.8 178.8,1609.6 180.1,1609.5C181.4,1609.3 182.8,1609.1 184.1,1609.0C185.4,1608.8 186.8,1608.6 188.1,1608.4C189.4,1608.1 190.8,1607.9 192.1,1607.7C193.4,1607.4 194.8,1607.1 196.1,1606.9C197.4,1606.6 198.8,1606.2 200.1,1605.9C201.4,1605.6 202.8,1605.2 204.1,1604.8C205.4,1604.4 206.8,1604.0 208.1,1603.5C209.4,1603.1 210.6,1602.6 211.9,1602.1C213.2,1601.6 214.5,1601.0 215.7,1600.5C216.9,1599.9 218.1,1599.3 219.3,1598.7C220.5,1598.0 221.7,1597.3 222.9,1596.6C224.1,1595.9 225.2,1595.2 226.3,1594.4C227.4,1593.6 228.6,1592.7 229.7,1591.9C230.8,1591.0 231.9,1590.1 232.9,1589.2C233.9,1588.3 234.9,1587.4 235.9,1586.4C236.9,1585.5 237.8,1584.6 238.7,1583.5C239.6,1582.5 240.6,1581.4 241.5,1580.4C242.4,1579.3 243.3,1578.2 244.1,1577.2C244.9,1576.1 245.7,1575.1 246.5,1573.9C247.3,1572.8 248.1,1571.6 248.9,1570.5C249.7,1569.3 250.4,1568.2 251.1,1567.0C251.8,1565.9 252.6,1564.6 253.3,1563.4C254.0,1562.2 254.6,1561.0 255.3,1559.8C256.0,1558.6 256.7,1557.3 257.3,1556.1C257.9,1554.8 258.5,1553.7 259.1,1552.5C259.7,1551.3 260.3,1550.0 260.9,1548.7C261.5,1547.4 262.1,1546.0 262.7,1544.8C263.3,1543.5 263.8,1542.3 264.3,1541.1C264.8,1539.8 265.4,1538.6 265.9,1537.2C266.4,1535.9 267.0,1534.6 267.5,1533.2C268.0,1531.9 268.6,1530.4 269.1,1529.1C269.6,1527.7 270.0,1526.6 270.5,1525.3C271.0,1524.0 271.4,1522.7 271.9,1521.4C272.4,1520.0 272.8,1518.7 273.3,1517.3C273.8,1515.9 274.2,1514.5 274.7,1513.1C275.2,1511.7 275.7,1510.1 276.1,1508.8C276.5,1507.4 276.9,1506.2 277.3,1505.0C277.7,1503.7 278.1,1502.4 278.5,1501.0C278.9,1499.7 279.3,1498.4 279.7,1497.0C280.1,1495.6 280.5,1494.3 280.9,1492.9C281.3,1491.5 281.7,1490.1 282.1,1488.6C282.5,1487.2 282.9,1485.8 283.3,1484.3C283.7,1482.8 284.1,1481.4 284.5,1479.9C284.9,1478.4 285.3,1476.8 285.7,1475.3C286.1,1473.8 286.5,1472.1 286.9,1470.6C287.3,1469.2 287.6,1468.0 287.9,1466.7C288.2,1465.4 288.6,1464.0 288.9,1462.7C289.2,1461.3 289.6,1459.9 289.9,1458.5C290.2,1457.2 290.6,1455.8 290.9,1454.4C291.2,1453.0 291.6,1451.6 291.9,1450.1C292.2,1448.7 292.6,1447.3 292.9,1445.8C293.2,1444.4 293.6,1442.9 293.9,1441.4C294.2,1439.9 294.6,1438.4 294.9,1437.0C295.2,1435.5 295.6,1433.9 295.9,1432.4C296.2,1430.9 296.6,1429.4 296.9,1427.8C297.2,1426.3 297.6,1424.7 297.9,1423.2C298.2,1421.6 298.6,1420.0 298.9,1418.4C299.2,1416.8 299.6,1415.2 299.9,1413.6C300.2,1412.0 300.6,1410.2 300.9,1408.8C301.2,1407.3 301.4,1406.1 301.7,1404.8C302.0,1403.5 302.2,1402.2 302.5,1400.8C302.8,1399.5 303.0,1398.2 303.3,1396.8C303.6,1395.5 303.8,1394.1 304.1,1392.8C304.4,1391.4 304.6,1390.1 304.9,1388.7C305.2,1387.3 305.4,1385.9 305.7,1384.6C306.0,1383.2 306.2,1381.8 306.5,1380.4C306.8,1379.0 307.0,1377.6 307.3,1376.2C307.6,1374.8 307.8,1373.4 308.1,1372.0C308.4,1370.5 308.6,1369.1 308.9,1367.7C309.2,1366.3 309.4,1364.8 309.7,1363.4C310.0,1361.9 310.2,1360.5 310.5,1359.1C310.8,1357.6 311.0,1356.1 311.3,1354.7C311.6,1353.2 311.8,1351.8 312.1,1350.3C312.4,1348.8 312.6,1347.4 312.9,1345.9C313.2,1344.4 313.4,1342.9 313.7,1341.4C314.0,1339.9 314.2,1338.4 314.5,1337.0C314.8,1335.5 315.0,1334.0 315.3,1332.5C315.6,1331.0 315.8,1329.4 316.1,1327.9C316.4,1326.4 316.6,1324.9 316.9,1323.4C317.2,1321.9 317.4,1320.4 317.7,1318.8C318.0,1317.3 318.2,1315.8 318.5,1314.2C318.8,1312.7 319.0,1311.2 319.3,1309.6C319.6,1308.1 319.8,1306.6 320.1,1305.0C320.4,1303.5 320.6,1301.9 320.9,1300.4C321.2,1298.8 321.4,1297.3 321.7,1295.7C322.0,1294.2 322.2,1292.6 322.5,1291.1C322.8,1289.5 323.0,1288.0 323.3,1286.4C323.6,1284.9 323.8,1283.3 324.1,1281.7C324.4,1280.2 324.6,1278.6 324.9,1277.1C325.2,1275.5 325.4,1273.9 325.7,1272.4C326.0,1270.8 326.2,1269.2 326.5,1267.7C326.8,1266.1 327.0,1264.6 327.3,1263.0C327.6,1261.4 327.8,1259.9 328.1,1258.3C328.4,1256.7 328.6,1255.2 328.9,1253.6C329.2,1252.0 329.4,1250.5 329.7,1248.9C330.0,1247.4 330.2,1245.8 330.5,1244.2C330.8,1242.7 331.0,1241.1 331.3,1239.6C331.6,1238.0 331.8,1236.4 332.1,1234.9C332.4,1233.3 332.6,1231.8 332.9,1230.2C333.2,1228.7 333.4,1227.1 333.7,1225.6C334.0,1224.0 334.2,1222.5 334.5,1221.0C334.8,1219.4 335.0,1217.9 335.3,1216.3C335.6,1214.8 335.8,1213.3 336.1,1211.8C336.4,1210.2 336.6,1208.7 336.9,1207.2C337.2,1205.7 337.4,1204.1 337.7,1202.6C338.0,1201.1 338.2,1199.6 338.5,1198.1C338.8,1196.6 339.0,1195.1 339.3,1193.6C339.6,1192.1 339.8,1190.6 340.1,1189.1C340.4,1187.7 340.6,1186.2 340.9,1184.7C341.2,1183.2 341.4,1181.8 341.7,1180.3C342.0,1178.9 342.2,1177.4 342.5,1175.9C342.8,1174.5 343.0,1173.1 343.3,1171.6C343.6,1170.2 343.8,1168.8 344.1,1167.3C344.4,1165.9 344.6,1164.5 344.9,1163.1C345.2,1161.7 345.4,1160.3 345.7,1158.9C346.0,1157.5 346.2,1156.1 346.5,1154.7C346.8,1153.4 347.0,1152.0 347.3,1150.6C347.6,1149.3 347.8,1147.9 348.1,1146.6C348.4,1145.2 348.6,1143.9 348.9,1142.6C349.2,1141.2 349.4,1140.1 349.7,1138.6C350.0,1137.2 350.4,1135.4 350.7,1133.8C351.0,1132.2 351.4,1130.6 351.7,1129.0C352.0,1127.4 352.4,1125.9 352.7,1124.3C353.0,1122.8 353.4,1121.3 353.7,1119.8C354.0,1118.3 354.4,1116.8 354.7,1115.3C355.0,1113.9 355.4,1112.4 355.7,1111.0C356.0,1109.6 356.4,1108.2 356.7,1106.8C357.0,1105.4 357.4,1104.0 357.7,1102.7C358.0,1101.3 358.3,1100.1 358.7,1098.7C359.1,1097.2 359.5,1095.6 359.9,1094.1C360.3,1092.6 360.7,1091.1 361.1,1089.6C361.5,1088.2 361.9,1086.8 362.3,1085.4C362.7,1084.0 363.1,1082.7 363.5,1081.4C363.9,1080.1 364.3,1078.9 364.7,1077.5C365.1,1076.2 365.6,1074.7 366.1,1073.4C366.6,1072.0 367.0,1070.8 367.5,1069.5C368.0,1068.1 368.5,1066.7 369.1,1065.4C369.7,1064.0 370.3,1062.6 370.9,1061.3C371.5,1060.0 372.2,1058.6 372.9,1057.4C373.6,1056.1 374.3,1054.9 375.1,1053.8C375.9,1052.7 376.7,1051.6 377.7,1050.8C378.7,1049.9 379.9,1048.9 381.1,1048.5C382.3,1048.2 383.9,1048.2 385.1,1048.6C386.3,1049.0 387.5,1050.0 388.5,1050.9C389.5,1051.8 390.3,1052.9 391.1,1054.0C391.9,1055.1 392.6,1056.3 393.3,1057.6C394.0,1058.8 394.7,1060.2 395.3,1061.5C395.9,1062.9 396.5,1064.3 397.1,1065.7C397.7,1067.0 398.2,1068.4 398.7,1069.8C399.2,1071.1 399.6,1072.3 400.1,1073.7C400.6,1075.0 401.1,1076.6 401.5,1077.9C401.9,1079.2 402.3,1080.4 402.7,1081.7C403.1,1083.1 403.5,1084.4 403.9,1085.8C404.3,1087.2 404.7,1088.6 405.1,1090.0C405.5,1091.5 405.9,1093.0 406.3,1094.5C406.7,1096.0 407.1,1097.7 407.5,1099.1C407.9,1100.5 408.2,1101.8 408.5,1103.1C408.8,1104.5 409.2,1105.8 409.5,1107.2C409.8,1108.6 410.2,1110.0 410.5,1111.5C410.8,1112.9 411.2,1114.3 411.5,1115.8C411.8,1117.3 412.2,1118.8 412.5,1120.3C412.8,1121.8 413.2,1123.3 413.5,1124.8C413.8,1126.4 414.2,1127.9 414.5,1129.5C414.8,1131.1 415.2,1132.7 415.5,1134.3C415.8,1135.9 416.2,1137.7 416.5,1139.1C416.8,1140.6 417.0,1141.8 417.3,1143.1C417.6,1144.4 417.8,1145.7 418.1,1147.1C418.4,1148.4 418.6,1149.8 418.9,1151.1C419.2,1152.5 419.4,1153.9 419.7,1155.3C420.0,1156.6 420.2,1158.0 420.5,1159.4C420.8,1160.8 421.0,1162.2 421.3,1163.6C421.6,1165.0 421.8,1166.4 422.1,1167.9C422.4,1169.3 422.6,1170.7 422.9,1172.1C423.2,1173.6 423.4,1175.0 423.7,1176.5C424.0,1177.9 424.2,1179.4 424.5,1180.8C424.8,1182.3 425.0,1183.8 425.3,1185.2C425.6,1186.7 425.8,1188.2 426.1,1189.7C426.4,1191.2 426.6,1192.6 426.9,1194.1C427.2,1195.6 427.4,1197.1 427.7,1198.6C428.0,1200.1 428.2,1201.6 428.5,1203.2C428.8,1204.7 429.0,1206.2 429.3,1207.7C429.6,1209.2 429.8,1210.7 430.1,1212.3C430.4,1213.8 430.6,1215.3 430.9,1216.9C431.2,1218.4 431.4,1219.9 431.7,1221.5C432.0,1223.0 432.2,1224.5 432.5,1226.1C432.8,1227.6 433.0,1229.2 433.3,1230.7C433.6,1232.3 433.8,1233.8 434.1,1235.4C434.4,1236.9 434.6,1238.5 434.9,1240.0C435.2,1241.6 435.4,1243.1 435.7,1244.7C436.0,1246.3 436.2,1247.8 436.5,1249.4C436.8,1250.9 437.0,1252.5 437.3,1254.1C437.6,1255.6 437.8,1257.2 438.1,1258.7C438.4,1260.3 438.6,1261.9 438.9,1263.4C439.2,1265.0 439.4,1266.6 439.7,1268.1C440.0,1269.7 440.2,1271.2 440.5,1272.8C440.8,1274.4 441.0,1275.9 441.3,1277.5C441.6,1279.0 441.8,1280.6 442.1,1282.2C442.4,1283.7 442.6,1285.3 442.9,1286.8C443.2,1288.4 443.4,1289.9 443.7,1291.5C444.0,1293.0 444.2,1294.6 444.5,1296.1C444.8,1297.7 445.0,1299.2 445.3,1300.8C445.6,1302.3 445.8,1303.8 446.1,1305.4C446.4,1306.9 446.6,1308.5 446.9,1310.0C447.2,1311.5 447.4,1313.1 447.7,1314.6C448.0,1316.1 448.2,1317.6 448.5,1319.1C448.8,1320.7 449.0,1322.2 449.3,1323.7C449.6,1325.2 449.8,1326.7 450.1,1328.2C450.4,1329.7 450.6,1331.2 450.9,1332.7C451.2,1334.2 451.4,1335.7 451.7,1337.2C452.0,1338.7 452.2,1340.2 452.5,1341.7C452.8,1343.2 453.0,1344.6 453.3,1346.1C453.6,1347.6 453.8,1349.1 454.1,1350.5C454.4,1352.0 454.6,1353.4 454.9,1354.9C455.2,1356.4 455.4,1357.8 455.7,1359.2C456.0,1360.7 456.2,1362.1 456.5,1363.6C456.8,1365.0 457.0,1366.4 457.3,1367.9C457.6,1369.3 457.8,1370.7 458.1,1372.1C458.4,1373.5 458.6,1374.9 458.9,1376.3C459.2,1377.7 459.4,1379.1 459.7,1380.5C460.0,1381.9 460.2,1383.3 460.5,1384.7C460.8,1386.0 461.0,1387.4 461.3,1388.8C461.6,1390.1 461.8,1391.5 462.1,1392.8C462.4,1394.2 462.6,1395.5 462.9,1396.9C463.2,1398.2 463.4,1399.6 463.7,1400.9C464.0,1402.2 464.2,1403.5 464.5,1404.8C464.8,1406.2 465.0,1407.3 465.3,1408.8C465.6,1410.2 466.0,1412.0 466.3,1413.6C466.6,1415.2 467.0,1416.8 467.3,1418.4C467.6,1420.0 468.0,1421.5 468.3,1423.1C468.6,1424.7 469.0,1426.2 469.3,1427.7C469.6,1429.3 470.0,1430.8 470.3,1432.3C470.6,1433.8 471.0,1435.3 471.3,1436.8C471.6,1438.3 472.0,1439.8 472.3,1441.3C472.6,1442.7 473.0,1444.2 473.3,1445.6C473.6,1447.1 474.0,1448.5 474.3,1449.9C474.6,1451.3 475.0,1452.8 475.3,1454.2C475.6,1455.6 476.0,1456.9 476.3,1458.3C476.6,1459.7 477.0,1461.0 477.3,1462.4C477.6,1463.7 478.0,1465.1 478.3,1466.4C478.6,1467.7 478.9,1468.9 479.3,1470.3C479.7,1471.8 480.1,1473.4 480.5,1475.0C480.9,1476.5 481.3,1478.0 481.7,1479.5C482.1,1481.0 482.5,1482.5 482.9,1483.9C483.3,1485.4 483.7,1486.8 484.1,1488.2C484.5,1489.6 484.9,1491.0 485.3,1492.4C485.7,1493.8 486.1,1495.2 486.5,1496.5C486.9,1497.9 487.3,1499.2 487.7,1500.5C488.1,1501.8 488.5,1503.0 488.9,1504.4C489.3,1505.8 489.8,1507.4 490.3,1508.8C490.8,1510.3 491.2,1511.7 491.7,1513.1C492.2,1514.5 492.6,1515.9 493.1,1517.3C493.6,1518.6 494.0,1520.0 494.5,1521.3C495.0,1522.6 495.4,1523.8 495.9,1525.1C496.4,1526.5 497.0,1528.0 497.5,1529.4C498.0,1530.8 498.6,1532.2 499.1,1533.5C499.6,1534.8 500.2,1536.2 500.7,1537.4C501.2,1538.7 501.7,1539.9 502.3,1541.2C502.9,1542.5 503.5,1543.9 504.1,1545.3C504.7,1546.6 505.3,1547.9 505.9,1549.1C506.5,1550.4 507.1,1551.5 507.7,1552.8C508.3,1554.0 509.0,1555.4 509.7,1556.6C510.4,1557.9 511.0,1559.0 511.7,1560.3C512.4,1561.5 513.2,1562.8 513.9,1564.0C514.6,1565.2 515.3,1566.4 516.1,1567.5C516.9,1568.7 517.7,1570.0 518.5,1571.1C519.3,1572.2 520.1,1573.3 520.9,1574.4C521.7,1575.5 522.6,1576.6 523.5,1577.7C524.4,1578.8 525.4,1579.9 526.3,1580.9C527.2,1582.0 528.1,1582.9 529.1,1583.9C530.1,1584.9 531.1,1585.8 532.1,1586.8C533.1,1587.7 534.2,1588.6 535.3,1589.5C536.4,1590.3 537.4,1591.1 538.5,1591.9C539.6,1592.7 540.7,1593.5 541.9,1594.2C543.1,1594.9 544.3,1595.7 545.5,1596.3C546.7,1597.0 547.9,1597.6 549.1,1598.2C550.3,1598.8 551.6,1599.3 552.9,1599.8C554.2,1600.4 555.4,1600.8 556.7,1601.3C558.0,1601.8 559.4,1602.2 560.7,1602.6C562.0,1603.0 563.4,1603.4 564.7,1603.7C566.0,1604.1 567.4,1604.4 568.7,1604.7C570.0,1605.0 571.4,1605.2 572.7,1605.5C574.0,1605.7 575.4,1606.0 576.7,1606.2C578.0,1606.4 579.4,1606.6 580.7,1606.8C582.0,1606.9 583.4,1607.1 584.7,1607.3C586.0,1607.4 587.4,1607.6 588.7,1607.7C590.0,1607.8 591.4,1608.0 592.7,1608.1C594.0,1608.2 595.4,1608.3 596.7,1608.4C598.0,1608.5 599.4,1608.6 600.7,1608.7C602.0,1608.8 603.4,1608.9 604.7,1608.9C606.0,1609.0 607.4,1609.1 608.7,1609.2C610.0,1609.2 611.4,1609.3 612.7,1609.4C614.0,1609.4 615.4,1609.5 616.7,1609.5C618.0,1609.6 619.4,1609.6 620.7,1609.7C622.0,1609.7 623.4,1609.8 624.7,1609.8C626.0,1609.9 627.4,1609.9 628.7,1610.0C630.0,1610.0 631.4,1610.1 632.7,1610.1C634.0,1610.1 635.4,1610.2 636.7,1610.2C638.0,1610.3 639.4,1610.3 640.7,1610.3C642.0,1610.4 643.4,1610.4 644.7,1610.4C646.0,1610.5 647.4,1610.5 648.7,1610.5C650.0,1610.5 651.4,1610.6 652.7,1610.6C654.0,1610.6 655.4,1610.7 656.7,1610.7C658.0,1610.7 659.4,1610.7 660.7,1610.8C662.0,1610.8 663.4,1610.8 664.7,1610.8C666.0,1610.9 667.4,1610.9 668.7,1610.9C670.0,1610.9 671.4,1611.0 672.7,1611.0C674.0,1611.0 675.4,1611.0 676.7,1611.0C678.0,1611.1 679.4,1611.1 680.7,1611.1C682.0,1611.1 683.4,1611.1 684.7,1611.2C686.0,1611.2 687.4,1611.2 688.7,1611.2C690.0,1611.2 691.4,1611.2 692.7,1611.3C694.0,1611.3 695.4,1611.3 696.7,1611.3C698.0,1611.3 699.4,1611.3 700.7,1611.4C702.0,1611.4 703.4,1611.4 704.7,1611.4C706.0,1611.4 707.4,1611.4 708.7,1611.4C710.0,1611.5 711.6,1611.5 712.7,1611.5C713.8,1611.5 715.0,1611.5 715.5,1611.5" fill="none" stroke="#66bebe" stroke-opacity="0.72" stroke-width="2.0" stroke-linejoin="round" stroke-linecap="round"/>
<path d="M4.1,1611.5C4.8,1611.4 6.8,1611.3 8.1,1611.2C9.4,1611.1 10.8,1611.0 12.1,1610.9C13.4,1610.8 14.8,1610.7 16.1,1610.6C17.4,1610.5 18.8,1610.4 20.1,1610.3C21.4,1610.1 22.8,1610.0 24.1,1609.9C25.4,1609.7 26.8,1609.6 28.1,1609.4C29.4,1609.3 30.8,1609.1 32.1,1609.0C33.4,1608.8 34.8,1608.6 36.1,1608.5C37.4,1608.3 38.8,1608.1 40.1,1607.9C41.4,1607.7 42.8,1607.4 44.1,1607.2C45.4,1607.0 46.8,1606.7 48.1,1606.5C49.4,1606.2 50.8,1606.0 52.1,1605.7C53.4,1605.4 54.8,1605.1 56.1,1604.8C57.4,1604.4 58.8,1604.1 60.1,1603.7C61.4,1603.4 62.8,1603.0 64.1,1602.6C65.4,1602.2 66.8,1601.7 68.1,1601.3C69.4,1600.9 70.6,1600.4 71.9,1600.0C73.2,1599.5 74.4,1599.0 75.7,1598.5C77.0,1597.9 78.2,1597.4 79.5,1596.8C80.8,1596.2 82.1,1595.6 83.3,1595.0C84.5,1594.4 85.7,1593.8 86.9,1593.1C88.1,1592.4 89.3,1591.7 90.5,1591.0C91.7,1590.3 92.8,1589.7 93.9,1588.9C95.0,1588.2 96.2,1587.4 97.3,1586.6C98.4,1585.8 99.6,1585.0 100.7,1584.1C101.8,1583.3 102.8,1582.5 103.9,1581.6C105.0,1580.7 106.1,1579.8 107.1,1578.9C108.1,1578.0 109.1,1577.1 110.1,1576.2C111.1,1575.3 112.1,1574.3 113.1,1573.3C114.1,1572.4 115.1,1571.3 116.1,1570.3C117.1,1569.3 118.0,1568.3 118.9,1567.3C119.8,1566.3 120.8,1565.2 121.7,1564.2C122.6,1563.1 123.4,1562.2 124.3,1561.1C125.2,1560.1 126.0,1559.0 126.9,1557.9C127.8,1556.8 128.6,1555.7 129.5,1554.6C130.4,1553.5 131.3,1552.3 132.1,1551.1C132.9,1550.0 133.7,1548.9 134.5,1547.8C135.3,1546.7 136.1,1545.5 136.9,1544.4C137.7,1543.2 138.5,1542.0 139.3,1540.8C140.1,1539.7 140.8,1538.6 141.5,1537.5C142.2,1536.4 143.0,1535.2 143.7,1534.1C144.4,1532.9 145.2,1531.7 145.9,1530.5C146.6,1529.4 147.4,1528.2 148.1,1526.9C148.8,1525.7 149.6,1524.5 150.3,1523.3C151.0,1522.0 151.8,1520.7 152.5,1519.5C153.2,1518.3 153.8,1517.2 154.5,1516.0C155.2,1514.8 155.8,1513.7 156.5,1512.5C157.2,1511.3 157.8,1510.1 158.5,1508.9C159.2,1507.7 159.8,1506.5 160.5,1505.3C161.2,1504.0 161.8,1502.8 162.5,1501.6C163.2,1500.3 163.8,1499.1 164.5,1497.8C165.2,1496.6 165.8,1495.4 166.5,1494.1C167.2,1492.8 167.8,1491.6 168.5,1490.3C169.2,1489.0 169.8,1487.8 170.5,1486.5C171.2,1485.2 171.8,1484.0 172.5,1482.7C173.2,1481.4 173.8,1480.1 174.5,1478.8C175.2,1477.6 175.8,1476.3 176.5,1475.0C177.2,1473.7 177.8,1472.5 178.5,1471.2C179.2,1469.9 179.8,1468.6 180.5,1467.3C181.2,1466.1 181.8,1464.8 182.5,1463.5C183.2,1462.3 183.8,1461.0 184.5,1459.8C185.2,1458.5 185.8,1457.2 186.5,1456.0C187.2,1454.8 187.8,1453.5 188.5,1452.3C189.2,1451.1 189.8,1449.8 190.5,1448.6C191.2,1447.4 191.8,1446.2 192.5,1445.0C193.2,1443.8 193.8,1442.7 194.5,1441.5C195.2,1440.3 196.0,1439.0 196.7,1437.7C197.4,1436.5 198.2,1435.2 198.9,1434.0C199.6,1432.8 200.4,1431.6 201.1,1430.4C201.8,1429.3 202.5,1428.2 203.3,1427.0C204.1,1425.8 204.9,1424.6 205.7,1423.4C206.5,1422.2 207.3,1421.1 208.1,1420.0C208.9,1418.9 209.7,1417.9 210.5,1416.8C211.3,1415.7 212.2,1414.6 213.1,1413.6C214.0,1412.5 214.9,1411.4 215.9,1410.4C216.9,1409.4 217.9,1408.4 218.9,1407.4C219.9,1406.4 221.0,1405.5 222.1,1404.7C223.2,1403.8 224.3,1403.0 225.5,1402.3C226.7,1401.6 227.8,1401.0 229.1,1400.5C230.4,1400.0 231.8,1399.5 233.1,1399.2C234.4,1399.0 235.8,1398.9 237.1,1398.9C238.4,1398.9 239.8,1399.1 241.1,1399.5C242.4,1399.8 243.7,1400.2 244.9,1400.8C246.1,1401.4 247.3,1402.0 248.5,1402.8C249.7,1403.5 250.8,1404.4 251.9,1405.3C253.0,1406.1 253.9,1407.0 254.9,1407.9C255.9,1408.9 256.8,1409.8 257.7,1410.8C258.6,1411.8 259.6,1412.9 260.5,1414.0C261.4,1415.1 262.3,1416.2 263.1,1417.2C263.9,1418.3 264.7,1419.4 265.5,1420.5C266.3,1421.6 267.1,1422.7 267.9,1423.9C268.7,1425.1 269.5,1426.3 270.3,1427.5C271.1,1428.7 271.8,1429.8 272.5,1431.0C273.2,1432.2 274.0,1433.3 274.7,1434.6C275.4,1435.8 276.2,1437.0 276.9,1438.3C277.6,1439.5 278.4,1440.8 279.1,1442.1C279.8,1443.3 280.4,1444.4 281.1,1445.6C281.8,1446.8 282.4,1448.0 283.1,1449.2C283.8,1450.4 284.4,1451.6 285.1,1452.9C285.8,1454.1 286.4,1455.3 287.1,1456.6C287.8,1457.8 288.4,1459.1 289.1,1460.3C289.8,1461.6 290.4,1462.8 291.1,1464.1C291.8,1465.3 292.4,1466.6 293.1,1467.9C293.8,1469.1 294.4,1470.4 295.1,1471.7C295.8,1473.0 296.4,1474.2 297.1,1475.5C297.8,1476.8 298.4,1478.1 299.1,1479.3C299.8,1480.6 300.4,1481.9 301.1,1483.1C301.8,1484.4 302.4,1485.7 303.1,1486.9C303.8,1488.2 304.4,1489.5 305.1,1490.7C305.8,1492.0 306.4,1493.2 307.1,1494.5C307.8,1495.7 308.4,1497.0 309.1,1498.2C309.8,1499.5 310.4,1500.7 311.1,1501.9C311.8,1503.1 312.4,1504.4 313.1,1505.6C313.8,1506.8 314.4,1508.0 315.1,1509.2C315.8,1510.4 316.4,1511.5 317.1,1512.7C317.8,1513.9 318.4,1515.0 319.1,1516.2C319.8,1517.4 320.6,1518.8 321.3,1520.0C322.0,1521.3 322.8,1522.5 323.5,1523.7C324.2,1525.0 325.0,1526.2 325.7,1527.4C326.4,1528.6 327.2,1529.8 327.9,1530.9C328.6,1532.1 329.4,1533.3 330.1,1534.4C330.8,1535.5 331.5,1536.6 332.3,1537.8C333.1,1538.9 333.9,1540.2 334.7,1541.4C335.5,1542.5 336.3,1543.7 337.1,1544.8C337.9,1546.0 338.7,1547.1 339.5,1548.2C340.3,1549.3 341.1,1550.4 341.9,1551.5C342.7,1552.6 343.6,1553.8 344.5,1554.9C345.4,1556.0 346.2,1557.1 347.1,1558.1C348.0,1559.2 348.8,1560.2 349.7,1561.2C350.6,1562.3 351.6,1563.4 352.5,1564.5C353.4,1565.5 354.4,1566.5 355.3,1567.5C356.2,1568.5 357.1,1569.4 358.1,1570.4C359.1,1571.4 360.1,1572.4 361.1,1573.4C362.1,1574.3 363.1,1575.2 364.1,1576.1C365.1,1577.1 366.2,1578.0 367.3,1578.9C368.4,1579.8 369.4,1580.7 370.5,1581.5C371.6,1582.3 372.6,1583.1 373.7,1583.9C374.8,1584.7 376.0,1585.5 377.1,1586.3C378.2,1587.1 379.3,1587.8 380.5,1588.5C381.7,1589.2 382.9,1590.0 384.1,1590.7C385.3,1591.3 386.5,1592.0 387.7,1592.6C388.9,1593.2 390.1,1593.8 391.3,1594.4C392.5,1595.0 393.8,1595.6 395.1,1596.1C396.4,1596.7 397.6,1597.2 398.9,1597.7C400.2,1598.2 401.4,1598.6 402.7,1599.1C404.0,1599.5 405.2,1599.9 406.5,1600.3C407.8,1600.7 409.2,1601.1 410.5,1601.5C411.8,1601.9 413.2,1602.2 414.5,1602.6C415.8,1602.9 417.2,1603.2 418.5,1603.5C419.8,1603.8 421.2,1604.1 422.5,1604.4C423.8,1604.6 425.2,1604.9 426.5,1605.1C427.8,1605.4 429.2,1605.6 430.5,1605.8C431.8,1606.0 433.2,1606.2 434.5,1606.4C435.8,1606.6 437.2,1606.7 438.5,1606.9C439.8,1607.1 441.2,1607.2 442.5,1607.4C443.8,1607.5 445.2,1607.7 446.5,1607.8C447.8,1607.9 449.2,1608.0 450.5,1608.2C451.8,1608.3 453.2,1608.4 454.5,1608.5C455.8,1608.6 457.2,1608.7 458.5,1608.8C459.8,1608.9 461.2,1609.0 462.5,1609.1C463.8,1609.1 465.2,1609.2 466.5,1609.3C467.8,1609.4 469.2,1609.5 470.5,1609.5C471.8,1609.6 473.2,1609.7 474.5,1609.7C475.8,1609.8 477.2,1609.9 478.5,1609.9C479.8,1610.0 481.2,1610.0 482.5,1610.1C483.8,1610.1 485.2,1610.2 486.5,1610.2C487.8,1610.3 489.2,1610.3 490.5,1610.4C491.8,1610.4 493.2,1610.5 494.5,1610.5C495.8,1610.6 497.2,1610.6 498.5,1610.6C499.8,1610.7 501.2,1610.7 502.5,1610.7C503.8,1610.8 505.2,1610.8 506.5,1610.9C507.8,1610.9 509.2,1610.9 510.5,1611.0C511.8,1611.0 513.2,1611.0 514.5,1611.0C515.8,1611.1 517.2,1611.1 518.5,1611.1C519.8,1611.2 521.2,1611.2 522.5,1611.2C523.8,1611.3 525.2,1611.3 526.5,1611.3C527.8,1611.3 529.2,1611.4 530.5,1611.4C531.8,1611.4 533.2,1611.4 534.5,1611.5C535.8,1611.5 537.2,1611.5 538.5,1611.5C539.8,1611.5 541.2,1611.6 542.5,1611.6C543.8,1611.6 545.2,1611.6 546.5,1611.6C547.8,1611.7 549.2,1611.7 550.5,1611.7C551.8,1611.7 553.2,1611.7 554.5,1611.8C555.8,1611.8 557.2,1611.8 558.5,1611.8C559.8,1611.8 561.2,1611.8 562.5,1611.9C563.8,1611.9 565.2,1611.9 566.5,1611.9C567.8,1611.9 569.2,1611.9 570.5,1612.0C571.8,1612.0 573.2,1612.0 574.5,1612.0C575.8,1612.0 577.2,1612.0 578.5,1612.0C579.8,1612.1 581.2,1612.1 582.5,1612.1C583.8,1612.1 585.2,1612.1 586.5,1612.1C587.8,1612.1 589.2,1612.2 590.5,1612.2C591.8,1612.2 593.2,1612.2 594.5,1612.2C595.8,1612.2 597.2,1612.2 598.5,1612.2C599.8,1612.2 601.2,1612.3 602.5,1612.3C603.8,1612.3 605.2,1612.3 606.5,1612.3C607.8,1612.3 609.2,1612.3 610.5,1612.3C611.8,1612.3 613.2,1612.3 614.5,1612.4C615.8,1612.4 617.2,1612.4 618.5,1612.4C619.8,1612.4 621.2,1612.4 622.5,1612.4C623.8,1612.4 625.2,1612.4 626.5,1612.4C627.8,1612.4 629.2,1612.4 630.5,1612.4C631.8,1612.5 633.2,1612.5 634.5,1612.5C635.8,1612.5 637.2,1612.5 638.5,1612.5C639.8,1612.5 641.2,1612.5 642.5,1612.5C643.8,1612.5 645.2,1612.5 646.5,1612.5C647.8,1612.5 649.2,1612.5 650.5,1612.5C651.8,1612.5 653.2,1612.6 654.5,1612.6C655.8,1612.6 657.2,1612.6 658.5,1612.6C659.8,1612.6 661.2,1612.6 662.5,1612.6C663.8,1612.6 665.2,1612.6 666.5,1612.6C667.8,1612.6 669.2,1612.6 670.5,1612.6C671.8,1612.6 673.2,1612.6 674.5,1612.6C675.8,1612.6 677.2,1612.6 678.5,1612.6C679.8,1612.6 681.2,1612.6 682.5,1612.6C683.8,1612.7 685.2,1612.7 686.5,1612.7C687.8,1612.7 689.2,1612.7 690.5,1612.7C691.8,1612.7 693.2,1612.7 694.5,1612.7C695.8,1612.7 697.2,1612.7 698.5,1612.7C699.8,1612.7 701.2,1612.7 702.5,1612.7C703.8,1612.7 705.2,1612.7 706.5,1612.7C707.8,1612.7 709.2,1612.7 710.5,1612.7C711.8,1612.7 713.7,1612.7 714.5,1612.7C715.3,1612.7 715.3,1612.7 715.5,1612.7" fill="none" stroke="#ba5fc3" stroke-opacity="0.72" stroke-width="2.0" stroke-linejoin="round" stroke-linecap="round"/>
<path d="M4.1,1602.7C6.8,1601.5 14.2,1598.6 20.3,1595.3C26.4,1592.0 33.9,1586.1 40.7,1583.1C47.5,1580.0 54.2,1578.4 61.0,1577.0C67.8,1575.6 74.6,1576.0 81.4,1574.9C88.2,1573.8 96.1,1572.5 101.7,1570.2C107.3,1568.0 110.8,1565.1 115.3,1561.4C119.8,1557.7 124.3,1553.2 128.8,1547.8C133.3,1542.4 137.9,1535.6 142.4,1528.8C146.9,1522.0 151.2,1516.8 155.9,1507.1C160.6,1497.4 166.3,1481.0 170.8,1470.9C175.3,1460.8 179.0,1453.9 183.1,1446.3C187.2,1438.7 191.3,1432.1 195.4,1425.3C199.5,1418.5 203.6,1412.2 207.7,1405.6C211.8,1399.0 216.0,1392.1 220.1,1385.9C224.2,1379.8 228.3,1373.4 232.4,1368.7C236.5,1364.0 240.6,1360.9 244.7,1357.6C248.8,1354.3 252.9,1352.5 257.0,1349.0C261.1,1345.5 265.2,1341.6 269.3,1336.7C273.4,1331.8 278.1,1325.5 281.6,1319.4C285.1,1313.3 287.5,1306.6 290.4,1300.0C293.3,1293.4 296.3,1286.8 298.9,1280.0C301.5,1273.2 302.8,1268.9 306.0,1259.1C309.2,1249.2 314.4,1235.4 318.2,1220.9C322.0,1206.4 326.0,1185.6 328.6,1172.3C331.2,1159.0 331.8,1151.1 333.8,1141.0C335.8,1130.9 338.2,1120.8 340.8,1111.5C343.4,1102.2 347.2,1092.9 349.4,1085.5C351.6,1078.1 352.7,1072.8 354.1,1067.0C355.6,1061.2 356.8,1055.1 358.1,1050.7C359.5,1046.3 360.8,1043.6 362.2,1040.5C363.6,1037.4 364.9,1034.5 366.3,1032.0C367.7,1029.5 369.0,1027.3 370.3,1025.5C371.6,1023.7 372.9,1022.4 374.4,1021.4C375.9,1020.4 377.6,1019.5 379.3,1019.4C381.0,1019.3 383.1,1020.0 384.6,1021.0C386.2,1022.0 387.2,1023.1 388.6,1025.1C390.0,1027.1 391.3,1029.5 392.7,1032.8C394.1,1036.0 395.4,1040.9 396.8,1044.6C398.2,1048.3 399.7,1051.1 400.9,1054.8C402.1,1058.5 402.6,1061.9 404.1,1067.0C405.7,1072.1 407.7,1075.2 410.2,1085.5C412.7,1095.8 416.0,1113.0 418.9,1128.9C421.8,1144.8 424.7,1163.7 427.6,1181.0C430.5,1198.3 433.3,1216.0 436.3,1233.0C439.3,1250.0 443.3,1266.8 445.5,1283.0C447.7,1299.2 447.8,1315.7 449.6,1330.3C451.4,1344.9 454.1,1358.3 456.3,1370.6C458.5,1382.9 460.8,1394.1 463.0,1404.2C465.2,1414.3 467.5,1422.0 469.7,1431.0C471.9,1440.0 473.9,1448.9 476.4,1457.9C478.9,1466.9 481.6,1475.8 484.5,1484.8C487.4,1493.8 491.2,1504.4 493.9,1511.7C496.6,1519.0 497.5,1521.6 500.6,1528.6C503.7,1535.6 507.8,1545.5 512.5,1553.7C517.2,1562.0 523.4,1571.6 528.8,1578.1C534.2,1584.6 538.3,1588.8 545.1,1592.7C551.9,1596.6 561.4,1599.6 569.5,1601.7C577.6,1603.8 584.4,1604.5 593.9,1605.4C603.4,1606.4 615.5,1606.7 626.4,1607.4C637.2,1608.1 644.1,1609.0 659.0,1609.5C673.9,1610.0 706.1,1610.4 715.5,1610.6" fill="none" stroke="#ff6262" stroke-opacity="0.72" stroke-width="2.0" stroke-linejoin="round" stroke-linecap="round"/>
<path d="M4.1,1593.9C5.9,1594.7 11.5,1599.7 14.9,1598.6C18.3,1597.5 20.9,1590.7 24.4,1587.1C27.9,1583.5 32.3,1577.7 35.9,1577.0C39.5,1576.3 41.8,1580.7 46.1,1583.1C50.4,1585.5 57.6,1591.7 61.7,1591.2C65.8,1590.7 67.5,1583.8 70.5,1580.3C73.5,1576.8 77.3,1570.9 80.0,1570.2C82.7,1569.5 84.3,1573.5 86.8,1576.3C89.3,1579.1 91.7,1586.0 94.9,1587.1C98.1,1588.2 102.4,1585.6 105.8,1583.1C109.2,1580.6 112.8,1576.3 115.3,1572.2C117.8,1568.1 119.1,1562.2 120.7,1558.6C122.3,1555.0 122.2,1553.4 124.7,1550.5C127.2,1547.6 132.0,1545.8 135.6,1541.0C139.2,1536.2 143.9,1526.5 146.4,1522.0C148.9,1517.5 149.3,1517.6 150.5,1513.9C151.7,1510.2 152.2,1506.1 153.5,1500.0C154.8,1493.9 156.7,1484.0 158.5,1477.1C160.3,1470.2 162.5,1463.3 164.6,1458.6C166.7,1453.9 167.9,1452.2 170.8,1448.7C173.7,1445.2 179.2,1441.4 181.9,1437.7C184.6,1434.0 185.2,1430.7 186.8,1426.6C188.4,1422.5 189.8,1416.1 191.7,1413.0C193.5,1409.9 195.8,1409.9 197.9,1408.1C200.0,1406.2 202.2,1404.8 204.0,1401.9C205.8,1399.0 207.3,1394.2 209.0,1390.9C210.7,1387.6 211.4,1385.3 213.9,1382.2C216.4,1379.1 221.3,1375.5 223.8,1372.4C226.3,1369.3 226.6,1366.8 228.7,1363.8C230.8,1360.8 233.4,1355.5 236.1,1354.5C238.8,1353.5 241.8,1356.3 244.7,1357.6C247.6,1358.9 249.8,1360.0 253.3,1362.5C256.8,1365.0 262.3,1372.0 265.6,1372.4C268.9,1372.8 270.7,1368.5 273.0,1365.0C275.3,1361.5 277.1,1356.3 279.2,1351.4C281.2,1346.5 283.2,1340.7 285.3,1335.4C287.4,1330.1 289.3,1325.8 291.5,1319.4C293.7,1313.0 295.5,1307.0 298.5,1297.0C301.5,1287.0 306.2,1271.2 309.5,1259.1C312.8,1247.0 315.0,1238.9 318.2,1224.4C321.4,1209.9 325.1,1189.7 328.6,1172.3C332.1,1154.9 334.8,1137.8 339.0,1120.2C343.2,1102.7 350.9,1078.6 354.1,1067.0C357.3,1055.4 356.4,1056.4 358.1,1050.7C359.8,1045.0 362.5,1036.7 364.2,1032.8C365.9,1028.9 366.9,1028.9 368.3,1027.1C369.7,1025.3 371.0,1023.5 372.4,1022.2C373.8,1020.9 374.7,1020.0 376.4,1019.4C378.1,1018.8 380.7,1018.8 382.5,1018.7C384.3,1018.6 385.7,1017.9 387.4,1019.0C389.1,1020.1 391.1,1023.2 392.7,1025.5C394.3,1027.8 395.4,1029.6 396.8,1032.8C398.2,1036.0 399.7,1040.6 400.9,1044.6C402.1,1048.6 403.1,1053.1 404.1,1056.8C405.1,1060.5 405.1,1059.3 407.0,1067.0C408.9,1074.7 412.5,1088.1 415.4,1102.8C418.2,1117.5 421.5,1139.0 424.1,1154.9C426.7,1170.8 428.4,1182.4 431.0,1198.3C433.6,1214.2 437.1,1235.1 439.7,1250.4C442.3,1265.7 444.4,1277.8 446.9,1290.0C449.4,1302.2 452.7,1313.5 454.9,1323.6C457.1,1333.7 458.5,1340.4 460.3,1350.5C462.1,1360.6 464.1,1373.9 465.7,1384.0C467.3,1394.1 467.9,1401.9 469.7,1410.9C471.5,1419.9 473.5,1428.8 476.4,1437.8C479.3,1446.8 484.3,1456.8 487.2,1464.6C490.1,1472.4 491.9,1478.6 493.9,1484.8C495.9,1491.0 497.0,1495.0 499.0,1502.0C501.0,1509.0 503.8,1521.1 506.0,1527.0C508.2,1532.9 509.5,1530.5 512.5,1537.4C515.5,1544.3 520.6,1561.8 523.9,1568.3C527.2,1574.8 529.6,1573.5 532.1,1576.5C534.6,1579.5 535.9,1583.0 538.6,1586.2C541.3,1589.5 545.0,1593.3 548.3,1596.0C551.5,1598.7 555.1,1600.1 558.1,1602.5C561.1,1604.9 563.5,1610.3 566.2,1610.6C568.9,1610.9 571.1,1606.3 574.4,1604.1C577.7,1601.9 582.5,1597.3 585.8,1597.6C589.0,1597.9 591.2,1602.3 593.9,1605.8C596.6,1609.3 599.6,1616.4 602.0,1618.8C604.4,1621.2 605.8,1621.0 608.5,1620.4C611.2,1619.9 615.3,1618.2 618.3,1615.5C621.3,1612.8 624.2,1606.3 626.4,1604.1C628.6,1601.9 629.1,1602.0 631.3,1602.5C633.5,1603.0 636.7,1605.8 639.4,1607.4C642.1,1609.0 645.1,1611.1 647.6,1612.3C650.1,1613.5 651.7,1615.0 654.1,1614.7C656.5,1614.4 659.2,1611.1 662.2,1610.6C665.2,1610.1 668.7,1611.8 672.0,1611.9C675.3,1612.1 679.1,1610.9 681.8,1611.5C684.5,1612.1 685.9,1613.6 688.3,1615.5C690.7,1617.4 693.4,1622.1 696.4,1622.8C699.4,1623.5 703.0,1619.2 706.2,1619.6C709.4,1620.0 714.0,1624.3 715.5,1625.3" fill="none" stroke="#6a6aff" stroke-opacity="0.72" stroke-width="2.2" stroke-linejoin="round" stroke-linecap="round"/>
<text x="39.9" y="1535.6" font-family="Liberation Sans" font-size="32.3" fill="#000">Q2</text>
<text x="195.8" y="1311.4" font-family="Liberation Sans" font-size="32.7" fill="#000">Q3</text>
<text x="294.1" y="1027.3" font-family="Liberation Sans" font-size="31.4" fill="#000">Q4</text>
<path d="M757.4,1609.5C758.1,1609.4 760.1,1609.1 761.4,1608.9C762.7,1608.8 764.1,1608.5 765.4,1608.3C766.7,1608.1 768.1,1607.8 769.4,1607.6C770.7,1607.3 772.1,1607.0 773.4,1606.7C774.7,1606.4 776.1,1606.0 777.4,1605.6C778.7,1605.2 780.1,1604.8 781.4,1604.4C782.7,1603.9 783.9,1603.5 785.2,1603.0C786.5,1602.5 787.7,1602.0 789.0,1601.4C790.3,1600.8 791.6,1600.2 792.8,1599.6C794.0,1599.0 795.2,1598.4 796.4,1597.7C797.6,1597.0 798.8,1596.3 800.0,1595.6C801.2,1594.8 802.3,1594.1 803.4,1593.3C804.5,1592.6 805.7,1591.7 806.8,1590.9C807.9,1590.1 808.9,1589.3 810.0,1588.5C811.1,1587.6 812.1,1586.8 813.2,1585.9C814.3,1585.0 815.4,1584.0 816.4,1583.1C817.4,1582.2 818.4,1581.3 819.4,1580.4C820.4,1579.5 821.4,1578.6 822.4,1577.6C823.4,1576.7 824.4,1575.7 825.4,1574.7C826.4,1573.8 827.4,1572.8 828.4,1571.8C829.4,1570.8 830.4,1569.8 831.4,1568.8C832.4,1567.8 833.4,1566.8 834.4,1565.8C835.4,1564.8 836.4,1563.8 837.4,1562.9C838.4,1561.9 839.4,1560.9 840.4,1560.0C841.4,1559.0 842.4,1558.1 843.4,1557.2C844.4,1556.3 845.5,1555.3 846.6,1554.4C847.7,1553.5 848.7,1552.7 849.8,1551.8C850.9,1551.0 852.0,1550.1 853.2,1549.4C854.4,1548.6 855.6,1547.8 856.8,1547.2C858.0,1546.5 859.3,1545.9 860.6,1545.4C861.9,1544.8 863.3,1544.4 864.6,1544.1C865.9,1543.8 867.3,1543.6 868.6,1543.5C869.9,1543.5 871.3,1543.5 872.6,1543.7C873.9,1543.9 875.3,1544.2 876.6,1544.6C877.9,1545.0 879.2,1545.5 880.4,1546.1C881.6,1546.7 882.8,1547.3 884.0,1548.0C885.2,1548.7 886.3,1549.5 887.4,1550.3C888.5,1551.0 889.5,1551.8 890.6,1552.7C891.7,1553.5 892.8,1554.5 893.8,1555.4C894.8,1556.2 895.8,1557.1 896.8,1558.0C897.8,1559.0 898.8,1559.9 899.8,1560.9C900.8,1561.8 901.8,1562.8 902.8,1563.8C903.8,1564.7 904.8,1565.7 905.8,1566.7C906.8,1567.7 907.8,1568.7 908.8,1569.7C909.8,1570.7 910.8,1571.7 911.8,1572.7C912.8,1573.7 913.8,1574.7 914.8,1575.6C915.8,1576.6 916.8,1577.6 917.8,1578.5C918.8,1579.4 919.8,1580.4 920.8,1581.3C921.8,1582.2 922.8,1583.1 923.8,1584.0C924.8,1584.9 925.9,1585.8 927.0,1586.7C928.1,1587.6 929.1,1588.4 930.2,1589.2C931.3,1590.1 932.3,1590.9 933.4,1591.7C934.5,1592.4 935.7,1593.3 936.8,1594.0C937.9,1594.8 939.0,1595.5 940.2,1596.2C941.4,1596.9 942.6,1597.6 943.8,1598.3C945.0,1598.9 946.2,1599.6 947.4,1600.2C948.6,1600.8 949.9,1601.4 951.2,1601.9C952.5,1602.5 953.7,1603.0 955.0,1603.5C956.3,1603.9 957.5,1604.4 958.8,1604.8C960.1,1605.2 961.5,1605.6 962.8,1606.0C964.1,1606.4 965.5,1606.7 966.8,1607.0C968.1,1607.3 969.5,1607.6 970.8,1607.9C972.1,1608.2 973.5,1608.4 974.8,1608.6C976.1,1608.8 977.5,1609.0 978.8,1609.2C980.1,1609.4 981.5,1609.6 982.8,1609.7C984.1,1609.9 985.5,1610.0 986.8,1610.1C988.1,1610.3 989.5,1610.4 990.8,1610.5C992.1,1610.6 993.5,1610.7 994.8,1610.8C996.1,1610.9 997.5,1610.9 998.8,1611.0C1000.1,1611.1 1001.5,1611.2 1002.8,1611.2C1004.1,1611.3 1005.5,1611.3 1006.8,1611.4C1008.1,1611.4 1009.5,1611.5 1010.8,1611.5C1012.1,1611.6 1013.5,1611.6 1014.8,1611.6C1016.1,1611.7 1017.5,1611.7 1018.8,1611.7C1020.1,1611.8 1021.5,1611.8 1022.8,1611.8C1024.1,1611.9 1025.5,1611.9 1026.8,1611.9C1028.1,1611.9 1029.5,1612.0 1030.8,1612.0C1032.1,1612.0 1033.5,1612.0 1034.8,1612.1C1036.1,1612.1 1037.5,1612.1 1038.8,1612.1C1040.1,1612.1 1041.5,1612.2 1042.8,1612.2C1044.1,1612.2 1045.5,1612.2 1046.8,1612.2C1048.1,1612.2 1049.5,1612.3 1050.8,1612.3C1052.1,1612.3 1053.5,1612.3 1054.8,1612.3C1056.1,1612.3 1057.5,1612.3 1058.8,1612.4C1060.1,1612.4 1061.5,1612.4 1062.8,1612.4C1064.1,1612.4 1065.5,1612.4 1066.8,1612.4C1068.1,1612.4 1069.5,1612.5 1070.8,1612.5C1072.1,1612.5 1073.5,1612.5 1074.8,1612.5C1076.1,1612.5 1077.5,1612.5 1078.8,1612.5C1080.1,1612.5 1081.5,1612.6 1082.8,1612.6C1084.1,1612.6 1085.5,1612.6 1086.8,1612.6C1088.1,1612.6 1089.5,1612.6 1090.8,1612.6C1092.1,1612.6 1093.5,1612.6 1094.8,1612.6C1096.1,1612.7 1097.5,1612.7 1098.8,1612.7C1100.1,1612.7 1101.5,1612.7 1102.8,1612.7C1104.1,1612.7 1105.5,1612.7 1106.8,1612.7C1108.1,1612.7 1109.5,1612.7 1110.8,1612.7C1112.1,1612.7 1113.5,1612.8 1114.8,1612.8C1116.1,1612.8 1117.5,1612.8 1118.8,1612.8C1120.1,1612.8 1121.5,1612.8 1122.8,1612.8C1124.1,1612.8 1125.5,1612.8 1126.8,1612.8C1128.1,1612.8 1129.5,1612.8 1130.8,1612.8C1132.1,1612.8 1133.5,1612.8 1134.8,1612.9C1136.1,1612.9 1137.5,1612.9 1138.8,1612.9C1140.1,1612.9 1141.5,1612.9 1142.8,1612.9C1144.1,1612.9 1145.5,1612.9 1146.8,1612.9C1148.1,1612.9 1149.5,1612.9 1150.8,1612.9C1152.1,1612.9 1153.5,1612.9 1154.8,1612.9C1156.1,1612.9 1157.5,1612.9 1158.8,1612.9C1160.1,1613.0 1161.5,1613.0 1162.8,1613.0C1164.1,1613.0 1165.5,1613.0 1166.8,1613.0C1168.1,1613.0 1169.5,1613.0 1170.8,1613.0C1172.1,1613.0 1173.5,1613.0 1174.8,1613.0C1176.1,1613.0 1177.5,1613.0 1178.8,1613.0C1180.1,1613.0 1181.5,1613.0 1182.8,1613.0C1184.1,1613.0 1185.5,1613.0 1186.8,1613.0C1188.1,1613.0 1189.5,1613.0 1190.8,1613.0C1192.1,1613.1 1193.5,1613.1 1194.8,1613.1C1196.1,1613.1 1197.5,1613.1 1198.8,1613.1C1200.1,1613.1 1201.5,1613.1 1202.8,1613.1C1204.1,1613.1 1205.5,1613.1 1206.8,1613.1C1208.1,1613.1 1209.5,1613.1 1210.8,1613.1C1212.1,1613.1 1213.5,1613.1 1214.8,1613.1C1216.1,1613.1 1217.5,1613.1 1218.8,1613.1C1220.1,1613.1 1221.5,1613.1 1222.8,1613.1C1224.1,1613.1 1225.5,1613.1 1226.8,1613.1C1228.1,1613.1 1229.5,1613.1 1230.8,1613.1C1232.1,1613.1 1233.5,1613.2 1234.8,1613.2C1236.1,1613.2 1237.5,1613.2 1238.8,1613.2C1240.1,1613.2 1241.5,1613.2 1242.8,1613.2C1244.1,1613.2 1245.5,1613.2 1246.8,1613.2C1248.1,1613.2 1249.5,1613.2 1250.8,1613.2C1252.1,1613.2 1253.5,1613.2 1254.8,1613.2C1256.1,1613.2 1257.5,1613.2 1258.8,1613.2C1260.1,1613.2 1261.5,1613.2 1262.8,1613.2C1264.1,1613.2 1265.5,1613.2 1266.8,1613.2C1268.1,1613.2 1269.5,1613.2 1270.8,1613.2C1272.1,1613.2 1273.5,1613.2 1274.8,1613.2C1276.1,1613.2 1277.5,1613.2 1278.8,1613.2C1280.1,1613.2 1281.5,1613.2 1282.8,1613.2C1284.1,1613.2 1285.5,1613.3 1286.8,1613.3C1288.1,1613.3 1289.5,1613.3 1290.8,1613.3C1292.1,1613.3 1293.5,1613.3 1294.8,1613.3C1296.1,1613.3 1297.5,1613.3 1298.8,1613.3C1300.1,1613.3 1301.5,1613.3 1302.8,1613.3C1304.1,1613.3 1305.5,1613.3 1306.8,1613.3C1308.1,1613.3 1309.5,1613.3 1310.8,1613.3C1312.1,1613.3 1313.5,1613.3 1314.8,1613.3C1316.1,1613.3 1317.5,1613.3 1318.8,1613.3C1320.1,1613.3 1321.5,1613.3 1322.8,1613.3C1324.1,1613.3 1325.5,1613.3 1326.8,1613.3C1328.1,1613.3 1329.5,1613.3 1330.8,1613.3C1332.1,1613.3 1333.5,1613.3 1334.8,1613.3C1336.1,1613.3 1337.5,1613.3 1338.8,1613.3C1340.1,1613.3 1341.5,1613.3 1342.8,1613.3C1344.1,1613.3 1345.5,1613.3 1346.8,1613.3C1348.1,1613.3 1349.5,1613.3 1350.8,1613.4C1352.1,1613.4 1353.5,1613.4 1354.8,1613.4C1356.1,1613.4 1357.5,1613.4 1358.8,1613.4C1360.1,1613.4 1361.5,1613.4 1362.8,1613.4C1364.1,1613.4 1365.5,1613.4 1366.8,1613.4C1368.1,1613.4 1369.5,1613.4 1370.8,1613.4C1372.1,1613.4 1373.5,1613.4 1374.8,1613.4C1376.1,1613.4 1377.5,1613.4 1378.8,1613.4C1380.1,1613.4 1381.5,1613.4 1382.8,1613.4C1384.1,1613.4 1385.5,1613.4 1386.8,1613.4C1388.1,1613.4 1389.5,1613.4 1390.8,1613.4C1392.1,1613.4 1393.5,1613.4 1394.8,1613.4C1396.1,1613.4 1397.5,1613.4 1398.8,1613.4C1400.1,1613.4 1401.5,1613.4 1402.8,1613.4C1404.1,1613.4 1405.5,1613.4 1406.8,1613.4C1408.1,1613.4 1409.5,1613.4 1410.8,1613.4C1412.1,1613.4 1413.5,1613.4 1414.8,1613.4C1416.1,1613.4 1417.5,1613.4 1418.8,1613.4C1420.1,1613.4 1421.5,1613.4 1422.8,1613.4C1424.1,1613.4 1425.5,1613.4 1426.8,1613.4C1428.1,1613.4 1429.5,1613.4 1430.8,1613.5C1432.1,1613.5 1433.5,1613.5 1434.8,1613.5C1436.1,1613.5 1437.5,1613.5 1438.8,1613.5C1440.1,1613.5 1441.5,1613.5 1442.8,1613.5C1444.1,1613.5 1445.5,1613.5 1446.8,1613.5C1448.1,1613.5 1449.5,1613.5 1450.8,1613.5C1452.1,1613.5 1453.5,1613.5 1454.8,1613.5C1456.1,1613.5 1457.5,1613.5 1458.8,1613.5C1460.1,1613.5 1461.5,1613.5 1462.8,1613.5C1464.1,1613.5 1465.5,1613.5 1466.8,1613.5C1468.1,1613.5 1469.8,1613.5 1470.4,1613.5" fill="none" stroke="#58b358" stroke-opacity="0.72" stroke-width="2.0" stroke-linejoin="round" stroke-linecap="round"/>
<path d="M757.4,1611.3C758.1,1611.3 760.1,1611.3 761.4,1611.3C762.7,1611.3 764.1,1611.3 765.4,1611.3C766.7,1611.3 768.1,1611.3 769.4,1611.2C770.7,1611.2 772.1,1611.2 773.4,1611.2C774.7,1611.2 776.1,1611.2 777.4,1611.2C778.7,1611.2 780.1,1611.1 781.4,1611.1C782.7,1611.1 784.1,1611.1 785.4,1611.1C786.7,1611.1 788.1,1611.1 789.4,1611.1C790.7,1611.0 792.1,1611.0 793.4,1611.0C794.7,1611.0 796.1,1611.0 797.4,1611.0C798.7,1611.0 800.1,1610.9 801.4,1610.9C802.7,1610.9 804.1,1610.9 805.4,1610.9C806.7,1610.9 808.1,1610.8 809.4,1610.8C810.7,1610.8 812.1,1610.8 813.4,1610.8C814.7,1610.8 816.1,1610.7 817.4,1610.7C818.7,1610.7 820.1,1610.7 821.4,1610.7C822.7,1610.6 824.1,1610.6 825.4,1610.6C826.7,1610.6 828.1,1610.6 829.4,1610.5C830.7,1610.5 832.1,1610.5 833.4,1610.5C834.7,1610.5 836.1,1610.4 837.4,1610.4C838.7,1610.4 840.1,1610.4 841.4,1610.4C842.7,1610.3 844.1,1610.3 845.4,1610.3C846.7,1610.3 848.1,1610.2 849.4,1610.2C850.7,1610.2 852.1,1610.2 853.4,1610.1C854.7,1610.1 856.1,1610.1 857.4,1610.1C858.7,1610.0 860.1,1610.0 861.4,1610.0C862.7,1609.9 864.1,1609.9 865.4,1609.9C866.7,1609.9 868.1,1609.8 869.4,1609.8C870.7,1609.8 872.1,1609.7 873.4,1609.7C874.7,1609.7 876.1,1609.6 877.4,1609.6C878.7,1609.6 880.1,1609.5 881.4,1609.5C882.7,1609.5 884.1,1609.4 885.4,1609.4C886.7,1609.4 888.1,1609.3 889.4,1609.3C890.7,1609.2 892.1,1609.2 893.4,1609.2C894.7,1609.1 896.1,1609.1 897.4,1609.0C898.7,1609.0 900.1,1609.0 901.4,1608.9C902.7,1608.9 904.1,1608.8 905.4,1608.8C906.7,1608.7 908.1,1608.7 909.4,1608.6C910.7,1608.6 912.1,1608.5 913.4,1608.5C914.7,1608.4 916.1,1608.4 917.4,1608.3C918.7,1608.3 920.1,1608.2 921.4,1608.1C922.7,1608.1 924.1,1608.0 925.4,1608.0C926.7,1607.9 928.1,1607.8 929.4,1607.8C930.7,1607.7 932.1,1607.6 933.4,1607.6C934.7,1607.5 936.1,1607.4 937.4,1607.3C938.7,1607.3 940.1,1607.2 941.4,1607.1C942.7,1607.0 944.1,1606.9 945.4,1606.8C946.7,1606.7 948.1,1606.6 949.4,1606.5C950.7,1606.4 952.1,1606.3 953.4,1606.2C954.7,1606.1 956.1,1606.0 957.4,1605.8C958.7,1605.7 960.1,1605.6 961.4,1605.4C962.7,1605.3 964.1,1605.1 965.4,1605.0C966.7,1604.8 968.1,1604.6 969.4,1604.5C970.7,1604.3 972.1,1604.1 973.4,1603.9C974.7,1603.6 976.1,1603.4 977.4,1603.2C978.7,1602.9 980.1,1602.7 981.4,1602.4C982.7,1602.1 984.1,1601.8 985.4,1601.4C986.7,1601.1 988.1,1600.8 989.4,1600.4C990.7,1600.0 992.1,1599.6 993.4,1599.1C994.7,1598.7 995.9,1598.2 997.2,1597.7C998.5,1597.2 999.7,1596.7 1001.0,1596.1C1002.3,1595.6 1003.6,1594.9 1004.8,1594.3C1006.0,1593.6 1007.2,1593.0 1008.4,1592.3C1009.6,1591.6 1010.7,1590.9 1011.8,1590.1C1012.9,1589.4 1014.1,1588.5 1015.2,1587.7C1016.3,1586.8 1017.4,1586.0 1018.4,1585.1C1019.4,1584.2 1020.4,1583.4 1021.4,1582.4C1022.4,1581.5 1023.4,1580.4 1024.4,1579.4C1025.4,1578.4 1026.3,1577.4 1027.2,1576.4C1028.1,1575.3 1028.9,1574.3 1029.8,1573.3C1030.7,1572.2 1031.6,1571.0 1032.4,1569.9C1033.2,1568.8 1034.0,1567.7 1034.8,1566.6C1035.6,1565.4 1036.4,1564.1 1037.2,1563.0C1038.0,1561.8 1038.7,1560.7 1039.4,1559.4C1040.1,1558.2 1040.9,1556.9 1041.6,1555.7C1042.3,1554.5 1042.9,1553.3 1043.6,1552.1C1044.3,1550.9 1045.0,1549.6 1045.6,1548.3C1046.2,1547.1 1046.8,1546.0 1047.4,1544.7C1048.0,1543.5 1048.6,1542.3 1049.2,1541.0C1049.8,1539.7 1050.4,1538.4 1051.0,1537.1C1051.6,1535.8 1052.2,1534.3 1052.8,1533.0C1053.4,1531.7 1053.9,1530.6 1054.4,1529.3C1054.9,1528.0 1055.5,1526.7 1056.0,1525.4C1056.5,1524.1 1057.1,1522.7 1057.6,1521.4C1058.1,1520.0 1058.7,1518.6 1059.2,1517.2C1059.7,1515.8 1060.3,1514.3 1060.8,1512.9C1061.3,1511.6 1061.7,1510.4 1062.2,1509.1C1062.7,1507.8 1063.1,1506.5 1063.6,1505.1C1064.1,1503.8 1064.5,1502.4 1065.0,1501.1C1065.5,1499.7 1065.9,1498.3 1066.4,1496.9C1066.9,1495.5 1067.3,1494.1 1067.8,1492.7C1068.3,1491.2 1068.7,1489.8 1069.2,1488.3C1069.7,1486.9 1070.2,1485.3 1070.6,1483.9C1071.0,1482.5 1071.4,1481.4 1071.8,1480.1C1072.2,1478.8 1072.6,1477.4 1073.0,1476.1C1073.4,1474.8 1073.8,1473.5 1074.2,1472.1C1074.6,1470.8 1075.0,1469.5 1075.4,1468.1C1075.8,1466.7 1076.2,1465.4 1076.6,1464.0C1077.0,1462.6 1077.4,1461.2 1077.8,1459.8C1078.2,1458.4 1078.6,1457.0 1079.0,1455.6C1079.4,1454.2 1079.8,1452.8 1080.2,1451.4C1080.6,1450.0 1081.0,1448.5 1081.4,1447.1C1081.8,1445.6 1082.2,1444.2 1082.6,1442.7C1083.0,1441.3 1083.4,1439.8 1083.8,1438.4C1084.2,1436.9 1084.6,1435.4 1085.0,1433.9C1085.4,1432.5 1085.8,1431.0 1086.2,1429.5C1086.6,1428.0 1087.0,1426.5 1087.4,1425.0C1087.8,1423.5 1088.2,1422.0 1088.6,1420.5C1089.0,1419.0 1089.4,1417.5 1089.8,1416.0C1090.2,1414.5 1090.6,1413.0 1091.0,1411.4C1091.4,1409.9 1091.8,1408.4 1092.2,1406.9C1092.6,1405.4 1093.0,1403.9 1093.4,1402.3C1093.8,1400.8 1094.2,1399.3 1094.6,1397.8C1095.0,1396.3 1095.4,1394.7 1095.8,1393.2C1096.2,1391.7 1096.6,1390.2 1097.0,1388.7C1097.4,1387.2 1097.8,1385.6 1098.2,1384.1C1098.6,1382.6 1099.0,1381.1 1099.4,1379.6C1099.8,1378.1 1100.2,1376.6 1100.6,1375.1C1101.0,1373.6 1101.4,1372.2 1101.8,1370.7C1102.2,1369.2 1102.6,1367.7 1103.0,1366.2C1103.4,1364.8 1103.8,1363.3 1104.2,1361.9C1104.6,1360.4 1105.0,1359.0 1105.4,1357.5C1105.8,1356.1 1106.2,1354.7 1106.6,1353.2C1107.0,1351.8 1107.4,1350.4 1107.8,1349.0C1108.2,1347.6 1108.6,1346.2 1109.0,1344.9C1109.4,1343.5 1109.8,1342.1 1110.2,1340.8C1110.6,1339.4 1111.0,1338.1 1111.4,1336.8C1111.8,1335.4 1112.2,1334.1 1112.6,1332.9C1113.0,1331.6 1113.4,1330.4 1113.8,1329.0C1114.2,1327.7 1114.7,1326.1 1115.2,1324.7C1115.7,1323.3 1116.1,1321.9 1116.6,1320.5C1117.1,1319.1 1117.5,1317.8 1118.0,1316.5C1118.5,1315.1 1118.9,1313.9 1119.4,1312.6C1119.9,1311.2 1120.5,1309.7 1121.0,1308.4C1121.5,1307.0 1122.1,1305.7 1122.6,1304.4C1123.1,1303.1 1123.6,1302.0 1124.2,1300.7C1124.8,1299.4 1125.4,1298.1 1126.0,1296.9C1126.6,1295.6 1127.3,1294.3 1128.0,1293.0C1128.7,1291.8 1129.4,1290.5 1130.2,1289.4C1131.0,1288.2 1131.7,1287.1 1132.6,1286.1C1133.5,1285.0 1134.4,1284.0 1135.4,1283.1C1136.4,1282.3 1137.6,1281.5 1138.8,1281.0C1140.0,1280.6 1141.5,1280.4 1142.8,1280.6C1144.1,1280.8 1145.5,1281.5 1146.6,1282.3C1147.7,1283.0 1148.7,1284.0 1149.6,1285.0C1150.5,1286.0 1151.4,1287.2 1152.2,1288.3C1153.0,1289.4 1153.7,1290.6 1154.4,1291.8C1155.1,1293.0 1155.8,1294.2 1156.4,1295.5C1157.0,1296.7 1157.6,1297.9 1158.2,1299.2C1158.8,1300.4 1159.4,1301.9 1160.0,1303.2C1160.6,1304.5 1161.1,1305.8 1161.6,1307.1C1162.1,1308.4 1162.7,1309.9 1163.2,1311.2C1163.7,1312.6 1164.1,1313.7 1164.6,1315.0C1165.1,1316.3 1165.5,1317.7 1166.0,1319.0C1166.5,1320.4 1166.9,1321.8 1167.4,1323.2C1167.9,1324.6 1168.3,1326.0 1168.8,1327.4C1169.3,1328.9 1169.8,1330.5 1170.2,1331.9C1170.6,1333.3 1171.0,1334.5 1171.4,1335.8C1171.8,1337.1 1172.2,1338.4 1172.6,1339.8C1173.0,1341.1 1173.4,1342.5 1173.8,1343.8C1174.2,1345.2 1174.6,1346.6 1175.0,1348.0C1175.4,1349.4 1175.8,1350.8 1176.2,1352.2C1176.6,1353.6 1177.0,1355.0 1177.4,1356.4C1177.8,1357.9 1178.2,1359.3 1178.6,1360.8C1179.0,1362.2 1179.4,1363.7 1179.8,1365.1C1180.2,1366.6 1180.6,1368.1 1181.0,1369.6C1181.4,1371.0 1181.8,1372.5 1182.2,1374.0C1182.6,1375.5 1183.0,1377.0 1183.4,1378.5C1183.8,1380.0 1184.2,1381.5 1184.6,1383.0C1185.0,1384.5 1185.4,1386.0 1185.8,1387.5C1186.2,1389.1 1186.6,1390.6 1187.0,1392.1C1187.4,1393.6 1187.8,1395.1 1188.2,1396.7C1188.6,1398.2 1189.0,1399.7 1189.4,1401.2C1189.8,1402.7 1190.2,1404.3 1190.6,1405.8C1191.0,1407.3 1191.4,1408.8 1191.8,1410.3C1192.2,1411.8 1192.6,1413.4 1193.0,1414.9C1193.4,1416.4 1193.8,1417.9 1194.2,1419.4C1194.6,1420.9 1195.0,1422.4 1195.4,1423.9C1195.8,1425.4 1196.2,1426.9 1196.6,1428.4C1197.0,1429.9 1197.4,1431.4 1197.8,1432.9C1198.2,1434.3 1198.6,1435.8 1199.0,1437.3C1199.4,1438.8 1199.8,1440.2 1200.2,1441.7C1200.6,1443.1 1201.0,1444.6 1201.4,1446.0C1201.8,1447.5 1202.2,1448.9 1202.6,1450.3C1203.0,1451.8 1203.4,1453.2 1203.8,1454.6C1204.2,1456.0 1204.6,1457.4 1205.0,1458.8C1205.4,1460.2 1205.8,1461.6 1206.2,1463.0C1206.6,1464.4 1207.0,1465.8 1207.4,1467.1C1207.8,1468.5 1208.2,1469.8 1208.6,1471.2C1209.0,1472.5 1209.4,1473.9 1209.8,1475.2C1210.2,1476.5 1210.6,1477.8 1211.0,1479.1C1211.4,1480.4 1211.8,1481.7 1212.2,1483.0C1212.6,1484.3 1213.0,1485.5 1213.4,1486.8C1213.8,1488.2 1214.3,1489.8 1214.8,1491.2C1215.3,1492.7 1215.7,1494.1 1216.2,1495.5C1216.7,1496.9 1217.1,1498.3 1217.6,1499.7C1218.1,1501.1 1218.5,1502.4 1219.0,1503.8C1219.5,1505.1 1219.9,1506.4 1220.4,1507.8C1220.9,1509.1 1221.3,1510.4 1221.8,1511.7C1222.3,1512.9 1222.7,1514.1 1223.2,1515.5C1223.7,1516.8 1224.3,1518.3 1224.8,1519.7C1225.3,1521.1 1225.9,1522.4 1226.4,1523.8C1226.9,1525.1 1227.5,1526.4 1228.0,1527.7C1228.5,1529.0 1229.1,1530.3 1229.6,1531.5C1230.1,1532.8 1230.6,1533.9 1231.2,1535.2C1231.8,1536.5 1232.4,1537.9 1233.0,1539.2C1233.6,1540.5 1234.2,1541.8 1234.8,1543.0C1235.4,1544.3 1236.0,1545.4 1236.6,1546.7C1237.2,1547.9 1237.9,1549.3 1238.6,1550.6C1239.3,1551.8 1239.9,1553.1 1240.6,1554.3C1241.3,1555.5 1241.9,1556.6 1242.6,1557.8C1243.3,1558.9 1244.1,1560.2 1244.8,1561.4C1245.5,1562.6 1246.2,1563.6 1247.0,1564.8C1247.8,1565.9 1248.6,1567.2 1249.4,1568.3C1250.2,1569.4 1251.0,1570.4 1251.8,1571.5C1252.6,1572.6 1253.5,1573.7 1254.4,1574.8C1255.3,1575.9 1256.3,1577.0 1257.2,1578.0C1258.1,1579.0 1259.0,1580.0 1260.0,1580.9C1261.0,1581.9 1262.0,1582.9 1263.0,1583.8C1264.0,1584.7 1265.1,1585.7 1266.2,1586.6C1267.3,1587.4 1268.3,1588.2 1269.4,1589.0C1270.5,1589.8 1271.6,1590.6 1272.8,1591.3C1274.0,1592.1 1275.2,1592.8 1276.4,1593.5C1277.6,1594.2 1278.8,1594.8 1280.0,1595.4C1281.2,1596.0 1282.5,1596.6 1283.8,1597.1C1285.1,1597.7 1286.3,1598.2 1287.6,1598.6C1288.9,1599.1 1290.1,1599.5 1291.4,1599.9C1292.7,1600.4 1294.1,1600.8 1295.4,1601.1C1296.7,1601.5 1298.1,1601.8 1299.4,1602.1C1300.7,1602.5 1302.1,1602.7 1303.4,1603.0C1304.7,1603.3 1306.1,1603.5 1307.4,1603.8C1308.7,1604.0 1310.1,1604.2 1311.4,1604.4C1312.7,1604.6 1314.1,1604.8 1315.4,1605.0C1316.7,1605.2 1318.1,1605.3 1319.4,1605.5C1320.7,1605.7 1322.1,1605.8 1323.4,1605.9C1324.7,1606.1 1326.1,1606.2 1327.4,1606.3C1328.7,1606.5 1330.1,1606.6 1331.4,1606.7C1332.7,1606.8 1334.1,1606.9 1335.4,1607.0C1336.7,1607.1 1338.1,1607.2 1339.4,1607.3C1340.7,1607.4 1342.1,1607.5 1343.4,1607.6C1344.7,1607.6 1346.1,1607.7 1347.4,1607.8C1348.7,1607.9 1350.1,1608.0 1351.4,1608.0C1352.7,1608.1 1354.1,1608.2 1355.4,1608.2C1356.7,1608.3 1358.1,1608.4 1359.4,1608.4C1360.7,1608.5 1362.1,1608.6 1363.4,1608.6C1364.7,1608.7 1366.1,1608.7 1367.4,1608.8C1368.7,1608.8 1370.1,1608.9 1371.4,1609.0C1372.7,1609.0 1374.1,1609.1 1375.4,1609.1C1376.7,1609.2 1378.1,1609.2 1379.4,1609.3C1380.7,1609.3 1382.1,1609.4 1383.4,1609.4C1384.7,1609.4 1386.1,1609.5 1387.4,1609.5C1388.7,1609.6 1390.1,1609.6 1391.4,1609.7C1392.7,1609.7 1394.1,1609.7 1395.4,1609.8C1396.7,1609.8 1398.1,1609.9 1399.4,1609.9C1400.7,1609.9 1402.1,1610.0 1403.4,1610.0C1404.7,1610.1 1406.1,1610.1 1407.4,1610.1C1408.7,1610.2 1410.1,1610.2 1411.4,1610.2C1412.7,1610.3 1414.1,1610.3 1415.4,1610.3C1416.7,1610.4 1418.1,1610.4 1419.4,1610.4C1420.7,1610.5 1422.1,1610.5 1423.4,1610.5C1424.7,1610.5 1426.1,1610.6 1427.4,1610.6C1428.7,1610.6 1430.1,1610.7 1431.4,1610.7C1432.7,1610.7 1434.1,1610.7 1435.4,1610.8C1436.7,1610.8 1438.1,1610.8 1439.4,1610.8C1440.7,1610.9 1442.1,1610.9 1443.4,1610.9C1444.7,1610.9 1446.1,1611.0 1447.4,1611.0C1448.7,1611.0 1450.1,1611.0 1451.4,1611.1C1452.7,1611.1 1454.1,1611.1 1455.4,1611.1C1456.7,1611.2 1458.1,1611.2 1459.4,1611.2C1460.7,1611.2 1462.1,1611.2 1463.4,1611.3C1464.7,1611.3 1466.2,1611.3 1467.4,1611.3C1468.6,1611.3 1469.9,1611.4 1470.4,1611.4" fill="none" stroke="#5fbbb8" stroke-opacity="0.72" stroke-width="2.0" stroke-linejoin="round" stroke-linecap="round"/>
<path d="M757.4,1607.1C758.1,1607.1 760.1,1607.1 761.4,1607.0C762.7,1607.0 764.1,1607.0 765.4,1606.9C766.7,1606.9 768.1,1606.9 769.4,1606.8C770.7,1606.8 772.1,1606.7 773.4,1606.7C774.7,1606.7 776.1,1606.6 777.4,1606.6C778.7,1606.6 780.1,1606.5 781.4,1606.5C782.7,1606.4 784.1,1606.4 785.4,1606.3C786.7,1606.3 788.1,1606.2 789.4,1606.2C790.7,1606.2 792.1,1606.1 793.4,1606.1C794.7,1606.0 796.1,1606.0 797.4,1605.9C798.7,1605.8 800.1,1605.8 801.4,1605.7C802.7,1605.7 804.1,1605.6 805.4,1605.6C806.7,1605.5 808.1,1605.4 809.4,1605.4C810.7,1605.3 812.1,1605.2 813.4,1605.2C814.7,1605.1 816.1,1605.0 817.4,1604.9C818.7,1604.9 820.1,1604.8 821.4,1604.7C822.7,1604.6 824.1,1604.5 825.4,1604.5C826.7,1604.4 828.1,1604.3 829.4,1604.2C830.7,1604.1 832.1,1604.0 833.4,1603.9C834.7,1603.7 836.1,1603.6 837.4,1603.5C838.7,1603.4 840.1,1603.3 841.4,1603.1C842.7,1603.0 844.1,1602.8 845.4,1602.6C846.7,1602.5 848.1,1602.3 849.4,1602.1C850.7,1601.9 852.1,1601.7 853.4,1601.5C854.7,1601.3 856.1,1601.0 857.4,1600.7C858.7,1600.5 860.1,1600.2 861.4,1599.8C862.7,1599.5 864.1,1599.2 865.4,1598.8C866.7,1598.4 868.1,1597.9 869.4,1597.4C870.7,1597.0 871.9,1596.5 873.2,1595.9C874.5,1595.4 875.8,1594.7 877.0,1594.1C878.2,1593.4 879.4,1592.7 880.6,1592.0C881.8,1591.2 882.9,1590.5 884.0,1589.6C885.1,1588.8 886.2,1587.9 887.2,1587.0C888.2,1586.1 889.2,1585.2 890.2,1584.2C891.2,1583.2 892.1,1582.2 893.0,1581.1C893.9,1580.1 894.8,1579.0 895.6,1577.9C896.4,1576.8 897.2,1575.7 898.0,1574.6C898.8,1573.5 899.5,1572.4 900.2,1571.2C900.9,1570.1 901.7,1568.8 902.4,1567.5C903.1,1566.3 903.8,1565.0 904.4,1563.8C905.0,1562.6 905.6,1561.5 906.2,1560.2C906.8,1559.0 907.4,1557.6 908.0,1556.3C908.6,1555.1 909.1,1553.9 909.6,1552.7C910.1,1551.4 910.7,1550.1 911.2,1548.7C911.7,1547.4 912.3,1545.9 912.8,1544.6C913.3,1543.2 913.7,1542.0 914.2,1540.7C914.7,1539.4 915.1,1538.0 915.6,1536.6C916.1,1535.2 916.6,1533.7 917.0,1532.3C917.4,1531.0 917.8,1529.8 918.2,1528.5C918.6,1527.2 919.0,1525.9 919.4,1524.5C919.8,1523.1 920.2,1521.7 920.6,1520.3C921.0,1518.9 921.4,1517.5 921.8,1516.0C922.2,1514.5 922.6,1512.9 923.0,1511.5C923.4,1510.1 923.7,1508.9 924.0,1507.6C924.3,1506.3 924.7,1504.9 925.0,1503.6C925.3,1502.2 925.7,1500.8 926.0,1499.4C926.3,1498.0 926.7,1496.6 927.0,1495.2C927.3,1493.7 927.7,1492.2 928.0,1490.8C928.3,1489.3 928.7,1487.8 929.0,1486.2C929.3,1484.7 929.7,1483.2 930.0,1481.6C930.3,1480.0 930.7,1478.4 931.0,1476.8C931.3,1475.2 931.7,1473.4 932.0,1471.9C932.3,1470.4 932.5,1469.2 932.8,1467.9C933.1,1466.5 933.3,1465.2 933.6,1463.8C933.9,1462.4 934.1,1461.0 934.4,1459.6C934.7,1458.2 934.9,1456.8 935.2,1455.3C935.5,1453.9 935.7,1452.5 936.0,1451.0C936.3,1449.5 936.5,1448.1 936.8,1446.6C937.1,1445.1 937.3,1443.6 937.6,1442.1C937.9,1440.5 938.1,1439.0 938.4,1437.5C938.7,1435.9 938.9,1434.4 939.2,1432.8C939.5,1431.2 939.7,1429.6 940.0,1428.0C940.3,1426.5 940.5,1424.8 940.8,1423.2C941.1,1421.6 941.3,1420.0 941.6,1418.3C941.9,1416.7 942.1,1415.0 942.4,1413.3C942.7,1411.7 942.9,1410.0 943.2,1408.3C943.5,1406.6 943.7,1404.9 944.0,1403.1C944.3,1401.4 944.5,1399.7 944.8,1397.9C945.1,1396.2 945.4,1394.2 945.6,1392.6C945.8,1391.1 946.0,1390.0 946.2,1388.6C946.4,1387.3 946.6,1386.0 946.8,1384.6C947.0,1383.2 947.2,1381.9 947.4,1380.5C947.6,1379.1 947.8,1377.8 948.0,1376.4C948.2,1375.0 948.4,1373.6 948.6,1372.2C948.8,1370.9 949.0,1369.5 949.2,1368.1C949.4,1366.7 949.6,1365.2 949.8,1363.8C950.0,1362.4 950.2,1361.0 950.4,1359.6C950.6,1358.1 950.8,1356.7 951.0,1355.3C951.2,1353.8 951.4,1352.4 951.6,1351.0C951.8,1349.5 952.0,1348.1 952.2,1346.6C952.4,1345.1 952.6,1343.7 952.8,1342.2C953.0,1340.8 953.2,1339.3 953.4,1337.8C953.6,1336.3 953.8,1334.9 954.0,1333.4C954.2,1331.9 954.4,1330.4 954.6,1328.9C954.8,1327.4 955.0,1325.9 955.2,1324.4C955.4,1322.9 955.6,1321.4 955.8,1319.9C956.0,1318.4 956.2,1316.9 956.4,1315.4C956.6,1313.9 956.8,1312.3 957.0,1310.8C957.2,1309.3 957.4,1307.8 957.6,1306.2C957.8,1304.7 958.0,1303.2 958.2,1301.7C958.4,1300.1 958.6,1298.6 958.8,1297.0C959.0,1295.5 959.2,1294.0 959.4,1292.4C959.6,1290.9 959.8,1289.3 960.0,1287.8C960.2,1286.2 960.4,1284.7 960.6,1283.1C960.8,1281.6 961.0,1280.0 961.2,1278.5C961.4,1276.9 961.6,1275.4 961.8,1273.8C962.0,1272.2 962.2,1270.7 962.4,1269.1C962.6,1267.6 962.8,1266.0 963.0,1264.4C963.2,1262.9 963.4,1261.3 963.6,1259.8C963.8,1258.2 964.0,1256.6 964.2,1255.1C964.4,1253.5 964.6,1251.9 964.8,1250.4C965.0,1248.8 965.2,1247.3 965.4,1245.7C965.6,1244.1 965.8,1242.6 966.0,1241.0C966.2,1239.5 966.4,1237.9 966.6,1236.3C966.8,1234.8 967.0,1233.2 967.2,1231.7C967.4,1230.1 967.6,1228.6 967.8,1227.0C968.0,1225.5 968.2,1223.9 968.4,1222.4C968.6,1220.8 968.8,1219.3 969.0,1217.7C969.2,1216.2 969.4,1214.6 969.6,1213.1C969.8,1211.6 970.0,1210.0 970.2,1208.5C970.4,1207.0 970.6,1205.4 970.8,1203.9C971.0,1202.4 971.2,1200.9 971.4,1199.3C971.6,1197.8 971.8,1196.3 972.0,1194.8C972.2,1193.3 972.4,1191.8 972.6,1190.3C972.8,1188.8 973.0,1187.3 973.2,1185.8C973.4,1184.3 973.6,1182.8 973.8,1181.3C974.0,1179.8 974.2,1178.4 974.4,1176.9C974.6,1175.4 974.8,1174.0 975.0,1172.5C975.2,1171.0 975.4,1169.6 975.6,1168.1C975.8,1166.7 976.0,1165.3 976.2,1163.8C976.4,1162.4 976.6,1161.0 976.8,1159.6C977.0,1158.1 977.2,1156.7 977.4,1155.3C977.6,1153.9 977.8,1152.5 978.0,1151.1C978.2,1149.7 978.4,1148.4 978.6,1147.0C978.8,1145.6 979.0,1144.2 979.2,1142.9C979.4,1141.5 979.6,1140.2 979.8,1138.8C980.0,1137.5 980.2,1136.4 980.4,1134.9C980.6,1133.3 980.9,1131.4 981.2,1129.6C981.5,1127.9 981.7,1126.2 982.0,1124.5C982.3,1122.8 982.5,1121.1 982.8,1119.5C983.1,1117.8 983.3,1116.2 983.6,1114.6C983.9,1113.0 984.1,1111.4 984.4,1109.8C984.7,1108.3 984.9,1106.7 985.2,1105.2C985.5,1103.7 985.7,1102.1 986.0,1100.7C986.3,1099.2 986.5,1097.7 986.8,1096.3C987.1,1094.9 987.3,1093.4 987.6,1092.1C987.9,1090.7 988.1,1089.3 988.4,1088.0C988.7,1086.6 988.9,1085.5 989.2,1084.0C989.5,1082.6 989.9,1080.9 990.2,1079.3C990.5,1077.8 990.9,1076.3 991.2,1074.9C991.5,1073.4 991.9,1072.1 992.2,1070.7C992.5,1069.4 992.8,1068.2 993.2,1066.8C993.6,1065.4 994.0,1063.8 994.4,1062.5C994.8,1061.1 995.2,1059.9 995.6,1058.6C996.0,1057.2 996.5,1055.9 997.0,1054.5C997.5,1053.2 998.0,1051.9 998.6,1050.7C999.2,1049.4 999.8,1048.1 1000.6,1047.0C1001.4,1045.9 1002.3,1044.5 1003.4,1044.0C1004.5,1043.5 1006.1,1043.5 1007.2,1044.0C1008.3,1044.5 1009.2,1045.9 1010.0,1047.1C1010.8,1048.2 1011.4,1049.5 1012.0,1050.8C1012.6,1052.0 1013.1,1053.3 1013.6,1054.7C1014.1,1056.0 1014.6,1057.4 1015.0,1058.7C1015.4,1060.0 1015.8,1061.2 1016.2,1062.6C1016.6,1064.0 1017.0,1065.6 1017.4,1067.0C1017.8,1068.3 1018.1,1069.5 1018.4,1070.9C1018.7,1072.2 1019.1,1073.6 1019.4,1075.1C1019.7,1076.5 1020.1,1078.0 1020.4,1079.5C1020.7,1081.1 1021.1,1082.8 1021.4,1084.2C1021.7,1085.7 1021.9,1086.8 1022.2,1088.2C1022.5,1089.5 1022.7,1090.9 1023.0,1092.3C1023.3,1093.7 1023.5,1095.1 1023.8,1096.5C1024.1,1098.0 1024.3,1099.4 1024.6,1100.9C1024.9,1102.4 1025.1,1103.9 1025.4,1105.4C1025.7,1107.0 1025.9,1108.5 1026.2,1110.1C1026.5,1111.7 1026.7,1113.3 1027.0,1114.9C1027.3,1116.5 1027.5,1118.1 1027.8,1119.8C1028.1,1121.4 1028.3,1123.1 1028.6,1124.8C1028.9,1126.5 1029.1,1128.2 1029.4,1129.9C1029.7,1131.7 1030.0,1133.6 1030.2,1135.2C1030.4,1136.7 1030.6,1137.8 1030.8,1139.2C1031.0,1140.5 1031.2,1141.8 1031.4,1143.2C1031.6,1144.6 1031.8,1145.9 1032.0,1147.3C1032.2,1148.7 1032.4,1150.1 1032.6,1151.5C1032.8,1152.8 1033.0,1154.2 1033.2,1155.6C1033.4,1157.1 1033.6,1158.5 1033.8,1159.9C1034.0,1161.3 1034.2,1162.7 1034.4,1164.2C1034.6,1165.6 1034.8,1167.0 1035.0,1168.5C1035.2,1169.9 1035.4,1171.4 1035.6,1172.9C1035.8,1174.3 1036.0,1175.8 1036.2,1177.3C1036.4,1178.7 1036.6,1180.2 1036.8,1181.7C1037.0,1183.2 1037.2,1184.7 1037.4,1186.2C1037.6,1187.6 1037.8,1189.1 1038.0,1190.6C1038.2,1192.2 1038.4,1193.7 1038.6,1195.2C1038.8,1196.7 1039.0,1198.2 1039.2,1199.7C1039.4,1201.2 1039.6,1202.8 1039.8,1204.3C1040.0,1205.8 1040.2,1207.3 1040.4,1208.9C1040.6,1210.4 1040.8,1211.9 1041.0,1213.5C1041.2,1215.0 1041.4,1216.6 1041.6,1218.1C1041.8,1219.7 1042.0,1221.2 1042.2,1222.8C1042.4,1224.3 1042.6,1225.9 1042.8,1227.4C1043.0,1229.0 1043.2,1230.5 1043.4,1232.1C1043.6,1233.6 1043.8,1235.2 1044.0,1236.8C1044.2,1238.3 1044.4,1239.9 1044.6,1241.4C1044.8,1243.0 1045.0,1244.6 1045.2,1246.1C1045.4,1247.7 1045.6,1249.2 1045.8,1250.8C1046.0,1252.4 1046.2,1253.9 1046.4,1255.5C1046.6,1257.1 1046.8,1258.6 1047.0,1260.2C1047.2,1261.8 1047.4,1263.3 1047.6,1264.9C1047.8,1266.4 1048.0,1268.0 1048.2,1269.6C1048.4,1271.1 1048.6,1272.7 1048.8,1274.2C1049.0,1275.8 1049.2,1277.4 1049.4,1278.9C1049.6,1280.5 1049.8,1282.0 1050.0,1283.6C1050.2,1285.1 1050.4,1286.7 1050.6,1288.2C1050.8,1289.8 1051.0,1291.3 1051.2,1292.9C1051.4,1294.4 1051.6,1296.0 1051.8,1297.5C1052.0,1299.0 1052.2,1300.6 1052.4,1302.1C1052.6,1303.6 1052.8,1305.2 1053.0,1306.7C1053.2,1308.2 1053.4,1309.8 1053.6,1311.3C1053.8,1312.8 1054.0,1314.3 1054.2,1315.8C1054.4,1317.4 1054.6,1318.9 1054.8,1320.4C1055.0,1321.9 1055.2,1323.4 1055.4,1324.9C1055.6,1326.4 1055.8,1327.9 1056.0,1329.4C1056.2,1330.9 1056.4,1332.4 1056.6,1333.9C1056.8,1335.3 1057.0,1336.8 1057.2,1338.3C1057.4,1339.8 1057.6,1341.2 1057.8,1342.7C1058.0,1344.2 1058.2,1345.6 1058.4,1347.1C1058.6,1348.5 1058.8,1350.0 1059.0,1351.4C1059.2,1352.9 1059.4,1354.3 1059.6,1355.8C1059.8,1357.2 1060.0,1358.6 1060.2,1360.1C1060.4,1361.5 1060.6,1362.9 1060.8,1364.3C1061.0,1365.7 1061.2,1367.1 1061.4,1368.5C1061.6,1369.9 1061.8,1371.3 1062.0,1372.7C1062.2,1374.1 1062.4,1375.5 1062.6,1376.9C1062.8,1378.3 1063.0,1379.6 1063.2,1381.0C1063.4,1382.4 1063.6,1383.7 1063.8,1385.1C1064.0,1386.5 1064.2,1387.8 1064.4,1389.1C1064.6,1390.5 1064.8,1391.8 1065.0,1393.1C1065.2,1394.5 1065.4,1395.6 1065.6,1397.1C1065.8,1398.6 1066.1,1400.6 1066.4,1402.3C1066.7,1404.1 1066.9,1405.8 1067.2,1407.5C1067.5,1409.2 1067.7,1410.9 1068.0,1412.6C1068.3,1414.3 1068.5,1415.9 1068.8,1417.6C1069.1,1419.2 1069.3,1420.9 1069.6,1422.5C1069.9,1424.1 1070.1,1425.8 1070.4,1427.4C1070.7,1429.0 1070.9,1430.6 1071.2,1432.1C1071.5,1433.7 1071.7,1435.3 1072.0,1436.8C1072.3,1438.4 1072.5,1439.9 1072.8,1441.4C1073.1,1443.0 1073.3,1444.5 1073.6,1446.0C1073.9,1447.5 1074.1,1449.0 1074.4,1450.4C1074.7,1451.9 1074.9,1453.4 1075.2,1454.8C1075.5,1456.2 1075.7,1457.7 1076.0,1459.1C1076.3,1460.5 1076.5,1461.9 1076.8,1463.3C1077.1,1464.7 1077.3,1466.1 1077.6,1467.4C1077.9,1468.8 1078.1,1470.1 1078.4,1471.5C1078.7,1472.8 1078.9,1473.9 1079.2,1475.4C1079.5,1476.9 1079.9,1478.7 1080.2,1480.2C1080.5,1481.8 1080.9,1483.4 1081.2,1484.9C1081.5,1486.5 1081.9,1488.0 1082.2,1489.5C1082.5,1491.0 1082.9,1492.5 1083.2,1494.0C1083.5,1495.4 1083.9,1496.9 1084.2,1498.3C1084.5,1499.7 1084.9,1501.1 1085.2,1502.5C1085.5,1503.9 1085.9,1505.2 1086.2,1506.5C1086.5,1507.9 1086.8,1509.1 1087.2,1510.5C1087.6,1511.9 1088.0,1513.6 1088.4,1515.1C1088.8,1516.6 1089.2,1518.0 1089.6,1519.5C1090.0,1520.9 1090.4,1522.3 1090.8,1523.7C1091.2,1525.1 1091.6,1526.4 1092.0,1527.8C1092.4,1529.1 1092.8,1530.3 1093.2,1531.7C1093.6,1533.0 1094.1,1534.6 1094.6,1536.0C1095.1,1537.4 1095.5,1538.8 1096.0,1540.1C1096.5,1541.5 1096.9,1542.7 1097.4,1544.1C1097.9,1545.4 1098.5,1546.9 1099.0,1548.3C1099.5,1549.7 1100.1,1551.0 1100.6,1552.3C1101.1,1553.6 1101.6,1554.8 1102.2,1556.1C1102.8,1557.3 1103.4,1558.7 1104.0,1560.0C1104.6,1561.3 1105.2,1562.4 1105.8,1563.7C1106.4,1564.9 1107.1,1566.2 1107.8,1567.4C1108.5,1568.7 1109.3,1570.0 1110.0,1571.2C1110.7,1572.4 1111.4,1573.5 1112.2,1574.7C1113.0,1575.8 1113.8,1576.9 1114.6,1578.1C1115.4,1579.2 1116.3,1580.3 1117.2,1581.3C1118.1,1582.4 1119.0,1583.4 1120.0,1584.4C1121.0,1585.5 1122.0,1586.4 1123.0,1587.4C1124.0,1588.3 1125.1,1589.2 1126.2,1590.0C1127.3,1590.9 1128.4,1591.7 1129.6,1592.5C1130.8,1593.2 1132.0,1594.0 1133.2,1594.6C1134.4,1595.3 1135.6,1595.8 1136.8,1596.4C1138.0,1597.0 1139.3,1597.5 1140.6,1598.0C1141.9,1598.5 1143.1,1598.9 1144.4,1599.3C1145.7,1599.7 1147.1,1600.1 1148.4,1600.5C1149.7,1600.8 1151.1,1601.1 1152.4,1601.4C1153.7,1601.7 1155.1,1602.0 1156.4,1602.2C1157.7,1602.5 1159.1,1602.7 1160.4,1602.9C1161.7,1603.1 1163.1,1603.3 1164.4,1603.5C1165.7,1603.6 1167.1,1603.8 1168.4,1604.0C1169.7,1604.1 1171.1,1604.3 1172.4,1604.4C1173.7,1604.5 1175.1,1604.6 1176.4,1604.8C1177.7,1604.9 1179.1,1605.0 1180.4,1605.1C1181.7,1605.2 1183.1,1605.3 1184.4,1605.4C1185.7,1605.5 1187.1,1605.6 1188.4,1605.7C1189.7,1605.8 1191.1,1605.9 1192.4,1606.0C1193.7,1606.1 1195.1,1606.1 1196.4,1606.2C1197.7,1606.3 1199.1,1606.4 1200.4,1606.4C1201.7,1606.5 1203.1,1606.6 1204.4,1606.7C1205.7,1606.7 1207.1,1606.8 1208.4,1606.9C1209.7,1606.9 1211.1,1607.0 1212.4,1607.0C1213.7,1607.1 1215.1,1607.2 1216.4,1607.2C1217.7,1607.3 1219.1,1607.3 1220.4,1607.4C1221.7,1607.5 1223.1,1607.5 1224.4,1607.6C1225.7,1607.6 1227.1,1607.7 1228.4,1607.7C1229.7,1607.8 1231.1,1607.8 1232.4,1607.9C1233.7,1607.9 1235.1,1608.0 1236.4,1608.0C1237.7,1608.0 1239.1,1608.1 1240.4,1608.1C1241.7,1608.2 1243.1,1608.2 1244.4,1608.3C1245.7,1608.3 1247.1,1608.3 1248.4,1608.4C1249.7,1608.4 1251.1,1608.5 1252.4,1608.5C1253.7,1608.5 1255.1,1608.6 1256.4,1608.6C1257.7,1608.7 1259.1,1608.7 1260.4,1608.7C1261.7,1608.8 1263.1,1608.8 1264.4,1608.8C1265.7,1608.9 1267.1,1608.9 1268.4,1608.9C1269.7,1609.0 1271.1,1609.0 1272.4,1609.0C1273.7,1609.1 1275.1,1609.1 1276.4,1609.1C1277.7,1609.2 1279.1,1609.2 1280.4,1609.2C1281.7,1609.2 1283.1,1609.3 1284.4,1609.3C1285.7,1609.3 1287.1,1609.4 1288.4,1609.4C1289.7,1609.4 1291.1,1609.4 1292.4,1609.5C1293.7,1609.5 1295.1,1609.5 1296.4,1609.5C1297.7,1609.6 1299.1,1609.6 1300.4,1609.6C1301.7,1609.6 1303.1,1609.7 1304.4,1609.7C1305.7,1609.7 1307.1,1609.7 1308.4,1609.8C1309.7,1609.8 1311.1,1609.8 1312.4,1609.8C1313.7,1609.9 1315.1,1609.9 1316.4,1609.9C1317.7,1609.9 1319.1,1609.9 1320.4,1610.0C1321.7,1610.0 1323.1,1610.0 1324.4,1610.0C1325.7,1610.0 1327.1,1610.1 1328.4,1610.1C1329.7,1610.1 1331.1,1610.1 1332.4,1610.1C1333.7,1610.2 1335.1,1610.2 1336.4,1610.2C1337.7,1610.2 1339.1,1610.2 1340.4,1610.3C1341.7,1610.3 1343.1,1610.3 1344.4,1610.3C1345.7,1610.3 1347.1,1610.3 1348.4,1610.4C1349.7,1610.4 1351.1,1610.4 1352.4,1610.4C1353.7,1610.4 1355.1,1610.4 1356.4,1610.5C1357.7,1610.5 1359.1,1610.5 1360.4,1610.5C1361.7,1610.5 1363.1,1610.5 1364.4,1610.6C1365.7,1610.6 1367.1,1610.6 1368.4,1610.6C1369.7,1610.6 1371.1,1610.6 1372.4,1610.7C1373.7,1610.7 1375.1,1610.7 1376.4,1610.7C1377.7,1610.7 1379.1,1610.7 1380.4,1610.7C1381.7,1610.8 1383.1,1610.8 1384.4,1610.8C1385.7,1610.8 1387.1,1610.8 1388.4,1610.8C1389.7,1610.8 1391.1,1610.8 1392.4,1610.9C1393.7,1610.9 1395.1,1610.9 1396.4,1610.9C1397.7,1610.9 1399.1,1610.9 1400.4,1610.9C1401.7,1611.0 1403.1,1611.0 1404.4,1611.0C1405.7,1611.0 1407.1,1611.0 1408.4,1611.0C1409.7,1611.0 1411.1,1611.0 1412.4,1611.1C1413.7,1611.1 1415.1,1611.1 1416.4,1611.1C1417.7,1611.1 1419.1,1611.1 1420.4,1611.1C1421.7,1611.1 1423.1,1611.1 1424.4,1611.2C1425.7,1611.2 1427.1,1611.2 1428.4,1611.2C1429.7,1611.2 1431.1,1611.2 1432.4,1611.2C1433.7,1611.2 1435.1,1611.2 1436.4,1611.3C1437.7,1611.3 1439.1,1611.3 1440.4,1611.3C1441.7,1611.3 1443.1,1611.3 1444.4,1611.3C1445.7,1611.3 1447.1,1611.3 1448.4,1611.3C1449.7,1611.4 1451.1,1611.4 1452.4,1611.4C1453.7,1611.4 1455.1,1611.4 1456.4,1611.4C1457.7,1611.4 1459.1,1611.4 1460.4,1611.4C1461.7,1611.4 1463.1,1611.5 1464.4,1611.5C1465.7,1611.5 1467.4,1611.5 1468.4,1611.5C1469.4,1611.5 1470.1,1611.5 1470.4,1611.5" fill="none" stroke="#c06ac6" stroke-opacity="0.72" stroke-width="2.0" stroke-linejoin="round" stroke-linecap="round"/>
<path d="M757.4,1603.3C760.0,1602.8 767.6,1602.0 773.3,1600.2C779.0,1598.4 785.5,1595.8 791.6,1592.3C797.7,1588.8 803.8,1584.0 809.9,1578.9C816.0,1573.8 823.1,1566.9 828.2,1561.8C833.3,1556.7 836.3,1552.8 840.4,1548.3C844.5,1543.8 848.1,1538.8 852.6,1534.9C857.1,1531.1 862.2,1527.5 867.3,1525.2C872.4,1522.9 878.4,1522.1 883.1,1520.9C887.8,1519.7 891.2,1519.7 895.3,1517.8C899.4,1515.9 904.1,1512.6 907.5,1509.3C910.9,1506.0 912.8,1502.9 915.5,1498.0C918.2,1493.1 921.5,1487.8 923.8,1480.0C926.1,1472.2 927.0,1460.8 929.1,1451.1C931.2,1441.4 934.2,1432.8 936.4,1421.9C938.6,1411.0 940.3,1397.7 942.2,1385.6C944.1,1373.5 945.8,1361.3 948.0,1349.2C950.2,1337.1 953.1,1324.9 955.3,1312.8C957.5,1300.7 959.6,1287.7 961.1,1276.4C962.6,1265.1 963.7,1253.7 964.5,1245.0C965.3,1236.3 965.3,1233.3 966.0,1224.0C966.7,1214.7 967.4,1200.7 968.5,1189.0C969.6,1177.3 970.9,1165.7 972.5,1154.0C974.1,1142.3 975.9,1130.7 978.0,1119.0C980.1,1107.3 982.7,1095.0 985.0,1084.0C987.3,1073.0 989.7,1062.1 992.0,1053.2C994.3,1044.3 996.5,1035.9 998.8,1030.8C1001.1,1025.7 1003.3,1022.9 1005.7,1022.4C1008.1,1021.9 1011.0,1024.3 1013.4,1028.0C1015.8,1031.7 1018.3,1038.3 1020.4,1044.8C1022.5,1051.3 1023.9,1057.2 1026.0,1067.2C1028.1,1077.2 1030.7,1091.7 1033.0,1105.0C1035.3,1118.3 1037.7,1133.0 1040.0,1147.0C1042.3,1161.0 1045.1,1176.8 1047.0,1189.0C1048.9,1201.2 1049.9,1211.0 1051.3,1220.0C1052.7,1229.0 1053.8,1235.4 1055.4,1243.1C1057.0,1250.8 1059.2,1258.8 1061.1,1266.1C1063.0,1273.4 1064.8,1280.2 1066.9,1286.9C1069.0,1293.6 1071.7,1301.2 1073.8,1306.4C1075.9,1311.6 1077.3,1315.2 1079.6,1318.0C1081.9,1320.8 1084.9,1323.0 1087.6,1323.2C1090.3,1323.4 1093.0,1321.1 1095.7,1319.1C1098.4,1317.1 1100.9,1315.1 1103.8,1311.1C1106.7,1307.1 1109.9,1300.3 1113.0,1294.9C1116.1,1289.5 1119.1,1283.4 1122.2,1278.8C1125.3,1274.2 1128.5,1269.9 1131.4,1267.3C1134.3,1264.7 1136.8,1263.4 1139.5,1263.2C1142.2,1263.0 1144.9,1263.7 1147.6,1266.1C1150.3,1268.5 1153.1,1272.8 1155.6,1277.6C1158.1,1282.4 1160.4,1289.1 1162.5,1294.9C1164.6,1300.7 1166.2,1305.5 1168.3,1312.2C1170.4,1318.9 1172.2,1324.2 1175.2,1335.3C1178.2,1346.4 1183.6,1367.9 1186.2,1378.7C1188.8,1389.5 1189.0,1392.3 1191.1,1400.0C1193.1,1407.7 1195.8,1415.4 1198.5,1424.6C1201.2,1433.8 1204.0,1444.1 1207.1,1455.4C1210.2,1466.7 1213.3,1480.7 1217.0,1492.4C1220.7,1504.1 1225.2,1515.8 1229.3,1525.6C1233.4,1535.4 1237.5,1543.9 1241.6,1551.5C1245.7,1559.1 1249.8,1565.9 1253.9,1571.2C1258.0,1576.5 1262.1,1580.2 1266.2,1583.5C1270.3,1586.8 1273.4,1588.6 1278.5,1590.9C1283.6,1593.2 1290.8,1595.4 1297.0,1597.1C1303.2,1598.8 1308.3,1599.7 1315.5,1600.8C1322.7,1601.9 1334.0,1603.1 1340.0,1603.8C1346.0,1604.5 1343.5,1604.6 1351.5,1605.2C1359.5,1605.8 1372.5,1606.7 1388.3,1607.3C1404.1,1607.9 1432.4,1608.5 1446.1,1608.9C1459.8,1609.3 1466.4,1609.7 1470.5,1609.9" fill="none" stroke="#ff6262" stroke-opacity="0.72" stroke-width="2.0" stroke-linejoin="round" stroke-linecap="round"/>
<path d="M757.4,1614.2C758.6,1613.8 762.1,1611.4 764.8,1611.8C767.4,1612.2 770.5,1617.1 773.3,1616.7C776.1,1616.3 778.8,1611.2 781.8,1609.4C784.8,1607.6 787.9,1607.3 791.6,1605.7C795.3,1604.1 799.7,1602.4 803.8,1599.6C807.9,1596.8 811.9,1593.1 816.0,1588.6C820.1,1584.1 824.5,1577.9 828.2,1572.8C831.9,1567.7 835.5,1562.8 838.0,1558.1C840.5,1553.4 840.9,1548.8 842.9,1544.7C844.9,1540.6 847.4,1537.4 850.2,1533.7C853.1,1530.0 857.4,1525.1 860.0,1522.7C862.6,1520.3 864.1,1519.2 866.1,1519.1C868.1,1519.0 870.0,1521.2 872.2,1522.1C874.4,1523.0 877.1,1524.4 879.5,1524.5C881.9,1524.6 884.2,1523.8 886.8,1522.7C889.4,1521.6 892.2,1520.5 895.3,1517.8C898.3,1515.1 902.5,1510.4 905.1,1506.8C907.8,1503.2 909.2,1500.4 911.2,1495.9C913.2,1491.4 914.3,1487.5 916.8,1480.0C919.3,1472.5 923.4,1460.8 926.2,1451.1C929.0,1441.4 931.3,1432.8 933.5,1421.9C935.7,1411.0 937.4,1397.7 939.3,1385.6C941.2,1373.5 942.9,1361.3 945.1,1349.2C947.3,1337.1 950.2,1324.9 952.4,1312.8C954.6,1300.7 956.7,1287.7 958.2,1276.4C959.7,1265.1 960.7,1253.7 961.5,1245.0C962.3,1236.3 962.0,1233.3 963.0,1224.0C964.0,1214.7 965.8,1200.7 967.2,1189.0C968.6,1177.3 969.8,1165.7 971.4,1154.0C973.0,1142.3 974.9,1130.7 977.0,1119.0C979.1,1107.3 981.7,1095.0 984.0,1084.0C986.3,1073.0 988.7,1062.1 991.0,1053.2C993.3,1044.3 995.5,1036.1 998.0,1030.8C1000.5,1025.5 1003.1,1021.8 1005.7,1021.3C1008.3,1020.8 1011.0,1024.1 1013.4,1028.0C1015.8,1031.9 1018.3,1038.3 1020.4,1044.8C1022.5,1051.3 1023.9,1057.2 1026.0,1067.2C1028.1,1077.2 1030.7,1091.7 1033.0,1105.0C1035.3,1118.3 1037.7,1133.0 1040.0,1147.0C1042.3,1161.0 1045.1,1176.8 1047.0,1189.0C1048.9,1201.2 1049.7,1211.4 1051.3,1220.0C1052.9,1228.6 1054.3,1233.0 1056.5,1240.7C1058.7,1248.4 1062.3,1258.4 1064.6,1266.1C1066.9,1273.8 1068.4,1281.0 1070.3,1286.9C1072.2,1292.9 1074.4,1298.2 1076.1,1301.8C1077.8,1305.3 1079.0,1307.5 1080.7,1308.2C1082.4,1308.9 1084.4,1307.0 1086.5,1305.9C1088.6,1304.8 1090.9,1302.9 1093.4,1301.8C1095.9,1300.7 1099.4,1301.0 1101.5,1299.5C1103.6,1298.0 1104.2,1295.1 1106.1,1292.6C1108.0,1290.1 1110.3,1287.4 1113.0,1284.5C1115.7,1281.6 1119.3,1278.5 1122.2,1275.3C1125.1,1272.1 1127.4,1267.5 1130.3,1265.5C1133.2,1263.5 1136.6,1263.5 1139.5,1263.2C1142.4,1262.9 1145.1,1262.5 1147.6,1263.6C1150.1,1264.7 1152.4,1266.9 1154.5,1269.6C1156.6,1272.3 1158.3,1275.5 1160.2,1279.9C1162.1,1284.3 1164.1,1289.8 1166.0,1296.1C1167.9,1302.4 1170.1,1310.7 1171.8,1318.0C1173.5,1325.3 1174.0,1329.9 1176.4,1340.0C1178.8,1350.1 1183.8,1368.7 1186.2,1378.7C1188.7,1388.7 1188.0,1387.2 1191.1,1400.0C1194.2,1412.8 1200.3,1439.4 1204.6,1455.4C1208.9,1471.4 1213.3,1483.6 1217.0,1496.1C1220.7,1508.6 1223.7,1520.9 1226.8,1530.6C1229.9,1540.2 1232.5,1546.6 1235.4,1554.0C1238.3,1561.4 1240.9,1569.6 1244.0,1574.9C1247.1,1580.2 1250.8,1582.9 1253.9,1586.0C1257.0,1589.1 1259.8,1592.1 1262.5,1593.4C1265.2,1594.7 1267.2,1592.6 1269.9,1594.0C1272.6,1595.4 1275.6,1599.6 1278.5,1602.0C1281.4,1604.4 1284.1,1607.0 1287.2,1608.2C1290.3,1609.4 1293.3,1608.8 1297.0,1609.4C1300.7,1610.0 1305.8,1610.9 1309.3,1611.8C1312.8,1612.7 1314.1,1615.0 1318.0,1615.0C1321.9,1615.0 1328.8,1611.5 1332.6,1611.5C1336.4,1611.5 1337.5,1613.8 1341.0,1614.7C1344.5,1615.6 1347.3,1616.5 1353.6,1616.8C1359.9,1617.1 1373.5,1617.6 1378.8,1616.8C1384.1,1616.0 1383.1,1613.0 1385.2,1612.0C1387.3,1611.0 1389.8,1610.5 1391.5,1610.5C1393.2,1610.5 1394.1,1610.9 1395.7,1612.0C1397.3,1613.1 1396.4,1616.5 1400.9,1617.3C1405.5,1618.1 1418.3,1617.2 1423.0,1616.8C1427.7,1616.4 1427.4,1614.7 1429.3,1614.7C1431.2,1614.7 1427.7,1616.5 1434.5,1616.8C1441.3,1617.1 1464.1,1616.8 1470.0,1616.8" fill="none" stroke="#6666ff" stroke-opacity="0.72" stroke-width="2.2" stroke-linejoin="round" stroke-linecap="round"/>
<text x="842.0" y="1494.6" font-family="Liberation Sans" font-size="32.1" fill="#000">Q2</text>
<text x="940.5" y="1025.2" font-family="Liberation Sans" font-size="32.4" fill="#000">Q3</text>
<text x="1120.7" y="1235.0" font-family="Liberation Sans" font-size="32.7" fill="#000">Q4</text>
</svg>
</body></html>
